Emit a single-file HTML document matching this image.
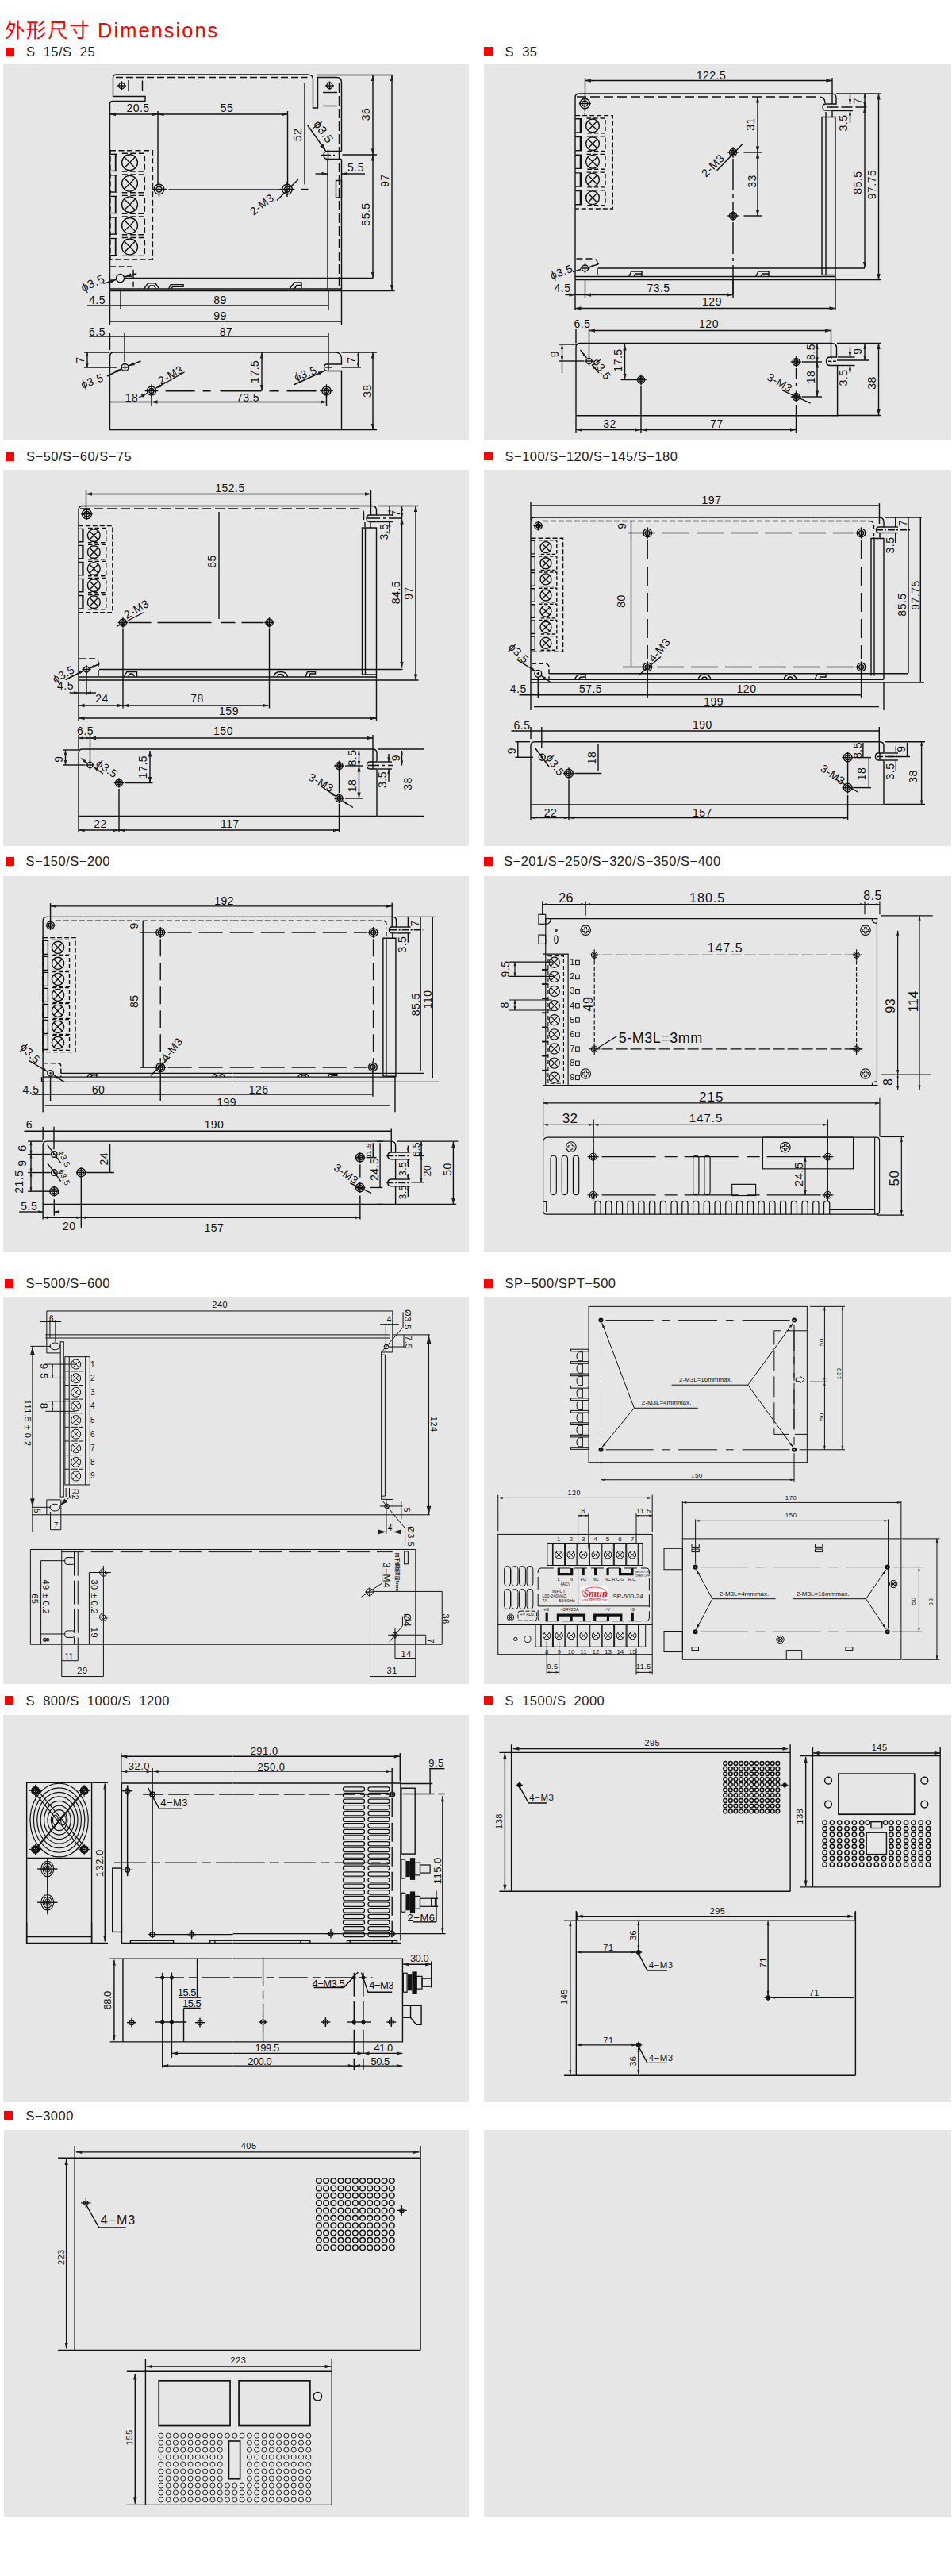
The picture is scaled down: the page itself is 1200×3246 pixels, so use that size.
<!DOCTYPE html>
<html lang="zh"><head><meta charset="utf-8"><title>外形尺寸 Dimensions</title>
<style>
html,body{margin:0;padding:0;background:#fff}
body{width:1200px;height:3246px;position:relative;overflow:hidden;font-family:"Liberation Sans","Noto Sans CJK SC",sans-serif}
.pn{position:absolute;background:#e6e6e6}
.sq{position:absolute;width:11px;height:11px;background:#fe0000}
.lb{position:absolute;font-size:16.5px;line-height:20px;color:#222;white-space:nowrap;letter-spacing:0.5px}
h1{position:absolute;left:6px;top:22px;margin:0;font-weight:normal;font-size:25.5px;line-height:32px;color:#fe0000;white-space:nowrap;letter-spacing:1.6px}
svg{position:absolute;left:0;top:0}
svg text{font-family:"Liberation Sans",sans-serif;font-size:14px;fill:#111;stroke:none;letter-spacing:0.5px}
</style></head><body>
<h1>外形尺寸 <span style="letter-spacing:2px">Dimensions</span></h1>
<div class="pn" style="left:4px;top:81px;width:587px;height:473.7px"></div>
<div class="sq" style="left:7px;top:60px"></div>
<div class="lb" style="left:33px;top:55.4px">S−15/S−25</div>
<div class="pn" style="left:609.5px;top:81px;width:589.3px;height:473.7px"></div>
<div class="sq" style="left:609.5px;top:59.4px"></div>
<div class="lb" style="left:636.5px;top:55.4px">S−35</div>
<div class="pn" style="left:4.4px;top:592px;width:586.6px;height:474.2px"></div>
<div class="sq" style="left:6.6px;top:569.5px"></div>
<div class="lb" style="left:33px;top:564.9px">S−50/S−60/S−75</div>
<div class="pn" style="left:609.5px;top:592px;width:589.3px;height:474.2px"></div>
<div class="sq" style="left:609.5px;top:569.3px"></div>
<div class="lb" style="left:636.5px;top:564.9px">S−100/S−120/S−145/S−180</div>
<div class="pn" style="left:4.4px;top:1103.7px;width:586.6px;height:474px"></div>
<div class="sq" style="left:6.6px;top:1080.1px"></div>
<div class="lb" style="left:32.5px;top:1075.1000000000001px">S−150/S−200</div>
<div class="pn" style="left:609.5px;top:1103.7px;width:589.3px;height:474px"></div>
<div class="sq" style="left:609.5px;top:1080.1px"></div>
<div class="lb" style="left:635px;top:1075.1000000000001px">S−201/S−250/S−320/S−350/S−400</div>
<div class="pn" style="left:4.4px;top:1634.1px;width:586.6px;height:488px"></div>
<div class="sq" style="left:5.8px;top:1612px"></div>
<div class="lb" style="left:32.5px;top:1607.4px">S−500/S−600</div>
<div class="pn" style="left:609.5px;top:1634.1px;width:589.3px;height:488px"></div>
<div class="sq" style="left:609.5px;top:1612px"></div>
<div class="lb" style="left:636.5px;top:1607.4px">SP−500/SPT−500</div>
<div class="pn" style="left:4.4px;top:2160.9px;width:586.6px;height:488px"></div>
<div class="sq" style="left:5.8px;top:2137px"></div>
<div class="lb" style="left:32.5px;top:2132.9px">S−800/S−1000/S−1200</div>
<div class="pn" style="left:609.5px;top:2160.9px;width:589.3px;height:488px"></div>
<div class="sq" style="left:609.5px;top:2137px"></div>
<div class="lb" style="left:636.5px;top:2132.9px">S−1500/S−2000</div>
<div class="pn" style="left:5.3px;top:2683.9px;width:585.7px;height:488.4px"></div>
<div class="sq" style="left:5.3px;top:2660.4px"></div>
<div class="lb" style="left:32.5px;top:2655.9px">S−3000</div>
<div class="pn" style="left:609.5px;top:2683.9px;width:589.3px;height:488.4px"></div>
<svg width="1200" height="3246" viewBox="0 0 1200 3246" fill="none" stroke="#111" stroke-width="1.4">
<g id="p1">
<path d="M 138.5 366.5 L 138.5 131.0 Q 138.5 128.0 141.5 127.5 L 183.0 127.5 L 183.0 121.5 L 142.5 121.5 L 142.5 98.0 Q 142.5 94.0 146.5 94.0 L 387.5 94.0 Q 394.5 94.0 394.5 100.0 L 394.5 136.0 L 400.5 136.0 L 400.5 97.5 L 424.0 97.5 Q 430.5 97.5 430.5 104.0 L 430.5 190.5"/>
<path d="M146.0 97.5L387.5 97.5" stroke-dasharray="9 4"/>
<circle cx="153.5" cy="108.0" r="3.7"/>
<path d="M147.95 108.0L159.05 108.0"/>
<path d="M153.5 102.45L153.5 113.55"/>
<path d="M162.0 101.0L162.0 115.0"/>
<path d="M179.5 101.5L179.5 115.0"/>
<circle cx="415.5" cy="108.0" r="3.7"/>
<path d="M409.95 108.0L421.05 108.0"/>
<path d="M415.5 102.45L415.5 113.55"/>
<path d="M407.0 116.5L425.0 116.5"/>
<path d="M407.0 133.5L425.0 133.5"/>
<path d="M427.5 105.0L427.5 190.5" stroke-dasharray="12 4"/>
<path d="M138.5 144.0L199.0 144.0"/>
<path d="M138.5 144.0L146.0 141.8L146.0 146.2Z" fill="#1f1f1f" stroke="none"/>
<path d="M199.0 144.0L191.5 146.2L191.5 141.8Z" fill="#1f1f1f" stroke="none"/>
<text x="174.0" y="141.0" text-anchor="middle">20.5</text>
<path d="M199.0 144.0L362.5 144.0"/>
<path d="M199.0 144.0L206.5 141.8L206.5 146.2Z" fill="#1f1f1f" stroke="none"/>
<path d="M362.5 144.0L355.0 146.2L355.0 141.8Z" fill="#1f1f1f" stroke="none"/>
<text x="286.0" y="141.0" text-anchor="middle">55</text>
<path d="M199.0 140.0L199.0 232.5"/>
<path d="M362.5 140.0L362.5 232.5"/>
<text x="380.0" y="170.0" text-anchor="middle" transform="rotate(-90 380.0 170.0)">52</text>
<path d="M384.0 105.0L384.0 232.5"/>
<path d="M380.0 238.5L388.5 238.5"/>
<circle cx="200.5" cy="238.5" r="6.25"/>
<circle cx="200.5" cy="238.5" r="3.44"/>
<path d="M191.12 238.5L209.88 238.5"/>
<path d="M200.5 229.12L200.5 247.88"/>
<circle cx="362.0" cy="238.5" r="6.25"/>
<circle cx="362.0" cy="238.5" r="3.44"/>
<path d="M352.62 238.5L371.38 238.5"/>
<path d="M362.0 229.12L362.0 247.88"/>
<path d="M212.5 239.0L354.0 239.0"/>
<text x="333.1" y="261.47" text-anchor="middle" transform="rotate(-38 333.1 261.47)">2-M3</text>
<path d="M349.0 252.5L376.0 226.0"/>
<text x="403.63" y="169.17" text-anchor="middle" style="font-size:15px;" transform="rotate(54 403.63 169.17)">ϕ3.5</text>
<path d="M387.5 157.5L410.5 190.0"/>
<path d="M410.5 190.0L403.18 184.16L407.42 181.15Z" fill="#1f1f1f" stroke="none"/>
<path d="M 430.5 190.5 L 413.0 190.5 Q 408.0 190.5 408.0 195.5 Q 408.0 200.5 413.0 200.5 L 430.5 200.5"/>
<path d="M405.0 195.5L422.0 195.5" stroke-dasharray="12 3"/>
<path d="M413.5 188.0L413.5 203.0"/>
<path d="M427.5 190.5L427.5 200.5"/>
<path d="M431.5 195.0L475.0 195.0"/>
<path d="M397.5 219.0L413.0 219.0"/>
<path d="M413.0 219.0L405.5 221.2L405.5 216.8Z" fill="#1f1f1f" stroke="none"/>
<path d="M460.0 219.0L430.5 219.0"/>
<path d="M430.5 219.0L438.0 216.8L438.0 221.2Z" fill="#1f1f1f" stroke="none"/>
<text x="448.5" y="216.0" text-anchor="middle">5.5</text>
<path d="M413.0 201.0L413.0 366.5"/>
<path d="M430.5 200.5L430.5 366.5"/>
<path d="M427.5 205.0L427.5 361.0" stroke-dasharray="12 4"/>
<rect x="423.5" y="227.5" width="7.0" height="21.5"/>
<path d="M399.0 94.5L496.0 94.5"/>
<path d="M470.0 94.5L470.0 195.0"/>
<path d="M470.0 94.5L472.2 102.0L467.8 102.0Z" fill="#1f1f1f" stroke="none"/>
<path d="M470.0 195.0L467.8 187.5L472.2 187.5Z" fill="#1f1f1f" stroke="none"/>
<text x="466.0" y="144.0" text-anchor="middle" transform="rotate(-90 466.0 144.0)">36</text>
<path d="M494.0 94.5L494.0 366.5"/>
<path d="M494.0 94.5L496.2 102.0L491.8 102.0Z" fill="#1f1f1f" stroke="none"/>
<path d="M494.0 366.5L491.8 359.0L496.2 359.0Z" fill="#1f1f1f" stroke="none"/>
<text x="490.0" y="227.5" text-anchor="middle" transform="rotate(-90 490.0 227.5)">97</text>
<path d="M470.0 195.0L470.0 350.5"/>
<path d="M470.0 195.0L472.2 202.5L467.8 202.5Z" fill="#1f1f1f" stroke="none"/>
<path d="M470.0 350.5L467.8 343.0L472.2 343.0Z" fill="#1f1f1f" stroke="none"/>
<text x="466.0" y="270.0" text-anchor="middle" transform="rotate(-90 466.0 270.0)">55.5</text>
<rect x="138.99" y="189.75" width="53.45" height="137.31" stroke-dasharray="7 3.5"/>
<circle cx="163.53" cy="204.71" r="9.92"/>
<path d="M156.52 197.7L170.54 211.72"/>
<path d="M156.52 211.72L170.54 197.7"/>
<path d="M138.99 194.29L147.06 194.29"/>
<path d="M138.99 215.46L147.06 215.46"/>
<path d="M145.71 194.29L145.71 215.46" stroke-width="1.8"/>
<path d="M153.78 193.28L182.35 193.28L182.35 216.13L153.78 216.13" stroke-dasharray="7 3.5"/>
<circle cx="163.53" cy="231.26" r="9.92"/>
<path d="M156.52 224.25L170.54 238.27"/>
<path d="M156.52 238.27L170.54 224.25"/>
<path d="M138.99 220.84L147.06 220.84"/>
<path d="M138.99 242.02L147.06 242.02"/>
<path d="M145.71 220.84L145.71 242.02" stroke-width="1.8"/>
<path d="M153.78 219.83L182.35 219.83L182.35 242.69L153.78 242.69" stroke-dasharray="7 3.5"/>
<circle cx="163.53" cy="257.82" r="9.92"/>
<path d="M156.52 250.8L170.54 264.83"/>
<path d="M156.52 264.83L170.54 250.8"/>
<path d="M138.99 247.39L147.06 247.39"/>
<path d="M138.99 268.57L147.06 268.57"/>
<path d="M145.71 247.39L145.71 268.57" stroke-width="1.8"/>
<path d="M153.78 246.39L182.35 246.39L182.35 269.24L153.78 269.24" stroke-dasharray="7 3.5"/>
<circle cx="163.53" cy="284.37" r="9.92"/>
<path d="M156.52 277.36L170.54 291.38"/>
<path d="M156.52 291.38L170.54 277.36"/>
<path d="M138.99 273.95L147.06 273.95"/>
<path d="M138.99 295.13L147.06 295.13"/>
<path d="M145.71 273.95L145.71 295.13" stroke-width="1.8"/>
<path d="M153.78 272.94L182.35 272.94L182.35 295.8L153.78 295.8" stroke-dasharray="7 3.5"/>
<circle cx="163.53" cy="310.92" r="9.92"/>
<path d="M156.52 303.91L170.54 317.93"/>
<path d="M156.52 317.93L170.54 303.91"/>
<path d="M138.99 300.5L147.06 300.5"/>
<path d="M138.99 321.68L147.06 321.68"/>
<path d="M145.71 300.5L145.71 321.68" stroke-width="1.8"/>
<path d="M153.78 299.5L182.35 299.5L182.35 322.35L153.78 322.35" stroke-dasharray="7 3.5"/>
<path d="M 138.99 335.97 L 164.71 335.97 Q 168.07 335.97 168.07 339.66" stroke-dasharray="7 3.5"/>
<path d="M168.07 339.66L168.07 350.08"/>
<path d="M168.07 354.79L168.07 364.03" stroke-dasharray="7 3.5"/>
<circle cx="151.6" cy="350.59" r="5.04"/>
<text x="119.09" y="361.36" text-anchor="middle" style="font-size:15px;" transform="rotate(-25 119.09 361.36)">ϕ3.5</text>
<path d="M130.25 357.31L146.72 352.27"/>
<path d="M146.72 352.27L139.77 356.91L138.37 352.32Z" fill="#1f1f1f" stroke="none"/>
<path d="M172.27 344.71L157.65 348.74"/>
<path d="M157.65 348.74L164.72 344.3L166.0 348.93Z" fill="#1f1f1f" stroke="none"/>
<path d="M 181.51 364.03 L 186.55 356.81 L 195.8 356.81 L 200.84 364.03 M 186.55 364.03 L 189.08 359.83 L 194.12 359.83 L 196.64 364.03"/>
<path d="M 212.61 364.03 L 215.13 358.66 L 231.09 358.66 L 231.09 361.18 L 217.65 361.18 L 215.97 364.03"/>
<path d="M156.0 350.5L470.0 350.5"/>
<path d="M138.5 364.0L430.5 364.0"/>
<path d="M138.5 366.5L497.5 366.5"/>
<path d="M 365.0 364.0 L 371.0 356.0 L 380.0 356.0 L 380.0 364.0 M 371.0 364.0 L 374.0 359.5 L 380.0 359.5"/>
<text x="122.5" y="383.0" text-anchor="middle">4.5</text>
<path d="M110.0 385.0L414.0 385.0"/>
<text x="277.5" y="383.0" text-anchor="middle">89</text>
<path d="M138.5 366.5L138.5 409.0"/>
<path d="M152.0 366.5L152.0 389.0"/>
<path d="M414.0 366.5L414.0 391.0"/>
<path d="M430.5 366.5L430.5 409.0"/>
<path d="M138.5 405.0L430.5 405.0"/>
<text x="277.5" y="403.0" text-anchor="middle">99</text>
<text x="122.5" y="423.0" text-anchor="middle">6.5</text>
<path d="M112.5 424.0L414.0 424.0"/>
<text x="285.0" y="423.0" text-anchor="middle">87</text>
<path d="M138.5 420.0L138.5 441.0"/>
<path d="M157.0 420.0L157.0 456.0"/>
<path d="M414.0 420.0L414.0 459.0"/>
<path d="M 138.5 449.0 Q 138.5 444.0 143.5 444.0 L 422.5 444.0 Q 430.5 444.0 430.5 452.0 L 430.5 459.0 L 412.0 459.0 Q 408.5 459.0 408.5 463.0 Q 408.5 467.5 412.0 467.5 L 430.5 467.5 L 430.5 541.5 L 138.5 541.5 L 138.5 449.0"/>
<path d="M410.0 463.0L418.0 463.0"/>
<path d="M414.0 460.0L414.0 466.5"/>
<circle cx="157.5" cy="463.0" r="4.5"/>
<path d="M153.0 463.0L162.0 463.0"/>
<path d="M157.5 458.5L157.5 467.5"/>
<path d="M106.0 444.0L138.5 444.0"/>
<path d="M106.0 463.0L148.0 463.0"/>
<path d="M110.0 444.0L110.0 463.0"/>
<path d="M110.0 444.0L111.6 449.0L108.4 449.0Z" fill="#1f1f1f" stroke="none"/>
<path d="M110.0 463.0L108.4 458.0L111.6 458.0Z" fill="#1f1f1f" stroke="none"/>
<text x="106.0" y="453.5" text-anchor="middle" transform="rotate(-90 106.0 453.5)">7</text>
<text x="117.72" y="484.74" text-anchor="middle" transform="rotate(-20 117.72 484.74)">ϕ3.5</text>
<path d="M135.0 474.0L153.0 465.0"/>
<path d="M153.0 465.0L147.28 470.32L145.31 466.39Z" fill="#1f1f1f" stroke="none"/>
<path d="M177.5 455.0L162.0 461.0"/>
<path d="M162.0 461.0L168.2 456.24L169.79 460.34Z" fill="#1f1f1f" stroke="none"/>
<circle cx="191.0" cy="492.5" r="5.5"/>
<circle cx="191.0" cy="492.5" r="3.03"/>
<path d="M182.75 492.5L199.25 492.5"/>
<path d="M191.0 484.25L191.0 500.75"/>
<text x="217.52" y="476.86" text-anchor="middle" transform="rotate(-30 217.52 476.86)">2-M3</text>
<path d="M232.5 469.0L196.0 489.5"/>
<path d="M196.0 489.5L201.12 484.33L203.08 487.82Z" fill="#1f1f1f" stroke="none"/>
<text x="166.0" y="506.0" text-anchor="middle">18</text>
<path d="M175.0 501.0L185.5 495.5"/>
<path d="M185.5 495.5L179.88 500.93L177.84 497.03Z" fill="#1f1f1f" stroke="none"/>
<path d="M208.6 492.7L398.5 492.7" stroke-dasharray="37 10 10 12 52 10 12 10 37"/>
<circle cx="411.5" cy="492.5" r="5.5"/>
<circle cx="411.5" cy="492.5" r="3.03"/>
<path d="M403.25 492.5L419.75 492.5"/>
<path d="M411.5 484.25L411.5 500.75"/>
<path d="M330.0 444.0L330.0 492.5"/>
<path d="M330.0 444.0L332.2 451.5L327.8 451.5Z" fill="#1f1f1f" stroke="none"/>
<path d="M330.0 492.5L327.8 485.0L332.2 485.0Z" fill="#1f1f1f" stroke="none"/>
<text x="326.0" y="468.25" text-anchor="middle" transform="rotate(-90 326.0 468.25)">17.5</text>
<path d="M191.0 506.5L411.5 506.5"/>
<path d="M191.0 506.5L198.5 504.3L198.5 508.7Z" fill="#1f1f1f" stroke="none"/>
<path d="M411.5 506.5L404.0 508.7L404.0 504.3Z" fill="#1f1f1f" stroke="none"/>
<text x="312.5" y="505.5" text-anchor="middle">73.5</text>
<path d="M138.5 506.5L191.0 506.5"/>
<path d="M191.0 499.0L191.0 511.0"/>
<path d="M411.5 499.0L411.5 511.0"/>
<text x="386.72" y="475.24" text-anchor="middle" transform="rotate(-20 386.72 475.24)">ϕ3.5</text>
<path d="M370.0 485.0L408.5 467.5"/>
<path d="M408.5 467.5L402.58 472.61L400.76 468.6Z" fill="#1f1f1f" stroke="none"/>
<path d="M430.5 444.0L475.0 444.0"/>
<path d="M430.5 463.0L455.0 463.0"/>
<path d="M451.5 444.0L451.5 463.0"/>
<path d="M451.5 444.0L453.1 449.0L449.9 449.0Z" fill="#1f1f1f" stroke="none"/>
<path d="M451.5 463.0L449.9 458.0L453.1 458.0Z" fill="#1f1f1f" stroke="none"/>
<text x="447.5" y="453.5" text-anchor="middle" transform="rotate(-90 447.5 453.5)">7</text>
<path d="M470.0 444.0L470.0 541.5"/>
<path d="M470.0 444.0L472.2 451.5L467.8 451.5Z" fill="#1f1f1f" stroke="none"/>
<path d="M470.0 541.5L467.8 534.0L472.2 534.0Z" fill="#1f1f1f" stroke="none"/>
<text x="468.0" y="492.75" text-anchor="middle" transform="rotate(-90 468.0 492.75)">38</text>
<path d="M430.5 541.5L475.0 541.5"/>
</g>
<g id="p2">
<path d="M 725.0 352.5 L 725.0 123.0 Q 725.0 118.0 730.0 118.0 L 1048.5 118.0 Q 1054.0 118.0 1054.0 124.0 L 1054.0 131.0 L 1041.0 131.0 Q 1037.0 131.0 1037.0 135.0 Q 1037.0 139.0 1041.0 139.0 L 1049.0 139.0 L 1049.0 147.5"/>
<path d="M 727.0 122.0 L 1032.5 122.0 Q 1040.0 122.0 1040.0 130.0" stroke-dasharray="12 5"/>
<path d="M1041.0 141.0L1041.0 147.5" stroke-dasharray="6 4"/>
<path d="M1042.5 135.0L1092.5 135.0" stroke-dasharray="14 4"/>
<circle cx="1048.5" cy="135.0" r="0.75" fill="#1f1f1f" stroke="none"/>
<path d="M1036.0 346.5L1036.0 147.5L1053.0 147.5L1053.0 352.5"/>
<path d="M1041.0 147.5L1041.0 346.5"/>
<path d="M1036.0 346.5L1053.0 346.5"/>
<path d="M737.5 101.5L1049.0 101.5"/>
<path d="M737.5 101.5L745.0 99.3L745.0 103.7Z" fill="#1f1f1f" stroke="none"/>
<path d="M1049.0 101.5L1041.5 103.7L1041.5 99.3Z" fill="#1f1f1f" stroke="none"/>
<text x="896.5" y="99.5" text-anchor="middle">122.5</text>
<path d="M737.5 98.0L737.5 126.0"/>
<path d="M1049.0 98.0L1049.0 131.0"/>
<path d="M1054.0 118.0L1111.0 118.0"/>
<path d="M1049.0 139.5L1075.0 139.5"/>
<path d="M1071.5 118.0L1071.5 131.0"/>
<path d="M1071.5 131.0L1069.8 125.0L1073.2 125.0Z" fill="#1f1f1f" stroke="none"/>
<path d="M1071.5 155.0L1071.5 139.5"/>
<path d="M1071.5 139.5L1073.2 145.5L1069.8 145.5Z" fill="#1f1f1f" stroke="none"/>
<text x="1067.5" y="155.0" text-anchor="middle" transform="rotate(-90 1067.5 155.0)">3.5</text>
<path d="M1090.0 118.0L1090.0 135.0"/>
<path d="M1090.0 118.0L1091.7 124.0L1088.3 124.0Z" fill="#1f1f1f" stroke="none"/>
<path d="M1090.0 135.0L1088.3 129.0L1091.7 129.0Z" fill="#1f1f1f" stroke="none"/>
<text x="1085.5" y="127.0" text-anchor="middle" transform="rotate(-90 1085.5 127.0)">7</text>
<path d="M1090.0 135.0L1090.0 337.5"/>
<path d="M1090.0 135.0L1092.2 142.5L1087.8 142.5Z" fill="#1f1f1f" stroke="none"/>
<path d="M1090.0 337.5L1087.8 330.0L1092.2 330.0Z" fill="#1f1f1f" stroke="none"/>
<text x="1086.0" y="230.0" text-anchor="middle" transform="rotate(-90 1086.0 230.0)">85.5</text>
<path d="M1107.5 118.0L1107.5 352.5"/>
<path d="M1107.5 118.0L1109.7 125.5L1105.3 125.5Z" fill="#1f1f1f" stroke="none"/>
<path d="M1107.5 352.5L1105.3 345.0L1109.7 345.0Z" fill="#1f1f1f" stroke="none"/>
<text x="1104.0" y="232.5" text-anchor="middle" transform="rotate(-90 1104.0 232.5)">97.75</text>
<circle cx="737.3" cy="130.5" r="6.25"/>
<circle cx="737.3" cy="130.5" r="3.44"/>
<path d="M729.8 130.5L744.8 130.5"/>
<path d="M737.3 123.0L737.3 138.0"/>
<path d="M725.2 145.6L772.3 145.6L772.3 263.0L725.2 263.0" stroke-dasharray="6 3"/>
<circle cx="747.0" cy="158.4" r="8.4"/>
<path d="M741.06 152.46L752.94 164.34"/>
<path d="M741.06 164.34L752.94 152.46"/>
<path d="M725.2 149.8L732.3 149.8L732.3 167.0L725.2 167.0"/>
<path d="M731.4 149.8L731.4 167.0"/>
<path d="M739.5 149.0L763.0 149.0L763.0 167.8L739.5 167.8" stroke-dasharray="5.5 3"/>
<circle cx="747.0" cy="181.1" r="8.4"/>
<path d="M741.06 175.16L752.94 187.04"/>
<path d="M741.06 187.04L752.94 175.16"/>
<path d="M725.2 172.5L732.3 172.5L732.3 189.7L725.2 189.7"/>
<path d="M731.4 172.5L731.4 189.7"/>
<path d="M739.5 171.7L763.0 171.7L763.0 190.5L739.5 190.5" stroke-dasharray="5.5 3"/>
<circle cx="747.0" cy="203.8" r="8.4"/>
<path d="M741.06 197.86L752.94 209.74"/>
<path d="M741.06 209.74L752.94 197.86"/>
<path d="M725.2 195.2L732.3 195.2L732.3 212.4L725.2 212.4"/>
<path d="M731.4 195.2L731.4 212.4"/>
<path d="M739.5 194.4L763.0 194.4L763.0 213.2L739.5 213.2" stroke-dasharray="5.5 3"/>
<circle cx="747.0" cy="226.5" r="8.4"/>
<path d="M741.06 220.56L752.94 232.44"/>
<path d="M741.06 232.44L752.94 220.56"/>
<path d="M725.2 217.9L732.3 217.9L732.3 235.1L725.2 235.1"/>
<path d="M731.4 217.9L731.4 235.1"/>
<path d="M739.5 217.1L763.0 217.1L763.0 235.9L739.5 235.9" stroke-dasharray="5.5 3"/>
<circle cx="747.0" cy="249.2" r="8.4"/>
<path d="M741.06 243.26L752.94 255.14"/>
<path d="M741.06 255.14L752.94 243.26"/>
<path d="M725.2 240.6L732.3 240.6L732.3 257.8L725.2 257.8"/>
<path d="M731.4 240.6L731.4 257.8"/>
<path d="M739.5 239.8L763.0 239.8L763.0 258.6L739.5 258.6" stroke-dasharray="5.5 3"/>
<path d="M737.3 137.5L737.3 145.0" stroke-dasharray="3 2"/>
<circle cx="924.0" cy="192.0" r="4.5"/>
<circle cx="924.0" cy="192.0" r="2.48"/>
<path d="M917.25 192.0L930.75 192.0"/>
<path d="M924.0 185.25L924.0 198.75"/>
<circle cx="924.0" cy="272.0" r="4.5"/>
<circle cx="924.0" cy="272.0" r="2.48"/>
<path d="M917.25 272.0L930.75 272.0"/>
<path d="M924.0 265.25L924.0 278.75"/>
<path d="M924.0 200.0L924.0 265.0" stroke-dasharray="40 5 4 5"/>
<path d="M924.0 280.0L924.0 370.0" stroke-dasharray="40 5 4 5"/>
<path d="M955.0 122.0L955.0 192.0"/>
<path d="M955.0 122.0L957.2 129.5L952.8 129.5Z" fill="#1f1f1f" stroke="none"/>
<path d="M955.0 192.0L952.8 184.5L957.2 184.5Z" fill="#1f1f1f" stroke="none"/>
<text x="951.0" y="156.5" text-anchor="middle" transform="rotate(-90 951.0 156.5)">31</text>
<path d="M955.0 192.0L955.0 272.0"/>
<path d="M955.0 192.0L957.2 199.5L952.8 199.5Z" fill="#1f1f1f" stroke="none"/>
<path d="M955.0 272.0L952.8 264.5L957.2 264.5Z" fill="#1f1f1f" stroke="none"/>
<text x="952.5" y="228.5" text-anchor="middle" transform="rotate(-90 952.5 228.5)">33</text>
<path d="M937.5 192.0L960.0 192.0"/>
<path d="M937.5 272.0L960.0 272.0"/>
<text x="902.06" y="212.06" text-anchor="middle" transform="rotate(-45 902.06 212.06)">2-M3</text>
<path d="M903.5 215.0L936.0 181.5"/>
<path d="M 726.5 326.0 L 747.5 326.0 Q 753.0 326.0 753.0 332.0 L 753.0 348.5" stroke-dasharray="8 4"/>
<circle cx="737.5" cy="338.0" r="4.0"/>
<path d="M731.5 338.0L743.5 338.0"/>
<path d="M737.5 332.0L737.5 344.0"/>
<text x="709.22" y="347.24" text-anchor="middle" transform="rotate(-20 709.22 347.24)">ϕ3.5</text>
<path d="M722.0 342.5L732.0 339.5"/>
<path d="M754.0 338.0L1090.0 338.0"/>
<path d="M725.0 348.5L1053.0 348.5"/>
<path d="M725.0 352.5L1111.0 352.5"/>
<path d="M 792.5 348.5 L 796.0 342.0 L 809.0 342.0 L 809.0 348.5 M 799.0 348.5 L 801.0 345.0 L 809.0 345.0"/>
<path d="M 952.5 348.5 L 956.0 342.0 L 969.0 342.0 L 969.0 348.5 M 959.0 348.5 L 961.0 345.0 L 969.0 345.0"/>
<text x="709.0" y="368.0" text-anchor="middle">4.5</text>
<path d="M712.5 371.5L725.0 371.5"/>
<path d="M725.0 371.5L717.5 373.7L717.5 369.3Z" fill="#1f1f1f" stroke="none"/>
<path d="M737.5 371.5L924.0 371.5"/>
<path d="M737.5 371.5L745.0 369.3L745.0 373.7Z" fill="#1f1f1f" stroke="none"/>
<path d="M924.0 371.5L916.5 373.7L916.5 369.3Z" fill="#1f1f1f" stroke="none"/>
<text x="830.0" y="367.5" text-anchor="middle">73.5</text>
<path d="M725.0 371.5L737.5 371.5"/>
<path d="M754.9 332.3L742.5 337.0"/>
<path d="M742.5 337.0L746.61 333.73L747.74 336.72Z" fill="#1f1f1f" stroke="none"/>
<path d="M725.0 352.5L725.0 391.0"/>
<path d="M737.5 351.0L737.5 375.0"/>
<path d="M924.0 352.5L924.0 375.0"/>
<path d="M1053.0 352.5L1053.0 391.0"/>
<path d="M725.0 388.5L1053.0 388.5"/>
<path d="M725.0 388.5L732.5 386.3L732.5 390.7Z" fill="#1f1f1f" stroke="none"/>
<path d="M1053.0 388.5L1045.5 390.7L1045.5 386.3Z" fill="#1f1f1f" stroke="none"/>
<text x="897.5" y="385.0" text-anchor="middle">129</text>
<text x="734.0" y="413.0" text-anchor="middle">6.5</text>
<path d="M742.5 416.5L1047.5 416.5"/>
<path d="M742.5 416.5L750.0 414.3L750.0 418.7Z" fill="#1f1f1f" stroke="none"/>
<path d="M1047.5 416.5L1040.0 418.7L1040.0 414.3Z" fill="#1f1f1f" stroke="none"/>
<text x="893.5" y="413.0" text-anchor="middle">120</text>
<path d="M726.0 414.0L726.0 432.5"/>
<path d="M742.5 414.0L742.5 450.0"/>
<path d="M1047.5 414.0L1047.5 450.0"/>
<path d="M 726.0 523.5 L 726.0 437.5 Q 726.0 432.5 731.0 432.5 L 1045.0 432.5"/>
<path d="M 1045.0 432.5 L 1048.0 432.5 Q 1054.5 432.5 1054.5 438.5 L 1054.5 450.0 L 1046.5 450.0 Q 1041.5 450.0 1041.5 455.2 Q 1041.5 460.5 1046.5 460.5 L 1055.6 460.5 L 1055.6 523.7 L 726.0 523.7"/>
<path d="M1047.6 450.0L1047.6 460.5" stroke-dasharray="3 2"/>
<path d="M1044.0 455.2L1055.0 455.2" stroke-dasharray="4 2"/>
<circle cx="742.5" cy="455.0" r="3.5"/>
<path d="M736.55 455.0L748.45 455.0"/>
<path d="M742.5 449.05L742.5 460.95"/>
<path d="M705.0 434.0L727.5 434.0"/>
<path d="M705.0 455.0L736.0 455.0"/>
<path d="M708.5 434.0L708.5 455.0"/>
<path d="M708.5 434.0L710.2 440.0L706.8 440.0Z" fill="#1f1f1f" stroke="none"/>
<path d="M708.5 455.0L706.8 449.0L710.2 449.0Z" fill="#1f1f1f" stroke="none"/>
<text x="704.0" y="446.0" text-anchor="middle" transform="rotate(-90 704.0 446.0)">9</text>
<path d="M708.5 455.0L708.5 470.0"/>
<text x="754.87" y="467.89" text-anchor="middle" transform="rotate(55 754.87 467.89)">ϕ3.5</text>
<path d="M731.5 441.0L739.5 451.0"/>
<path d="M739.5 451.0L734.35 447.44L737.16 445.19Z" fill="#1f1f1f" stroke="none"/>
<path d="M755.0 470.0L746.0 459.5"/>
<path d="M746.0 459.5L751.27 462.88L748.54 465.23Z" fill="#1f1f1f" stroke="none"/>
<path d="M787.5 434.0L787.5 478.5"/>
<path d="M787.5 434.0L789.7 441.5L785.3 441.5Z" fill="#1f1f1f" stroke="none"/>
<path d="M787.5 478.5L785.3 471.0L789.7 471.0Z" fill="#1f1f1f" stroke="none"/>
<text x="784.0" y="454.0" text-anchor="middle" transform="rotate(-90 784.0 454.0)">17.5</text>
<path d="M782.5 478.5L802.5 478.5"/>
<circle cx="808.0" cy="478.5" r="4.5"/>
<circle cx="808.0" cy="478.5" r="2.48"/>
<path d="M801.25 478.5L814.75 478.5"/>
<path d="M808.0 471.75L808.0 485.25"/>
<path d="M808.0 486.0L808.0 545.0"/>
<circle cx="1003.5" cy="456.0" r="4.5"/>
<circle cx="1003.5" cy="456.0" r="2.48"/>
<path d="M996.75 456.0L1010.25 456.0"/>
<path d="M1003.5 449.25L1003.5 462.75"/>
<circle cx="1003.5" cy="500.0" r="4.5"/>
<circle cx="1003.5" cy="500.0" r="2.48"/>
<path d="M996.75 500.0L1010.25 500.0"/>
<path d="M1003.5 493.25L1003.5 506.75"/>
<path d="M1003.5 464.0L1003.5 492.5" stroke-dasharray="14 5 3 5"/>
<path d="M1003.5 510.0L1003.5 545.0"/>
<path d="M1030.0 434.0L1030.0 456.0"/>
<path d="M1030.0 434.0L1031.7 440.0L1028.3 440.0Z" fill="#1f1f1f" stroke="none"/>
<path d="M1030.0 456.0L1028.3 450.0L1031.7 450.0Z" fill="#1f1f1f" stroke="none"/>
<text x="1026.5" y="443.5" text-anchor="middle" transform="rotate(-90 1026.5 443.5)">8.5</text>
<path d="M1030.0 456.0L1030.0 500.0"/>
<path d="M1030.0 456.0L1032.2 463.5L1027.8 463.5Z" fill="#1f1f1f" stroke="none"/>
<path d="M1030.0 500.0L1027.8 492.5L1032.2 492.5Z" fill="#1f1f1f" stroke="none"/>
<text x="1026.5" y="475.0" text-anchor="middle" transform="rotate(-90 1026.5 475.0)">18</text>
<path d="M1011.0 456.0L1036.0 456.0"/>
<path d="M1011.0 500.0L1036.0 500.0"/>
<text x="980.48" y="486.36" text-anchor="middle" transform="rotate(30 980.48 486.36)">3-M3</text>
<path d="M986.3 491.8L1021.6 508.2"/>
<path d="M1055.0 432.5L1111.0 432.5"/>
<path d="M1055.0 454.0L1095.0 454.0"/>
<path d="M1055.0 523.5L1111.0 523.5"/>
<path d="M1090.0 434.0L1090.0 454.0"/>
<path d="M1090.0 434.0L1091.7 440.0L1088.3 440.0Z" fill="#1f1f1f" stroke="none"/>
<path d="M1090.0 454.0L1088.3 448.0L1091.7 448.0Z" fill="#1f1f1f" stroke="none"/>
<text x="1086.0" y="442.5" text-anchor="middle" transform="rotate(-90 1086.0 442.5)">9</text>
<path d="M1071.5 437.5L1071.5 450.0"/>
<path d="M1071.5 450.0L1069.8 444.0L1073.2 444.0Z" fill="#1f1f1f" stroke="none"/>
<path d="M1071.5 470.0L1071.5 460.5"/>
<path d="M1071.5 460.5L1073.2 466.5L1069.8 466.5Z" fill="#1f1f1f" stroke="none"/>
<path d="M1056.0 450.0L1077.5 450.0"/>
<path d="M1056.0 460.5L1077.5 460.5"/>
<text x="1068.0" y="476.0" text-anchor="middle" transform="rotate(-90 1068.0 476.0)">3.5</text>
<path d="M1107.5 432.5L1107.5 523.5"/>
<path d="M1107.5 432.5L1109.7 440.0L1105.3 440.0Z" fill="#1f1f1f" stroke="none"/>
<path d="M1107.5 523.5L1105.3 516.0L1109.7 516.0Z" fill="#1f1f1f" stroke="none"/>
<text x="1104.0" y="482.5" text-anchor="middle" transform="rotate(-90 1104.0 482.5)">38</text>
<path d="M726.0 541.5L808.0 541.5"/>
<path d="M726.0 541.5L733.5 539.3L733.5 543.7Z" fill="#1f1f1f" stroke="none"/>
<path d="M808.0 541.5L800.5 543.7L800.5 539.3Z" fill="#1f1f1f" stroke="none"/>
<text x="768.5" y="538.5" text-anchor="middle">32</text>
<path d="M808.0 541.5L1003.5 541.5"/>
<path d="M808.0 541.5L815.5 539.3L815.5 543.7Z" fill="#1f1f1f" stroke="none"/>
<path d="M1003.5 541.5L996.0 543.7L996.0 539.3Z" fill="#1f1f1f" stroke="none"/>
<text x="903.5" y="538.5" text-anchor="middle">77</text>
<path d="M726.0 523.5L726.0 545.0"/>
</g>
<g id="p3">
<path d="M 99.0 857.0 L 99.0 642.5 Q 99.0 637.5 104.0 637.5 L 469.0 637.5 Q 474.5 637.5 474.5 643.0 L 474.5 649.0 L 466.0 649.0 Q 462.0 649.0 462.0 653.0 Q 462.0 657.5 466.0 657.5 L 474.5 657.5 M 467.0 657.5 L 467.0 665.0"/>
<path d="M 101.0 641.0 L 452.5 641.0 Q 458.5 641.0 458.5 647.0 L 458.5 656.0" stroke-dasharray="12 5"/>
<path d="M460.0 658.0L460.0 664.0" stroke-dasharray="6 4"/>
<path d="M463.0 653.0L510.0 653.0" stroke-dasharray="16 4 3 4"/>
<path d="M456.5 850.0L456.5 665.0L474.5 665.0L474.5 855.0"/>
<path d="M460.5 665.0L460.5 850.0"/>
<path d="M456.5 850.0L474.5 850.0"/>
<path d="M108.5 622.5L467.5 622.5"/>
<path d="M108.5 622.5L116.0 620.3L116.0 624.7Z" fill="#1f1f1f" stroke="none"/>
<path d="M467.5 622.5L460.0 624.7L460.0 620.3Z" fill="#1f1f1f" stroke="none"/>
<text x="290.0" y="619.5" text-anchor="middle">152.5</text>
<path d="M108.5 618.0L108.5 642.5"/>
<path d="M467.5 618.0L467.5 649.0"/>
<path d="M476.0 637.5L527.5 637.5"/>
<path d="M474.5 649.0L495.0 649.0"/>
<path d="M474.5 657.5L495.0 657.5"/>
<path d="M491.0 637.5L491.0 649.0"/>
<path d="M491.0 649.0L489.3 643.0L492.7 643.0Z" fill="#1f1f1f" stroke="none"/>
<path d="M491.0 672.5L491.0 657.5"/>
<path d="M491.0 657.5L492.7 663.5L489.3 663.5Z" fill="#1f1f1f" stroke="none"/>
<text x="488.5" y="670.0" text-anchor="middle" transform="rotate(-90 488.5 670.0)">3.5</text>
<path d="M506.5 637.5L506.5 653.0"/>
<path d="M506.5 637.5L508.2 643.5L504.8 643.5Z" fill="#1f1f1f" stroke="none"/>
<path d="M506.5 653.0L504.8 647.0L508.2 647.0Z" fill="#1f1f1f" stroke="none"/>
<text x="503.5" y="646.5" text-anchor="middle" transform="rotate(-90 503.5 646.5)">7</text>
<path d="M506.5 653.0L506.5 841.5"/>
<path d="M506.5 653.0L508.7 660.5L504.3 660.5Z" fill="#1f1f1f" stroke="none"/>
<path d="M506.5 841.5L504.3 834.0L508.7 834.0Z" fill="#1f1f1f" stroke="none"/>
<text x="503.5" y="746.5" text-anchor="middle" transform="rotate(-90 503.5 746.5)">84.5</text>
<path d="M524.0 637.5L524.0 857.0"/>
<path d="M524.0 637.5L526.2 645.0L521.8 645.0Z" fill="#1f1f1f" stroke="none"/>
<path d="M524.0 857.0L521.8 849.5L526.2 849.5Z" fill="#1f1f1f" stroke="none"/>
<text x="519.5" y="747.5" text-anchor="middle" transform="rotate(-90 519.5 747.5)">97</text>
<circle cx="109.4" cy="647.7" r="6.0"/>
<circle cx="109.4" cy="647.7" r="3.3"/>
<path d="M102.2 647.7L116.6 647.7"/>
<path d="M109.4 640.5L109.4 654.9"/>
<path d="M98.8 662.5L141.8 662.5L141.8 771.8L98.8 771.8" stroke-dasharray="6 3"/>
<circle cx="118.3" cy="674.6" r="7.9"/>
<path d="M112.71 669.01L123.89 680.19"/>
<path d="M112.71 680.19L123.89 669.01"/>
<path d="M98.8 666.4L104.9 666.4L104.9 682.8L98.8 682.8"/>
<path d="M104.0 666.4L104.0 682.8"/>
<path d="M111.0 665.4L133.8 665.4L133.8 683.8L111.0 683.8" stroke-dasharray="5.5 3"/>
<circle cx="118.3" cy="695.6" r="7.9"/>
<path d="M112.71 690.01L123.89 701.19"/>
<path d="M112.71 701.19L123.89 690.01"/>
<path d="M98.8 687.4L104.9 687.4L104.9 703.8L98.8 703.8"/>
<path d="M104.0 687.4L104.0 703.8"/>
<path d="M111.0 686.4L133.8 686.4L133.8 704.8L111.0 704.8" stroke-dasharray="5.5 3"/>
<circle cx="118.3" cy="716.6" r="7.9"/>
<path d="M112.71 711.01L123.89 722.19"/>
<path d="M112.71 722.19L123.89 711.01"/>
<path d="M98.8 708.4L104.9 708.4L104.9 724.8L98.8 724.8"/>
<path d="M104.0 708.4L104.0 724.8"/>
<path d="M111.0 707.4L133.8 707.4L133.8 725.8L111.0 725.8" stroke-dasharray="5.5 3"/>
<circle cx="118.3" cy="737.6" r="7.9"/>
<path d="M112.71 732.01L123.89 743.19"/>
<path d="M112.71 743.19L123.89 732.01"/>
<path d="M98.8 729.4L104.9 729.4L104.9 745.8L98.8 745.8"/>
<path d="M104.0 729.4L104.0 745.8"/>
<path d="M111.0 728.4L133.8 728.4L133.8 746.8L111.0 746.8" stroke-dasharray="5.5 3"/>
<circle cx="118.3" cy="758.7" r="7.9"/>
<path d="M112.71 753.11L123.89 764.29"/>
<path d="M112.71 764.29L123.89 753.11"/>
<path d="M98.8 750.5L104.9 750.5L104.9 766.9L98.8 766.9"/>
<path d="M104.0 750.5L104.0 766.9"/>
<path d="M111.0 749.5L133.8 749.5L133.8 767.9L111.0 767.9" stroke-dasharray="5.5 3"/>
<path d="M276.0 645.0L276.0 780.0"/>
<text x="272.0" y="707.5" text-anchor="middle" transform="rotate(-90 272.0 707.5)">65</text>
<circle cx="155.0" cy="784.5" r="4.5"/>
<circle cx="155.0" cy="784.5" r="2.48"/>
<path d="M148.7 784.5L161.3 784.5"/>
<path d="M155.0 778.2L155.0 790.8"/>
<circle cx="339.5" cy="784.5" r="4.5"/>
<circle cx="339.5" cy="784.5" r="2.48"/>
<path d="M333.2 784.5L345.8 784.5"/>
<path d="M339.5 778.2L339.5 790.8"/>
<path d="M162.5 784.5L332.5 784.5" stroke-dasharray="28 8 68 12 18 8 28 0"/>
<text x="174.52" y="771.86" text-anchor="middle" transform="rotate(-30 174.52 771.86)">2-M3</text>
<path d="M147.0 789.5L181.5 771.5"/>
<path d="M 100.0 830.0 L 119.0 830.0 Q 124.0 830.0 124.0 835.0 L 124.0 853.0" stroke-dasharray="8 4"/>
<circle cx="109.0" cy="843.5" r="3.5"/>
<path d="M103.4 843.5L114.6 843.5"/>
<path d="M109.0 837.9L109.0 849.1"/>
<path d="M125.0 843.5L507.5 843.5"/>
<path d="M99.0 853.0L474.5 853.0"/>
<path d="M99.0 857.0L527.5 857.0"/>
<text x="82.52" y="853.86" text-anchor="middle" transform="rotate(-30 82.52 853.86)">ϕ3.5</text>
<path d="M82.5 856.5L105.5 845.0"/>
<path d="M105.5 845.0L100.94 849.29L99.33 846.07Z" fill="#1f1f1f" stroke="none"/>
<path d="M125.5 836.5L113.0 842.0"/>
<path d="M113.0 842.0L117.77 837.94L119.22 841.23Z" fill="#1f1f1f" stroke="none"/>
<text x="82.5" y="869.0" text-anchor="middle">4.5</text>
<path d="M87.5 873.0L99.0 873.0"/>
<path d="M99.0 873.0L93.0 874.7L93.0 871.3Z" fill="#1f1f1f" stroke="none"/>
<path d="M121.0 873.0L109.0 873.0"/>
<path d="M109.0 873.0L115.0 871.3L115.0 874.7Z" fill="#1f1f1f" stroke="none"/>
<path d="M99.0 873.0L109.0 873.0"/>
<path d="M99.0 889.0L155.0 889.0"/>
<path d="M99.0 889.0L106.5 886.8L106.5 891.2Z" fill="#1f1f1f" stroke="none"/>
<path d="M155.0 889.0L147.5 891.2L147.5 886.8Z" fill="#1f1f1f" stroke="none"/>
<text x="128.5" y="884.5" text-anchor="middle">24</text>
<path d="M155.0 889.0L338.5 889.0"/>
<path d="M155.0 889.0L162.5 886.8L162.5 891.2Z" fill="#1f1f1f" stroke="none"/>
<path d="M338.5 889.0L331.0 891.2L331.0 886.8Z" fill="#1f1f1f" stroke="none"/>
<text x="248.5" y="884.5" text-anchor="middle">78</text>
<path d="M99.0 905.0L474.5 905.0"/>
<path d="M99.0 905.0L106.5 902.8L106.5 907.2Z" fill="#1f1f1f" stroke="none"/>
<path d="M474.5 905.0L467.0 907.2L467.0 902.8Z" fill="#1f1f1f" stroke="none"/>
<text x="288.5" y="900.5" text-anchor="middle">159</text>
<path d="M99.0 857.0L99.0 909.0"/>
<path d="M109.0 848.0L109.0 876.0"/>
<path d="M474.5 857.0L474.5 909.0"/>
<path d="M155.0 791.5L155.0 892.5"/>
<path d="M339.5 791.5L339.5 892.5"/>
<path d="M 156.0 853.0 L 160.0 846.5 L 172.5 846.5 L 172.5 853.0 M 162.0 853.0 Q 162.0 849.0 165.5 849.0 Q 169.0 849.0 169.0 853.0"/>
<path d="M 345.0 853.0 Q 346.0 846.5 353.5 846.5 Q 361.5 846.5 362.5 853.0 M 350.0 853.0 Q 350.0 849.5 353.5 849.5 Q 357.5 849.5 357.5 853.0"/>
<path d="M 385.0 853.0 L 387.5 846.5 L 397.5 846.5 L 397.5 849.0 L 391.0 849.0 L 390.0 853.0"/>
<text x="107.5" y="926.0" text-anchor="middle">6.5</text>
<path d="M99.0 930.0L113.5 930.0"/>
<path d="M99.0 930.0L104.0 928.4L104.0 931.6Z" fill="#1f1f1f" stroke="none"/>
<path d="M113.5 930.0L108.5 931.6L108.5 928.4Z" fill="#1f1f1f" stroke="none"/>
<path d="M113.5 930.0L470.0 930.0"/>
<path d="M113.5 930.0L121.0 927.8L121.0 932.2Z" fill="#1f1f1f" stroke="none"/>
<path d="M470.0 930.0L462.5 932.2L462.5 927.8Z" fill="#1f1f1f" stroke="none"/>
<text x="281.5" y="926.0" text-anchor="middle">150</text>
<path d="M99.0 926.0L99.0 944.0"/>
<path d="M113.5 926.0L113.5 960.0"/>
<path d="M470.0 926.0L470.0 960.0"/>
<path d="M 99.0 1028.5 L 99.0 949.0 Q 99.0 944.0 104.0 944.0 L 470.0 944.0 Q 475.0 944.0 475.0 949.0 L 475.0 960.0 L 466.5 960.0 Q 462.5 960.0 462.5 964.5 Q 462.5 969.0 466.5 969.0 L 475.0 969.0 L 475.0 1028.5 Z"/>
<path d="M464.0 964.5L495.0 964.5" stroke-dasharray="14 4 3 4"/>
<path d="M470.0 960.0L470.0 969.0"/>
<circle cx="113.5" cy="964.0" r="3.5"/>
<path d="M107.9 964.0L119.1 964.0"/>
<path d="M113.5 958.4L113.5 969.6"/>
<path d="M79.0 945.0L99.0 945.0"/>
<path d="M79.0 964.0L107.5 964.0"/>
<path d="M82.5 945.0L82.5 964.0"/>
<path d="M82.5 945.0L84.2 951.0L80.8 951.0Z" fill="#1f1f1f" stroke="none"/>
<path d="M82.5 964.0L80.8 958.0L84.2 958.0Z" fill="#1f1f1f" stroke="none"/>
<text x="78.5" y="956.5" text-anchor="middle" transform="rotate(-90 78.5 956.5)">9</text>
<text x="132.11" y="972.63" text-anchor="middle" transform="rotate(35 132.11 972.63)">ϕ3.5</text>
<path d="M102.0 955.5L110.5 962.0"/>
<path d="M110.5 962.0L104.64 959.79L106.83 956.93Z" fill="#1f1f1f" stroke="none"/>
<path d="M130.0 975.0L118.0 966.5"/>
<path d="M118.0 966.5L123.94 968.5L121.86 971.44Z" fill="#1f1f1f" stroke="none"/>
<circle cx="150.0" cy="986.5" r="4.5"/>
<circle cx="150.0" cy="986.5" r="2.48"/>
<path d="M143.7 986.5L156.3 986.5"/>
<path d="M150.0 980.2L150.0 992.8"/>
<path d="M158.0 986.5L192.5 986.5"/>
<path d="M150.0 994.0L150.0 1049.0"/>
<path d="M189.0 946.0L189.0 986.5"/>
<path d="M189.0 946.0L191.2 953.5L186.8 953.5Z" fill="#1f1f1f" stroke="none"/>
<path d="M189.0 986.5L186.8 979.0L191.2 979.0Z" fill="#1f1f1f" stroke="none"/>
<text x="185.0" y="966.5" text-anchor="middle" transform="rotate(-90 185.0 966.5)">17.5</text>
<circle cx="427.5" cy="965.0" r="4.5"/>
<circle cx="427.5" cy="965.0" r="2.48"/>
<path d="M421.2 965.0L433.8 965.0"/>
<path d="M427.5 958.7L427.5 971.3"/>
<circle cx="427.5" cy="1006.0" r="4.5"/>
<circle cx="427.5" cy="1006.0" r="2.48"/>
<path d="M421.2 1006.0L433.8 1006.0"/>
<path d="M427.5 999.7L427.5 1012.3"/>
<path d="M427.5 972.0L427.5 999.0"/>
<path d="M427.5 1013.0L427.5 1049.0"/>
<path d="M452.5 946.0L452.5 965.0"/>
<path d="M452.5 946.0L454.2 952.0L450.8 952.0Z" fill="#1f1f1f" stroke="none"/>
<path d="M452.5 965.0L450.8 959.0L454.2 959.0Z" fill="#1f1f1f" stroke="none"/>
<text x="449.0" y="955.0" text-anchor="middle" transform="rotate(-90 449.0 955.0)">8.5</text>
<path d="M452.5 965.0L452.5 1006.0"/>
<path d="M452.5 965.0L454.7 972.5L450.3 972.5Z" fill="#1f1f1f" stroke="none"/>
<path d="M452.5 1006.0L450.3 998.5L454.7 998.5Z" fill="#1f1f1f" stroke="none"/>
<text x="449.0" y="990.0" text-anchor="middle" transform="rotate(-90 449.0 990.0)">18</text>
<path d="M435.0 965.0L458.0 965.0"/>
<path d="M435.0 1006.0L458.0 1006.0"/>
<text x="402.48" y="990.36" text-anchor="middle" transform="rotate(30 402.48 990.36)">3-M3</text>
<path d="M405.0 991.0L423.5 1003.5"/>
<path d="M423.5 1003.5L417.52 1001.63L419.54 998.65Z" fill="#1f1f1f" stroke="none"/>
<path d="M445.0 1017.5L432.0 1009.0"/>
<path d="M432.0 1009.0L438.01 1010.78L436.04 1013.79Z" fill="#1f1f1f" stroke="none"/>
<path d="M476.0 944.0L535.0 944.0"/>
<path d="M476.0 1028.5L535.0 1028.5"/>
<path d="M506.5 946.0L506.5 964.5"/>
<path d="M506.5 946.0L508.2 952.0L504.8 952.0Z" fill="#1f1f1f" stroke="none"/>
<path d="M506.5 964.5L504.8 958.5L508.2 958.5Z" fill="#1f1f1f" stroke="none"/>
<text x="503.5" y="955.0" text-anchor="middle" transform="rotate(-90 503.5 955.0)">9</text>
<path d="M476.0 960.0L494.0 960.0"/>
<path d="M476.0 969.0L494.0 969.0"/>
<path d="M490.0 950.0L490.0 960.0"/>
<path d="M490.0 960.0L488.3 954.0L491.7 954.0Z" fill="#1f1f1f" stroke="none"/>
<path d="M490.0 985.0L490.0 969.0"/>
<path d="M490.0 969.0L491.7 975.0L488.3 975.0Z" fill="#1f1f1f" stroke="none"/>
<text x="486.5" y="982.5" text-anchor="middle" transform="rotate(-90 486.5 982.5)">3.5</text>
<text x="519.0" y="987.5" text-anchor="middle" transform="rotate(-90 519.0 987.5)">38</text>
<path d="M99.0 1046.0L150.0 1046.0"/>
<path d="M99.0 1046.0L106.5 1043.8L106.5 1048.2Z" fill="#1f1f1f" stroke="none"/>
<path d="M150.0 1046.0L142.5 1048.2L142.5 1043.8Z" fill="#1f1f1f" stroke="none"/>
<text x="126.5" y="1042.5" text-anchor="middle">22</text>
<path d="M150.0 1046.0L427.5 1046.0"/>
<path d="M150.0 1046.0L157.5 1043.8L157.5 1048.2Z" fill="#1f1f1f" stroke="none"/>
<path d="M427.5 1046.0L420.0 1048.2L420.0 1043.8Z" fill="#1f1f1f" stroke="none"/>
<text x="290.0" y="1042.5" text-anchor="middle">117</text>
<path d="M99.0 1028.5L99.0 1049.0"/>
</g>
<g id="p4">
<path d="M 669.0 860.0 L 669.0 657.0 Q 669.0 652.0 674.0 652.0 L 1108.0 652.0 Q 1114.0 652.0 1114.0 658.0 L 1114.0 664.0 L 1108.0 664.0 Q 1104.5 664.0 1104.5 667.8 Q 1104.5 671.5 1108.0 671.5 L 1114.0 671.5 M 1109.0 671.5 L 1109.0 678.5"/>
<path d="M 684.0 656.5 L 1096.0 656.5 Q 1101.5 656.5 1101.5 662.0 L 1101.5 666.0" stroke-dasharray="7 3"/>
<path d="M1101.5 671.0L1101.5 678.0" stroke-dasharray="4 2"/>
<path d="M1104.0 667.8L1148.0 667.8" stroke-dasharray="9 2 2 2"/>
<path d="M1098.0 851.5L1098.0 678.5L1114.0 678.5L1114.0 856.0"/>
<path d="M1102.0 678.5L1102.0 851.5"/>
<path d="M669.0 637.0L1108.5 637.0"/>
<path d="M669.0 637.0L669.1 636.9L669.1 637.1Z" fill="#1f1f1f" stroke="none"/>
<path d="M1108.5 637.0L1108.4 637.1L1108.4 636.9Z" fill="#1f1f1f" stroke="none"/>
<text x="897.0" y="634.5" text-anchor="middle">197</text>
<path d="M669.0 632.0L669.0 655.0"/>
<path d="M1108.5 634.0L1108.5 660.0"/>
<path d="M1115.0 652.0L1162.0 652.0"/>
<path d="M1114.0 664.0L1132.0 664.0"/>
<path d="M1114.0 671.5L1132.0 671.5"/>
<path d="M1128.7 652.0L1128.7 664.0"/>
<path d="M1128.7 671.5L1128.7 684.0"/>
<text x="1127.0" y="687.0" text-anchor="middle" transform="rotate(-90 1127.0 687.0)">3.5</text>
<path d="M1145.0 652.0L1145.0 667.8"/>
<text x="1143.0" y="659.0" text-anchor="middle" transform="rotate(-90 1143.0 659.0)">7</text>
<path d="M1145.0 667.8L1145.0 848.0"/>
<text x="1141.5" y="762.0" text-anchor="middle" transform="rotate(-90 1141.5 762.0)">85.5</text>
<path d="M1160.3 652.0L1160.3 860.0"/>
<text x="1158.5" y="750.0" text-anchor="middle" transform="rotate(-90 1158.5 750.0)">97.75</text>
<circle cx="678.5" cy="662.5" r="4.6"/>
<circle cx="678.5" cy="662.5" r="2.53"/>
<path d="M672.52 662.5L684.48 662.5"/>
<path d="M678.5 656.52L678.5 668.48"/>
<path d="M669.5 678.3L709.6 678.3L709.6 821.3L669.5 821.3" stroke-dasharray="6 3"/>
<circle cx="688.0" cy="689.6" r="7.0"/>
<path d="M683.05 684.65L692.95 694.55"/>
<path d="M683.05 694.55L692.95 684.65"/>
<path d="M669.0 681.3L674.3 681.3L674.3 697.9L669.0 697.9"/>
<path d="M679.0 680.8L701.8 680.8L701.8 698.4L679.0 698.4" stroke-dasharray="4.5 2.5"/>
<circle cx="688.0" cy="709.73" r="7.0"/>
<path d="M683.05 704.78L692.95 714.68"/>
<path d="M683.05 714.68L692.95 704.78"/>
<path d="M669.0 701.43L674.3 701.43L674.3 718.03L669.0 718.03"/>
<path d="M679.0 700.93L701.8 700.93L701.8 718.53L679.0 718.53" stroke-dasharray="4.5 2.5"/>
<circle cx="688.0" cy="729.86" r="7.0"/>
<path d="M683.05 724.91L692.95 734.81"/>
<path d="M683.05 734.81L692.95 724.91"/>
<path d="M669.0 721.56L674.3 721.56L674.3 738.16L669.0 738.16"/>
<path d="M679.0 721.06L701.8 721.06L701.8 738.66L679.0 738.66" stroke-dasharray="4.5 2.5"/>
<circle cx="688.0" cy="749.99" r="7.0"/>
<path d="M683.05 745.04L692.95 754.94"/>
<path d="M683.05 754.94L692.95 745.04"/>
<path d="M669.0 741.69L674.3 741.69L674.3 758.29L669.0 758.29"/>
<path d="M679.0 741.19L701.8 741.19L701.8 758.79L679.0 758.79" stroke-dasharray="4.5 2.5"/>
<circle cx="688.0" cy="770.12" r="7.0"/>
<path d="M683.05 765.17L692.95 775.07"/>
<path d="M683.05 775.07L692.95 765.17"/>
<path d="M669.0 761.82L674.3 761.82L674.3 778.42L669.0 778.42"/>
<path d="M679.0 761.32L701.8 761.32L701.8 778.92L679.0 778.92" stroke-dasharray="4.5 2.5"/>
<circle cx="688.0" cy="790.25" r="7.0"/>
<path d="M683.05 785.3L692.95 795.2"/>
<path d="M683.05 795.2L692.95 785.3"/>
<path d="M669.0 781.95L674.3 781.95L674.3 798.55L669.0 798.55"/>
<path d="M679.0 781.45L701.8 781.45L701.8 799.05L679.0 799.05" stroke-dasharray="4.5 2.5"/>
<circle cx="688.0" cy="810.38" r="7.0"/>
<path d="M683.05 805.43L692.95 815.33"/>
<path d="M683.05 815.33L692.95 805.43"/>
<path d="M669.0 802.08L674.3 802.08L674.3 818.68L669.0 818.68"/>
<path d="M679.0 801.58L701.8 801.58L701.8 819.18L679.0 819.18" stroke-dasharray="4.5 2.5"/>
<path d="M795.5 656.5L795.5 839.0"/>
<text x="789.0" y="662.5" text-anchor="middle" transform="rotate(-90 789.0 662.5)">9</text>
<text x="788.0" y="757.5" text-anchor="middle" transform="rotate(-90 788.0 757.5)">80</text>
<circle cx="816.2" cy="671.5" r="5.3"/>
<circle cx="816.2" cy="671.5" r="2.92"/>
<path d="M809.05 671.5L823.36 671.5"/>
<path d="M816.2 664.35L816.2 678.65"/>
<circle cx="1085.6" cy="671.5" r="5.3"/>
<circle cx="1085.6" cy="671.5" r="2.92"/>
<path d="M1078.44 671.5L1092.75 671.5"/>
<path d="M1085.6 664.35L1085.6 678.65"/>
<circle cx="816.2" cy="840.5" r="5.3"/>
<circle cx="816.2" cy="840.5" r="2.92"/>
<path d="M809.05 840.5L823.36 840.5"/>
<path d="M816.2 833.35L816.2 847.65"/>
<circle cx="1085.6" cy="840.5" r="5.3"/>
<circle cx="1085.6" cy="840.5" r="2.92"/>
<path d="M1078.44 840.5L1092.75 840.5"/>
<path d="M1085.6 833.35L1085.6 847.65"/>
<path d="M792.0 671.5L1076.0 671.5" stroke-dasharray="34 9"/>
<path d="M785.0 840.5L1076.0 840.5" stroke-dasharray="34 9"/>
<path d="M816.2 681.0L816.2 831.0" stroke-dasharray="24 9"/>
<path d="M1085.6 681.0L1085.6 831.0" stroke-dasharray="24 9"/>
<text x="834.86" y="822.24" text-anchor="middle" transform="rotate(-50 834.86 822.24)">4-M3</text>
<path d="M804.5 851.3L833.0 827.5"/>
<path d="M 670.0 836.3 L 687.0 836.3 Q 692.0 836.3 692.0 841.0 L 692.0 856.0" stroke-dasharray="6 3"/>
<circle cx="678.3" cy="848.8" r="4.4"/>
<path d="M676.54 848.8L680.06 848.8"/>
<path d="M678.3 847.04L678.3 850.56"/>
<path d="M692.0 848.8L1145.0 848.8"/>
<path d="M669.0 856.3L1114.0 856.3"/>
<path d="M669.0 860.0L1165.0 860.0"/>
<text x="650.44" y="826.56" text-anchor="middle" transform="rotate(45 650.44 826.56)">ϕ3.5</text>
<path d="M652.0 831.3L675.3 846.0"/>
<path d="M675.3 846.0L669.27 844.32L671.19 841.28Z" fill="#1f1f1f" stroke="none"/>
<path d="M694.5 860.0L682.0 851.3"/>
<path d="M682.0 851.3L687.95 853.25L685.9 856.2Z" fill="#1f1f1f" stroke="none"/>
<path d="M 724.5 856.3 Q 726.0 850.0 733.0 850.0 L 738.0 850.0 L 738.0 856.3 M 730.0 856.3 Q 730.0 853.0 734.0 853.0 L 738.0 853.0"/>
<path d="M 880.0 856.3 Q 881.0 850.0 888.0 850.0 Q 895.0 850.0 896.0 856.3 M 884.5 856.3 Q 885.0 853.0 888.0 853.0 Q 891.0 853.0 891.5 856.3"/>
<path d="M 988.0 856.3 Q 989.0 850.0 996.0 850.0 Q 1003.0 850.0 1004.0 856.3 M 992.5 856.3 Q 993.0 853.0 996.0 853.0 Q 999.0 853.0 999.5 856.3"/>
<path d="M 1027.0 856.3 L 1030.0 850.0 L 1041.0 850.0 L 1041.0 853.0 L 1034.0 853.0 L 1033.0 856.3"/>
<text x="653.3" y="873.3" text-anchor="middle">4.5</text>
<path d="M654.5 875.8L1085.6 875.8"/>
<text x="744.5" y="873.3" text-anchor="middle">57.5</text>
<text x="941.0" y="873.3" text-anchor="middle">120</text>
<path d="M669.0 860.0L669.0 895.0"/>
<path d="M678.3 853.0L678.3 879.0"/>
<path d="M816.2 847.0L816.2 879.0"/>
<path d="M1085.6 847.0L1085.6 879.0"/>
<path d="M1114.0 860.0L1114.0 895.0"/>
<path d="M673.0 890.5L1108.0 890.5"/>
<text x="899.6" y="888.5" text-anchor="middle">199</text>
<text x="658.0" y="918.5" text-anchor="middle">6.5</text>
<path d="M644.5 921.0L1108.3 921.0"/>
<text x="885.4" y="918.0" text-anchor="middle">190</text>
<path d="M669.0 916.0L669.0 931.0"/>
<path d="M682.8 916.0L682.8 942.5"/>
<path d="M1108.3 916.0L1108.3 949.0"/>
<path d="M 669.0 1014.0 L 669.0 940.0 Q 669.0 934.7 674.0 934.7 L 1109.0 934.7 Q 1114.0 934.7 1114.0 940.0 L 1114.0 949.0 L 1107.0 949.0 Q 1103.5 949.0 1103.5 953.5 Q 1103.5 958.0 1107.0 958.0 L 1114.0 958.0 L 1114.0 1014.0 Z"/>
<path d="M1105.0 953.5L1135.0 953.5" stroke-dasharray="8 2 2 2"/>
<path d="M1109.0 949.0L1109.0 958.0"/>
<circle cx="683.3" cy="954.3" r="4.0"/>
<path d="M681.7 954.3L684.9 954.3"/>
<path d="M683.3 952.7L683.3 955.9"/>
<path d="M649.5 934.7L668.0 934.7"/>
<path d="M649.5 954.3L672.0 954.3"/>
<path d="M652.8 934.7L652.8 954.3"/>
<text x="650.0" y="946.0" text-anchor="middle" transform="rotate(-90 650.0 946.0)">9</text>
<text x="695.87" y="966.89" text-anchor="middle" transform="rotate(55 695.87 966.89)">ϕ3.5</text>
<path d="M674.5 942.5L692.0 966.0"/>
<circle cx="717.0" cy="974.5" r="5.3"/>
<circle cx="717.0" cy="974.5" r="2.92"/>
<path d="M709.85 974.5L724.15 974.5"/>
<path d="M717.0 967.35L717.0 981.65"/>
<path d="M724.5 974.5L758.3 974.5"/>
<path d="M717.0 982.5L717.0 1033.0"/>
<path d="M754.0 937.5L754.0 972.0"/>
<text x="751.0" y="955.0" text-anchor="middle" transform="rotate(-90 751.0 955.0)">18</text>
<circle cx="1068.6" cy="954.6" r="5.3"/>
<circle cx="1068.6" cy="954.6" r="2.92"/>
<path d="M1061.44 954.6L1075.75 954.6"/>
<path d="M1068.6 947.45L1068.6 961.75"/>
<circle cx="1068.6" cy="992.6" r="5.3"/>
<circle cx="1068.6" cy="992.6" r="2.92"/>
<path d="M1061.44 992.6L1075.75 992.6"/>
<path d="M1068.6 985.45L1068.6 999.75"/>
<path d="M1068.6 962.0L1068.6 985.0"/>
<path d="M1068.6 1002.0L1068.6 1033.0"/>
<path d="M1087.9 936.0L1087.9 954.6"/>
<text x="1086.0" y="945.5" text-anchor="middle" transform="rotate(-90 1086.0 945.5)">8.5</text>
<path d="M1095.3 954.6L1095.3 992.6"/>
<text x="1091.0" y="975.0" text-anchor="middle" transform="rotate(-90 1091.0 975.0)">18</text>
<path d="M1076.0 954.6L1098.0 954.6"/>
<path d="M1076.0 992.6L1098.0 992.6"/>
<text x="1047.11" y="980.13" text-anchor="middle" transform="rotate(35 1047.11 980.13)">3-M3</text>
<path d="M1052.0 981.0L1082.0 998.5"/>
<path d="M1115.0 934.7L1166.0 934.7"/>
<path d="M1115.0 1013.5L1166.0 1013.5"/>
<path d="M1115.0 953.5L1147.0 953.5"/>
<path d="M1143.5 936.0L1143.5 953.5"/>
<text x="1141.0" y="943.5" text-anchor="middle" transform="rotate(-90 1141.0 943.5)">9</text>
<path d="M1115.0 949.0L1132.0 949.0"/>
<path d="M1115.0 958.0L1132.0 958.0"/>
<path d="M1129.3 940.0L1129.3 949.0"/>
<path d="M1129.3 958.0L1129.3 972.0"/>
<text x="1127.0" y="972.0" text-anchor="middle" transform="rotate(-90 1127.0 972.0)">3.5</text>
<path d="M1161.6 934.7L1161.6 1013.5"/>
<path d="M1161.6 934.7L1163.1 939.7L1160.1 939.7Z" fill="#1f1f1f" stroke="none"/>
<path d="M1161.6 1013.5L1160.1 1008.5L1163.1 1008.5Z" fill="#1f1f1f" stroke="none"/>
<text x="1156.0" y="978.5" text-anchor="middle" transform="rotate(-90 1156.0 978.5)">38</text>
<path d="M669.0 1030.5L717.0 1030.5"/>
<path d="M669.0 1030.5L675.0 1028.8L675.0 1032.2Z" fill="#1f1f1f" stroke="none"/>
<path d="M717.0 1030.5L711.0 1032.2L711.0 1028.8Z" fill="#1f1f1f" stroke="none"/>
<text x="694.0" y="1028.5" text-anchor="middle">22</text>
<path d="M717.0 1030.5L1068.6 1030.5"/>
<path d="M717.0 1030.5L723.0 1028.8L723.0 1032.2Z" fill="#1f1f1f" stroke="none"/>
<path d="M1068.6 1030.5L1062.6 1032.2L1062.6 1028.8Z" fill="#1f1f1f" stroke="none"/>
<text x="885.4" y="1028.5" text-anchor="middle">157</text>
<path d="M669.0 1014.0L669.0 1033.0"/>
</g>
<g id="p5">
<path d="M 54.12 1363.4 L 54.12 1160.46 Q 54.12 1155.42 59.16 1155.42 L 293.61 1155.42"/>
<path d="M69.87 1160.15L293.61 1160.15" stroke-dasharray="7 3"/>
<path d="M63.57 1141.87L293.61 1141.87"/>
<path d="M63.57 1141.87L71.07 1139.67L71.07 1144.07Z" fill="#1f1f1f" stroke="none"/>
<text x="282.58" y="1139.66" text-anchor="middle">192</text>
<path d="M63.57 1138.09L63.57 1163.3"/>
<circle cx="63.57" cy="1165.82" r="4.73"/>
<circle cx="63.57" cy="1165.82" r="2.6"/>
<path d="M57.43 1165.82L69.72 1165.82"/>
<path d="M63.57 1159.67L63.57 1171.96"/>
<rect x="54.12" y="1181.58" width="40.96" height="144.01" stroke-dasharray="6 3"/>
<circle cx="73.03" cy="1193.87" r="7.56"/>
<path d="M67.68 1188.52L78.37 1199.21"/>
<path d="M67.68 1199.21L78.37 1188.52"/>
<path d="M61.05 1185.36L54.12 1185.36L54.12 1202.37L61.05 1202.37"/>
<path d="M60.42 1185.36L60.42 1202.37"/>
<path d="M66.09 1184.41L87.52 1184.41L87.52 1203.32L66.09 1203.32" stroke-dasharray="5 3"/>
<circle cx="73.03" cy="1213.88" r="7.56"/>
<path d="M67.68 1208.53L78.37 1219.22"/>
<path d="M67.68 1219.22L78.37 1208.53"/>
<path d="M61.05 1205.37L54.12 1205.37L54.12 1222.38L61.05 1222.38"/>
<path d="M60.42 1205.37L60.42 1222.38"/>
<path d="M66.09 1204.42L87.52 1204.42L87.52 1223.33L66.09 1223.33" stroke-dasharray="5 3"/>
<circle cx="73.03" cy="1233.89" r="7.56"/>
<path d="M67.68 1228.54L78.37 1239.23"/>
<path d="M67.68 1239.23L78.37 1228.54"/>
<path d="M61.05 1225.38L54.12 1225.38L54.12 1242.39L61.05 1242.39"/>
<path d="M60.42 1225.38L60.42 1242.39"/>
<path d="M66.09 1224.43L87.52 1224.43L87.52 1243.34L66.09 1243.34" stroke-dasharray="5 3"/>
<circle cx="73.03" cy="1253.9" r="7.56"/>
<path d="M67.68 1248.55L78.37 1259.24"/>
<path d="M67.68 1259.24L78.37 1248.55"/>
<path d="M61.05 1245.39L54.12 1245.39L54.12 1262.41L61.05 1262.41"/>
<path d="M60.42 1245.39L60.42 1262.41"/>
<path d="M66.09 1244.44L87.52 1244.44L87.52 1263.35L66.09 1263.35" stroke-dasharray="5 3"/>
<circle cx="73.03" cy="1273.91" r="7.56"/>
<path d="M67.68 1268.56L78.37 1279.25"/>
<path d="M67.68 1279.25L78.37 1268.56"/>
<path d="M61.05 1265.4L54.12 1265.4L54.12 1282.42L61.05 1282.42"/>
<path d="M60.42 1265.4L60.42 1282.42"/>
<path d="M66.09 1264.45L87.52 1264.45L87.52 1283.36L66.09 1283.36" stroke-dasharray="5 3"/>
<circle cx="73.03" cy="1293.92" r="7.56"/>
<path d="M67.68 1288.57L78.37 1299.27"/>
<path d="M67.68 1299.27L78.37 1288.57"/>
<path d="M61.05 1285.41L54.12 1285.41L54.12 1302.43L61.05 1302.43"/>
<path d="M60.42 1285.41L60.42 1302.43"/>
<path d="M66.09 1284.46L87.52 1284.46L87.52 1303.37L66.09 1303.37" stroke-dasharray="5 3"/>
<circle cx="73.03" cy="1313.93" r="7.56"/>
<path d="M67.68 1308.58L78.37 1319.28"/>
<path d="M67.68 1319.28L78.37 1308.58"/>
<path d="M61.05 1305.42L54.12 1305.42L54.12 1322.44L61.05 1322.44"/>
<path d="M60.42 1305.42L60.42 1322.44"/>
<path d="M66.09 1304.47L87.52 1304.47L87.52 1323.38L66.09 1323.38" stroke-dasharray="5 3"/>
<path d="M180.17 1160.15L180.17 1344.5"/>
<text x="173.87" y="1166.45" text-anchor="middle" transform="rotate(-90 173.87 1166.45)">9</text>
<text x="173.87" y="1261.62" text-anchor="middle" transform="rotate(-90 173.87 1261.62)">85</text>
<path d="M176.07 1174.96L195.92 1174.96"/>
<path d="M176.07 1345.13L195.92 1345.13"/>
<circle cx="202.23" cy="1174.96" r="5.36"/>
<circle cx="202.23" cy="1174.96" r="2.95"/>
<path d="M195.26 1174.96L209.19 1174.96"/>
<path d="M202.23 1167.99L202.23 1181.92"/>
<circle cx="202.23" cy="1345.13" r="5.36"/>
<circle cx="202.23" cy="1345.13" r="2.95"/>
<path d="M195.26 1345.13L209.19 1345.13"/>
<path d="M202.23 1338.16L202.23 1352.09"/>
<path d="M202.23 1183.15L202.23 1337.56" stroke-dasharray="22 8"/>
<path d="M211.68 1174.96L462.21 1174.96" stroke-dasharray="30 9"/>
<path d="M211.68 1345.13L462.21 1345.13" stroke-dasharray="30 9"/>
<text x="220.27" y="1325.68" text-anchor="middle" transform="rotate(-50 220.27 1325.68)">4-M3</text>
<path d="M189.62 1355.53L214.2 1331.89"/>
<path d="M 55.06 1339.77 L 73.03 1339.77 Q 76.81 1339.77 76.81 1343.55 L 76.81 1357.1" stroke-dasharray="6 3"/>
<circle cx="63.57" cy="1352.37" r="3.78"/>
<path d="M62.44 1352.37L64.71 1352.37"/>
<path d="M63.57 1351.24L63.57 1353.51"/>
<text x="34.8" y="1330.72" text-anchor="middle" transform="rotate(45 34.8 1330.72)">ϕ3.5</text>
<path d="M36.79 1336.62L60.11 1350.48"/>
<path d="M60.11 1350.48L54.03 1348.96L55.87 1345.87Z" fill="#1f1f1f" stroke="none"/>
<path d="M80.9 1363.4L67.98 1355.21"/>
<path d="M67.98 1355.21L74.01 1356.9L72.08 1359.94Z" fill="#1f1f1f" stroke="none"/>
<path d="M76.81 1352.37L293.61 1352.37"/>
<path d="M54.12 1357.1L293.61 1357.1"/>
<path d="M 52.54 1357.1 L 52.54 1363.4 L 293.61 1363.4"/>
<path d="M 110.21 1357.1 Q 111.47 1352.69 116.51 1352.69 L 121.87 1352.69 L 121.87 1357.1 M 114.62 1357.1 Q 115.25 1354.89 117.77 1354.89 L 121.87 1354.89"/>
<path d="M 267.77 1357.1 Q 269.03 1352.37 275.34 1352.37 Q 281.64 1352.37 282.9 1357.1 M 271.55 1357.1 Q 272.18 1354.58 275.34 1354.58 Q 278.49 1354.58 279.12 1357.1"/>
<text x="38.99" y="1377.58" text-anchor="middle">4.5</text>
<text x="124.08" y="1377.58" text-anchor="middle">60</text>
<path d="M39.94 1379.16L293.61 1379.16"/>
<path d="M54.12 1363.4L54.12 1401.22"/>
<path d="M63.57 1356.16L63.57 1387.04"/>
<path d="M202.23 1351.43L202.23 1387.04"/>
<path d="M 293.78 1155.42 L 494.83 1155.42 Q 499.56 1155.42 499.56 1160.15 L 499.56 1168.03 L 494.2 1168.03 Q 490.42 1168.03 490.42 1171.81 Q 490.42 1175.9 494.2 1175.9 L 499.56 1175.9 M 494.83 1175.9 L 494.83 1182.21"/>
<path d="M494.2 1141.87L486.7 1144.07L486.7 1139.67Z" fill="#1f1f1f" stroke="none"/>
<path d="M293.78 1141.87L494.2 1141.87"/>
<path d="M494.2 1137.46L494.2 1168.03"/>
<path d="M 293.78 1160.15 L 483.17 1160.15 Q 486.95 1160.15 486.95 1163.93 L 486.95 1169.6" stroke-dasharray="7 3"/>
<path d="M486.95 1174.96L486.95 1181.58" stroke-dasharray="4 2"/>
<path d="M491.68 1171.81L533.28 1171.81" stroke-dasharray="9 2 2 2"/>
<circle cx="470.57" cy="1174.96" r="5.36"/>
<circle cx="470.57" cy="1174.96" r="2.95"/>
<path d="M463.6 1174.96L477.53 1174.96"/>
<path d="M470.57 1167.99L470.57 1181.92"/>
<circle cx="469.94" cy="1344.5" r="5.36"/>
<circle cx="469.94" cy="1344.5" r="2.95"/>
<path d="M462.97 1344.5L476.9 1344.5"/>
<path d="M469.94 1337.53L469.94 1351.46"/>
<path d="M470.57 1183.15L470.57 1337.56" stroke-dasharray="22 8"/>
<path d="M482.86 1356.16L482.86 1182.21L498.93 1182.21L498.93 1357.1"/>
<path d="M486.95 1182.21L486.95 1356.16"/>
<path d="M482.86 1356.16L498.93 1356.16"/>
<path d="M500.5 1155.42L548.4 1155.42"/>
<path d="M499.56 1168.03L517.52 1168.03"/>
<path d="M499.56 1175.9L517.52 1175.9"/>
<path d="M514.37 1155.42L514.37 1168.03"/>
<path d="M514.37 1175.9L514.37 1187.56"/>
<text x="512.16" y="1190.08" text-anchor="middle" transform="rotate(-90 512.16 1190.08)">3.5</text>
<path d="M530.13 1155.42L530.13 1171.81"/>
<text x="528.24" y="1163.3" text-anchor="middle" transform="rotate(-90 528.24 1163.3)">7</text>
<path d="M530.13 1171.81L530.13 1349.22"/>
<text x="528.87" y="1265.71" text-anchor="middle" transform="rotate(-90 528.87 1265.71)">85.5</text>
<path d="M545.25 1155.42L545.25 1358.68"/>
<text x="543.99" y="1259.41" text-anchor="middle" transform="rotate(-90 543.99 1259.41)">110</text>
<path d="M293.78 1352.37L534.22 1352.37"/>
<path d="M293.78 1357.1L498.93 1357.1"/>
<path d="M 293.78 1363.4 L 553.13 1363.4 M 497.98 1357.1 L 497.98 1363.4"/>
<path d="M 375.71 1357.1 Q 376.97 1352.69 382.65 1352.69 Q 388.0 1352.69 389.26 1357.1 M 379.5 1357.1 Q 380.13 1354.89 382.65 1354.89 Q 385.17 1354.89 385.8 1357.1"/>
<path d="M 413.53 1357.1 L 415.42 1353.32 L 424.87 1353.32 L 424.87 1355.21 L 418.57 1355.21 L 417.31 1357.1"/>
<text x="326.24" y="1377.58" text-anchor="middle">126</text>
<path d="M293.78 1379.16L469.62 1379.16"/>
<path d="M469.94 1350.17L469.94 1381.68"/>
<path d="M497.98 1364.03L497.98 1401.22"/>
<text x="285.74" y="1394.03" text-anchor="middle">199</text>
<path d="M56.64 1393.09L491.51 1393.09"/>
<text x="36.79" y="1422.08" text-anchor="middle">6</text>
<text x="269.98" y="1422.08" text-anchor="middle">190</text>
<path d="M30.48 1425.23L493.09 1425.23"/>
<path d="M54.12 1419.87L54.12 1435.63"/>
<path d="M67.98 1419.87L67.98 1448.24"/>
<path d="M 54.12 1517.56 L 54.12 1443.19 Q 54.12 1438.15 59.16 1438.15 L 482.69 1438.15 M 54.12 1517.56 L 482.69 1517.56"/>
<path d="M38.99 1438.15L38.99 1501.18"/>
<path d="M38.99 1438.15L40.49 1443.15L37.49 1443.15Z" fill="#1f1f1f" stroke="none"/>
<path d="M38.99 1454.54L37.49 1449.54L40.49 1449.54Z" fill="#1f1f1f" stroke="none"/>
<path d="M38.99 1454.54L40.49 1459.54L37.49 1459.54Z" fill="#1f1f1f" stroke="none"/>
<path d="M38.99 1477.54L37.49 1472.54L40.49 1472.54Z" fill="#1f1f1f" stroke="none"/>
<path d="M38.99 1477.54L40.49 1482.54L37.49 1482.54Z" fill="#1f1f1f" stroke="none"/>
<path d="M38.99 1501.18L37.49 1496.18L40.49 1496.18Z" fill="#1f1f1f" stroke="none"/>
<path d="M35.21 1438.15L54.12 1438.15"/>
<path d="M35.21 1454.54L63.57 1454.54"/>
<path d="M35.21 1477.54L63.57 1477.54"/>
<path d="M35.21 1501.18L62.0 1501.18"/>
<text x="32.69" y="1446.66" text-anchor="middle" transform="rotate(-90 32.69 1446.66)">6</text>
<text x="32.69" y="1465.57" text-anchor="middle" transform="rotate(-90 32.69 1465.57)">9</text>
<text x="28.91" y="1489.2" text-anchor="middle" transform="rotate(-90 28.91 1489.2)">21.5</text>
<circle cx="68.3" cy="1454.54" r="3.78"/>
<path d="M67.16 1454.54L69.43 1454.54"/>
<path d="M68.3 1453.4L68.3 1455.67"/>
<circle cx="68.3" cy="1477.54" r="3.78"/>
<path d="M67.16 1477.54L69.43 1477.54"/>
<path d="M68.3 1476.41L68.3 1478.68"/>
<circle cx="68.3" cy="1501.18" r="5.36"/>
<circle cx="68.3" cy="1501.18" r="2.95"/>
<path d="M61.87 1501.18L74.73 1501.18"/>
<path d="M68.3 1494.75L68.3 1507.61"/>
<text x="77.96" y="1461.73" text-anchor="middle" style="font-size:10px;" transform="rotate(65 77.96 1461.73)">ϕ3.5</text>
<text x="77.96" y="1485.05" text-anchor="middle" style="font-size:10px;" transform="rotate(65 77.96 1485.05)">ϕ3.5</text>
<path d="M59.79 1442.56L76.81 1465.57"/>
<path d="M59.79 1465.57L76.81 1488.57"/>
<circle cx="102.33" cy="1477.54" r="5.36"/>
<circle cx="102.33" cy="1477.54" r="2.95"/>
<path d="M95.9 1477.54L108.76 1477.54"/>
<path d="M102.33 1471.11L102.33 1483.97"/>
<path d="M109.26 1477.54L143.93 1477.54"/>
<path d="M138.57 1441.3L138.57 1477.54"/>
<text x="136.05" y="1460.21" text-anchor="middle" transform="rotate(-90 136.05 1460.21)">24</text>
<path d="M102.33 1483.53L102.33 1548.13"/>
<text x="36.79" y="1525.44" text-anchor="middle">5.5</text>
<path d="M24.18 1527.02L54.12 1527.02"/>
<path d="M54.12 1527.02L48.12 1528.72L48.12 1525.32Z" fill="#1f1f1f" stroke="none"/>
<path d="M75.23 1527.02L68.3 1527.02"/>
<path d="M68.3 1527.02L74.3 1525.32L74.3 1528.72Z" fill="#1f1f1f" stroke="none"/>
<path d="M68.3 1511.26L68.3 1531.74"/>
<path d="M54.12 1534.26L102.33 1534.26"/>
<path d="M54.12 1534.26L60.12 1532.56L60.12 1535.96Z" fill="#1f1f1f" stroke="none"/>
<path d="M102.33 1534.26L96.33 1535.96L96.33 1532.56Z" fill="#1f1f1f" stroke="none"/>
<text x="87.21" y="1549.71" text-anchor="middle">20</text>
<path d="M102.33 1534.26L453.7 1534.26"/>
<path d="M102.33 1534.26L108.33 1532.56L108.33 1535.96Z" fill="#1f1f1f" stroke="none"/>
<text x="269.98" y="1552.23" text-anchor="middle">157</text>
<path d="M54.12 1517.56L54.12 1536.47"/>
<path d="M493.26 1422.39L493.26 1451.39"/>
<path d="M 475.29 1438.15 L 492.94 1438.15 Q 498.61 1438.15 498.61 1443.82 L 498.61 1452.02 L 493.26 1452.02 Q 488.84 1452.02 488.84 1456.43 Q 488.84 1460.84 493.26 1460.84 L 498.61 1460.84 L 498.61 1486.05 L 493.26 1486.05 Q 488.84 1486.05 488.84 1490.46 Q 488.84 1494.87 493.26 1494.87 L 498.61 1494.87 L 498.61 1517.56 L 475.29 1517.56"/>
<path d="M487.27 1456.43L516.89 1456.43" stroke-dasharray="9 2 2 2"/>
<path d="M487.27 1490.46L516.89 1490.46" stroke-dasharray="9 2 2 2"/>
<circle cx="453.87" cy="1458.63" r="5.36"/>
<circle cx="453.87" cy="1458.63" r="2.95"/>
<path d="M447.44 1458.63L460.29 1458.63"/>
<path d="M453.87 1452.21L453.87 1465.06"/>
<circle cx="453.87" cy="1496.45" r="5.36"/>
<circle cx="453.87" cy="1496.45" r="2.95"/>
<path d="M447.44 1496.45L460.29 1496.45"/>
<path d="M453.87 1490.02L453.87 1502.88"/>
<path d="M453.87 1467.14L453.87 1483.53"/>
<path d="M453.87 1506.53L453.87 1536.47"/>
<text x="468.05" y="1449.81" text-anchor="middle" style="font-size:9px;" transform="rotate(-90 468.05 1449.81)">11.5</text>
<path d="M470.25 1440.36L470.25 1458.63"/>
<path d="M461.74 1458.63L474.35 1458.63"/>
<path d="M479.08 1440.36L479.08 1496.45"/>
<text x="477.18" y="1473.45" text-anchor="middle" transform="rotate(-90 477.18 1473.45)">24.5</text>
<path d="M466.47 1496.45L482.23 1496.45"/>
<text x="433.64" y="1483.25" text-anchor="middle" transform="rotate(35 433.64 1483.25)">3-M3</text>
<path d="M441.26 1490.78L468.05 1503.38"/>
<path d="M500.5 1438.15L577.39 1438.15"/>
<path d="M498.61 1517.56L575.19 1517.56"/>
<path d="M521.62 1456.43L534.22 1456.43"/>
<path d="M518.47 1489.83L534.22 1489.83"/>
<path d="M498.61 1452.02L516.89 1452.02"/>
<path d="M498.61 1460.84L516.89 1460.84"/>
<path d="M498.61 1486.05L516.89 1486.05"/>
<path d="M498.61 1494.87L516.89 1494.87"/>
<path d="M531.07 1438.78L531.07 1456.43"/>
<path d="M531.07 1438.78L532.57 1443.78L529.57 1443.78Z" fill="#1f1f1f" stroke="none"/>
<path d="M531.07 1456.43L529.57 1451.43L532.57 1451.43Z" fill="#1f1f1f" stroke="none"/>
<text x="529.5" y="1448.24" text-anchor="middle" style="font-size:12px;" transform="rotate(-90 529.5 1448.24)">6.5</text>
<path d="M531.07 1456.43L531.07 1489.83"/>
<path d="M531.07 1456.43L532.57 1461.43L529.57 1461.43Z" fill="#1f1f1f" stroke="none"/>
<path d="M531.07 1489.83L529.57 1484.83L532.57 1484.83Z" fill="#1f1f1f" stroke="none"/>
<text x="543.05" y="1475.02" text-anchor="middle" style="font-size:12px;" transform="rotate(-90 543.05 1475.02)">20</text>
<path d="M571.41 1438.78L571.41 1517.56"/>
<path d="M571.41 1438.78L573.61 1446.28L569.21 1446.28Z" fill="#1f1f1f" stroke="none"/>
<path d="M571.41 1517.56L569.21 1510.06L573.61 1510.06Z" fill="#1f1f1f" stroke="none"/>
<text x="568.89" y="1473.45" text-anchor="middle" transform="rotate(-90 568.89 1473.45)">50</text>
<path d="M514.37 1443.51L514.37 1452.02"/>
<path d="M514.37 1452.02L512.87 1447.02L515.87 1447.02Z" fill="#1f1f1f" stroke="none"/>
<path d="M514.37 1470.29L514.37 1460.84"/>
<path d="M514.37 1460.84L515.87 1465.84L512.87 1465.84Z" fill="#1f1f1f" stroke="none"/>
<path d="M514.37 1479.12L514.37 1486.05"/>
<path d="M514.37 1486.05L512.87 1481.05L515.87 1481.05Z" fill="#1f1f1f" stroke="none"/>
<path d="M514.37 1508.11L514.37 1494.87"/>
<path d="M514.37 1494.87L515.87 1499.87L512.87 1499.87Z" fill="#1f1f1f" stroke="none"/>
<text x="511.53" y="1472.82" text-anchor="middle" style="font-size:12px;" transform="rotate(-90 511.53 1472.82)">3.5</text>
<text x="511.53" y="1502.44" text-anchor="middle" style="font-size:12px;" transform="rotate(-90 511.53 1502.44)">3.5</text>
<path d="M453.87 1534.26L447.87 1535.96L447.87 1532.56Z" fill="#1f1f1f" stroke="none"/>
</g>
<g id="p6" stroke-width="1.15">
<path d="M683.66 1139.66L738.17 1139.66"/>
<path d="M683.66 1139.66L689.66 1137.96L689.66 1141.36Z" fill="#1f1f1f" stroke="none"/>
<path d="M738.17 1139.66L732.17 1141.36L732.17 1137.96Z" fill="#1f1f1f" stroke="none"/>
<text x="713.59" y="1137.46" text-anchor="middle" style="font-size:16px;">26</text>
<path d="M738.17 1139.66L1105.29 1139.66"/>
<path d="M738.17 1139.66L744.17 1137.96L744.17 1141.36Z" fill="#1f1f1f" stroke="none"/>
<text x="891.64" y="1137.46" text-anchor="middle" style="font-size:16px;letter-spacing:1px;">180.5</text>
<path d="M683.66 1135.57L683.66 1152.27"/>
<path d="M738.17 1135.57L738.17 1153.84"/>
<path d="M687.75 1157.63L1106.55 1157.63"/>
<path d="M687.75 1157.63L687.75 1202.06"/>
<rect x="678.93" y="1152.27" width="8.82" height="11.97"/>
<path d="M 687.75 1164.24 Q 694.05 1164.24 694.05 1157.63"/>
<rect x="678.93" y="1178.11" width="8.82" height="11.34"/>
<circle cx="700.99" cy="1172.12" r="1.26"/>
<ellipse cx="700.99" cy="1183.78" rx="2.2" ry="4.7"/>
<circle cx="738.17" cy="1172.12" r="6.3"/>
<path d="M736.91 1168.21L739.43 1168.21L739.43 1170.86L742.08 1170.86L742.08 1173.38L739.43 1173.38L739.43 1176.03L736.91 1176.03L736.91 1173.38L734.26 1173.38L734.26 1170.86L736.91 1170.86Z" stroke-width="1"/>
<circle cx="738.17" cy="1353.0" r="6.3"/>
<path d="M736.91 1349.1L739.43 1349.1L739.43 1351.74L742.08 1351.74L742.08 1354.26L739.43 1354.26L739.43 1356.91L736.91 1356.91L736.91 1354.26L734.26 1354.26L734.26 1351.74L736.91 1351.74Z" stroke-width="1"/>
<path d="M684.6 1202.06L716.11 1202.06L716.11 1367.18"/>
<path d="M687.75 1202.06L687.75 1367.18"/>
<rect x="690.9" y="1204.58" width="19.54" height="160.71" stroke-dasharray="5 3"/>
<circle cx="698.78" cy="1212.77" r="6.62"/>
<path d="M694.1 1208.09L703.46 1217.45"/>
<path d="M694.1 1217.45L703.46 1208.09"/>
<text x="721.47" y="1216.24" text-anchor="middle" style="font-size:11px;">1</text>
<rect x="725.57" y="1210.25" width="4.72" height="5.36" stroke-width="1"/>
<path d="M683.03 1221.91L691.22 1221.91" stroke-width="1.8"/>
<circle cx="698.78" cy="1230.89" r="6.62"/>
<path d="M694.1 1226.21L703.46 1235.57"/>
<path d="M694.1 1235.57L703.46 1226.21"/>
<text x="721.47" y="1234.36" text-anchor="middle" style="font-size:11px;">2</text>
<rect x="725.57" y="1228.37" width="4.72" height="5.36" stroke-width="1"/>
<path d="M683.03 1240.03L691.22 1240.03" stroke-width="1.8"/>
<circle cx="698.78" cy="1249.01" r="6.62"/>
<path d="M694.1 1244.33L703.46 1253.69"/>
<path d="M694.1 1253.69L703.46 1244.33"/>
<text x="721.47" y="1252.48" text-anchor="middle" style="font-size:11px;">3</text>
<rect x="725.57" y="1246.49" width="4.72" height="5.36" stroke-width="1"/>
<path d="M683.03 1258.15L691.22 1258.15" stroke-width="1.8"/>
<circle cx="698.78" cy="1267.13" r="6.62"/>
<path d="M694.1 1262.45L703.46 1271.81"/>
<path d="M694.1 1271.81L703.46 1262.45"/>
<text x="721.47" y="1270.6" text-anchor="middle" style="font-size:11px;">4</text>
<rect x="725.57" y="1264.61" width="4.72" height="5.36" stroke-width="1"/>
<path d="M683.03 1276.27L691.22 1276.27" stroke-width="1.8"/>
<circle cx="698.78" cy="1285.25" r="6.62"/>
<path d="M694.1 1280.57L703.46 1289.93"/>
<path d="M694.1 1289.93L703.46 1280.57"/>
<text x="721.47" y="1288.72" text-anchor="middle" style="font-size:11px;">5</text>
<rect x="725.57" y="1282.73" width="4.72" height="5.36" stroke-width="1"/>
<path d="M683.03 1294.39L691.22 1294.39" stroke-width="1.8"/>
<circle cx="698.78" cy="1303.37" r="6.62"/>
<path d="M694.1 1298.69L703.46 1308.05"/>
<path d="M694.1 1308.05L703.46 1298.69"/>
<text x="721.47" y="1306.84" text-anchor="middle" style="font-size:11px;">6</text>
<rect x="725.57" y="1300.85" width="4.72" height="5.36" stroke-width="1"/>
<path d="M683.03 1312.51L691.22 1312.51" stroke-width="1.8"/>
<circle cx="698.78" cy="1321.49" r="6.62"/>
<path d="M694.1 1316.81L703.46 1326.17"/>
<path d="M694.1 1326.17L703.46 1316.81"/>
<text x="721.47" y="1324.96" text-anchor="middle" style="font-size:11px;">7</text>
<rect x="725.57" y="1318.97" width="4.72" height="5.36" stroke-width="1"/>
<path d="M683.03 1330.63L691.22 1330.63" stroke-width="1.8"/>
<circle cx="698.78" cy="1339.61" r="6.62"/>
<path d="M694.1 1334.93L703.46 1344.29"/>
<path d="M694.1 1344.29L703.46 1334.93"/>
<text x="721.47" y="1343.08" text-anchor="middle" style="font-size:11px;">8</text>
<rect x="725.57" y="1337.09" width="4.72" height="5.36" stroke-width="1"/>
<path d="M683.03 1348.75L691.22 1348.75" stroke-width="1.8"/>
<circle cx="698.78" cy="1357.73" r="6.62"/>
<path d="M694.1 1353.05L703.46 1362.41"/>
<path d="M694.1 1362.41L703.46 1353.05"/>
<text x="721.47" y="1361.2" text-anchor="middle" style="font-size:11px;">9</text>
<rect x="725.57" y="1355.21" width="4.72" height="5.36" stroke-width="1"/>
<path d="M642.06 1212.14L698.78 1212.14"/>
<path d="M642.06 1230.42L698.78 1230.42"/>
<path d="M648.99 1212.14L648.99 1230.42"/>
<path d="M648.99 1212.14L650.49 1217.14L647.49 1217.14Z" fill="#1f1f1f" stroke="none"/>
<path d="M648.99 1230.42L647.49 1225.42L650.49 1225.42Z" fill="#1f1f1f" stroke="none"/>
<text x="642.06" y="1220.97" text-anchor="middle" transform="rotate(-90 642.06 1220.97)">9.5</text>
<path d="M642.06 1260.04L695.63 1260.04"/>
<path d="M642.06 1272.96L695.63 1272.96"/>
<path d="M648.99 1260.04L648.99 1272.96"/>
<path d="M648.99 1260.04L650.49 1265.04L647.49 1265.04Z" fill="#1f1f1f" stroke="none"/>
<path d="M648.99 1272.96L647.49 1267.96L650.49 1267.96Z" fill="#1f1f1f" stroke="none"/>
<text x="640.8" y="1266.34" text-anchor="middle" transform="rotate(-90 640.8 1266.34)">8</text>
<text x="746.68" y="1265.08" text-anchor="middle" style="font-size:16px;" transform="rotate(-90 746.68 1265.08)">49</text>
<circle cx="749.2" cy="1203.32" r="3.78"/>
<circle cx="749.2" cy="1203.32" r="2.08"/>
<path d="M742.02 1203.32L756.39 1203.32"/>
<path d="M749.2 1196.13L749.2 1210.5"/>
<circle cx="749.2" cy="1321.81" r="3.78"/>
<circle cx="749.2" cy="1321.81" r="2.08"/>
<path d="M742.02 1321.81L756.39 1321.81"/>
<path d="M749.2 1314.62L749.2 1328.99"/>
<path d="M758.66 1203.32L1087.33 1203.32" stroke-dasharray="14 4"/>
<path d="M758.66 1321.81L1087.33 1321.81" stroke-dasharray="14 4"/>
<path d="M749.2 1210.57L749.2 1315.5" stroke-dasharray="5 2.5"/>
<text x="779.77" y="1313.61" style="font-size:18px;">5-M3L=3mm</text>
<path d="M753.93 1320.23L777.56 1305.74"/>
<text x="891.64" y="1200.48" style="font-size:16px;letter-spacing:1px;">147.5</text>
<path d="M684.6 1367.5L1106.55 1367.5"/>
<path d="M1090.02 1139.66L1084.02 1141.36L1084.02 1137.96Z" fill="#1f1f1f" stroke="none"/>
<path d="M1090.02 1139.66L1108.93 1139.66"/>
<path d="M1090.02 1139.66L1095.02 1138.16L1095.02 1141.16Z" fill="#1f1f1f" stroke="none"/>
<path d="M1108.93 1139.66L1103.93 1141.16L1103.93 1138.16Z" fill="#1f1f1f" stroke="none"/>
<text x="1100.11" y="1133.99" text-anchor="middle" style="font-size:16px;">8.5</text>
<path d="M1090.02 1135.57L1090.02 1152.27"/>
<path d="M1108.93 1135.57L1108.93 1152.27"/>
<path d="M1105.46 1157.63L1105.46 1368.13"/>
<path d="M 1099.16 1157.63 Q 1099.16 1163.3 1105.46 1163.3"/>
<path d="M 1099.16 1368.13 Q 1099.16 1362.46 1105.46 1362.46"/>
<circle cx="1090.97" cy="1172.12" r="6.3"/>
<path d="M1089.71 1168.21L1092.23 1168.21L1092.23 1170.86L1094.87 1170.86L1094.87 1173.38L1092.23 1173.38L1092.23 1176.03L1089.71 1176.03L1089.71 1173.38L1087.06 1173.38L1087.06 1170.86L1089.71 1170.86Z" stroke-width="1"/>
<circle cx="1090.97" cy="1353.0" r="6.3"/>
<path d="M1089.71 1349.1L1092.23 1349.1L1092.23 1351.74L1094.87 1351.74L1094.87 1354.26L1092.23 1354.26L1092.23 1356.91L1089.71 1356.91L1089.71 1354.26L1087.06 1354.26L1087.06 1351.74L1089.71 1351.74Z" stroke-width="1"/>
<circle cx="1079.62" cy="1203.32" r="3.78"/>
<circle cx="1079.62" cy="1203.32" r="2.08"/>
<path d="M1072.44 1203.32L1086.81 1203.32"/>
<path d="M1079.62 1196.13L1079.62 1210.5"/>
<circle cx="1079.62" cy="1321.81" r="3.78"/>
<circle cx="1079.62" cy="1321.81" r="2.08"/>
<path d="M1072.44 1321.81L1086.81 1321.81"/>
<path d="M1079.62 1314.62L1079.62 1328.99"/>
<path d="M1079.62 1210.57L1079.62 1315.5" stroke-dasharray="5 2.5"/>
<path d="M1110.5 1153.84L1175.74 1153.84"/>
<path d="M1110.5 1353.95L1174.16 1353.95"/>
<path d="M1110.5 1373.49L1175.74 1373.49"/>
<path d="M1131.62 1172.75L1131.62 1353.95"/>
<path d="M1131.62 1172.75L1133.22 1178.75L1130.02 1178.75Z" fill="#1f1f1f" stroke="none"/>
<path d="M1131.62 1353.95L1130.02 1347.95L1133.22 1347.95Z" fill="#1f1f1f" stroke="none"/>
<text x="1127.52" y="1267.29" text-anchor="middle" style="font-size:16px;" transform="rotate(-90 1127.52 1267.29)">93</text>
<path d="M1159.03 1153.84L1159.03 1373.49"/>
<path d="M1159.03 1153.84L1160.63 1159.84L1157.43 1159.84Z" fill="#1f1f1f" stroke="none"/>
<path d="M1159.03 1373.49L1157.43 1367.49L1160.63 1367.49Z" fill="#1f1f1f" stroke="none"/>
<text x="1157.46" y="1261.62" text-anchor="middle" style="font-size:16px;" transform="rotate(-90 1157.46 1261.62)">114</text>
<path d="M1131.62 1353.95L1131.62 1373.49"/>
<path d="M1131.62 1353.95L1133.12 1358.95L1130.12 1358.95Z" fill="#1f1f1f" stroke="none"/>
<path d="M1131.62 1373.49L1130.12 1368.49L1133.12 1368.49Z" fill="#1f1f1f" stroke="none"/>
<text x="1124.68" y="1363.4" text-anchor="middle" style="font-size:16px;" transform="rotate(-90 1124.68 1363.4)">8</text>
<path d="M684.6 1389.94L1108.45 1389.94"/>
<path d="M684.6 1389.94L690.6 1388.24L690.6 1391.64Z" fill="#1f1f1f" stroke="none"/>
<text x="896.68" y="1388.36" text-anchor="middle" style="font-size:17px;letter-spacing:1px;">215</text>
<path d="M684.6 1417.35L748.26 1417.35"/>
<path d="M684.6 1417.35L690.6 1415.65L690.6 1419.05Z" fill="#1f1f1f" stroke="none"/>
<path d="M748.26 1417.35L742.26 1419.05L742.26 1415.65Z" fill="#1f1f1f" stroke="none"/>
<text x="718.63" y="1415.15" text-anchor="middle" style="font-size:17px;">32</text>
<path d="M748.26 1417.35L1042.27 1417.35"/>
<path d="M748.26 1417.35L754.26 1415.65L754.26 1419.05Z" fill="#1f1f1f" stroke="none"/>
<text x="890.06" y="1413.57" text-anchor="middle" style="font-size:15px;letter-spacing:1px;">147.5</text>
<path d="M684.6 1382.69L684.6 1433.11"/>
<path d="M748.26 1410.42L748.26 1511.26"/>
<path d="M 1102.14 1433.11 L 690.9 1433.11 Q 684.6 1433.11 684.6 1439.41 L 684.6 1525.44 Q 684.6 1530.17 689.33 1530.17 L 1102.14 1530.17"/>
<path d="M 684.6 1514.41 L 688.7 1514.41 L 688.7 1527.02"/>
<circle cx="719.89" cy="1445.08" r="6.3"/>
<path d="M718.63 1441.18L721.16 1441.18L721.16 1443.82L723.8 1443.82L723.8 1446.34L721.16 1446.34L721.16 1448.99L718.63 1448.99L718.63 1446.34L715.99 1446.34L715.99 1443.82L718.63 1443.82Z" stroke-width="1"/>
<rect x="694.05" y="1456.11" width="7.25" height="49.48" rx="3.62"/>
<rect x="708.24" y="1456.11" width="7.24" height="49.48" rx="3.62"/>
<rect x="722.42" y="1456.11" width="7.24" height="49.48" rx="3.62"/>
<rect x="873.68" y="1456.11" width="7.24" height="49.48" rx="3.62"/>
<rect x="887.86" y="1456.11" width="7.25" height="49.48" rx="3.62"/>
<circle cx="747.63" cy="1457.69" r="4.41"/>
<circle cx="747.63" cy="1457.69" r="2.43"/>
<path d="M740.57 1457.69L754.68 1457.69"/>
<path d="M747.63 1450.63L747.63 1464.75"/>
<circle cx="747.63" cy="1505.9" r="4.41"/>
<circle cx="747.63" cy="1505.9" r="2.43"/>
<path d="M740.57 1505.9L754.68 1505.9"/>
<path d="M747.63 1498.84L747.63 1512.96"/>
<path d="M758.66 1457.69L1039.12 1457.69" stroke-dasharray="68 11 16 9"/>
<path d="M758.66 1505.9L1039.12 1505.9" stroke-dasharray="68 11 16 9"/>
<path d="M 749.83 1530.17 L 749.83 1516.93 Q 749.83 1513.47 753.46 1513.47 Q 757.08 1513.47 757.08 1516.93 L 757.08 1530.17" stroke-width="1.2"/>
<path d="M 763.58 1530.17 L 763.58 1516.93 Q 763.58 1513.47 767.2 1513.47 Q 770.83 1513.47 770.83 1516.93 L 770.83 1530.17" stroke-width="1.2"/>
<path d="M 777.32 1530.17 L 777.32 1516.93 Q 777.32 1513.47 780.95 1513.47 Q 784.57 1513.47 784.57 1516.93 L 784.57 1530.17" stroke-width="1.2"/>
<path d="M 791.07 1530.17 L 791.07 1516.93 Q 791.07 1513.47 794.69 1513.47 Q 798.32 1513.47 798.32 1516.93 L 798.32 1530.17" stroke-width="1.2"/>
<path d="M 804.82 1530.17 L 804.82 1516.93 Q 804.82 1513.47 808.44 1513.47 Q 812.06 1513.47 812.06 1516.93 L 812.06 1530.17" stroke-width="1.2"/>
<path d="M 818.56 1530.17 L 818.56 1516.93 Q 818.56 1513.47 822.18 1513.47 Q 825.81 1513.47 825.81 1516.93 L 825.81 1530.17" stroke-width="1.2"/>
<path d="M 832.31 1530.17 L 832.31 1516.93 Q 832.31 1513.47 835.93 1513.47 Q 839.55 1513.47 839.55 1516.93 L 839.55 1530.17" stroke-width="1.2"/>
<path d="M 846.05 1530.17 L 846.05 1516.93 Q 846.05 1513.47 849.68 1513.47 Q 853.3 1513.47 853.3 1516.93 L 853.3 1530.17" stroke-width="1.2"/>
<path d="M 859.8 1530.17 L 859.8 1516.93 Q 859.8 1513.47 863.42 1513.47 Q 867.05 1513.47 867.05 1516.93 L 867.05 1530.17" stroke-width="1.2"/>
<path d="M 873.54 1530.17 L 873.54 1516.93 Q 873.54 1513.47 877.17 1513.47 Q 880.79 1513.47 880.79 1516.93 L 880.79 1530.17" stroke-width="1.2"/>
<path d="M 887.29 1530.17 L 887.29 1516.93 Q 887.29 1513.47 890.91 1513.47 Q 894.54 1513.47 894.54 1516.93 L 894.54 1530.17" stroke-width="1.2"/>
<path d="M 901.04 1530.17 L 901.04 1516.93 Q 901.04 1513.47 904.66 1513.47 Q 908.28 1513.47 908.28 1516.93 L 908.28 1530.17" stroke-width="1.2"/>
<path d="M 914.78 1530.17 L 914.78 1516.93 Q 914.78 1513.47 918.41 1513.47 Q 922.03 1513.47 922.03 1516.93 L 922.03 1530.17" stroke-width="1.2"/>
<path d="M 928.53 1530.17 L 928.53 1516.93 Q 928.53 1513.47 932.15 1513.47 Q 935.78 1513.47 935.78 1516.93 L 935.78 1530.17" stroke-width="1.2"/>
<path d="M 942.27 1530.17 L 942.27 1516.93 Q 942.27 1513.47 945.9 1513.47 Q 949.52 1513.47 949.52 1516.93 L 949.52 1530.17" stroke-width="1.2"/>
<path d="M 956.02 1530.17 L 956.02 1516.93 Q 956.02 1513.47 959.64 1513.47 Q 963.27 1513.47 963.27 1516.93 L 963.27 1530.17" stroke-width="1.2"/>
<path d="M 969.76 1530.17 L 969.76 1516.93 Q 969.76 1513.47 973.39 1513.47 Q 977.01 1513.47 977.01 1516.93 L 977.01 1530.17" stroke-width="1.2"/>
<path d="M 983.51 1530.17 L 983.51 1516.93 Q 983.51 1513.47 987.13 1513.47 Q 990.76 1513.47 990.76 1516.93 L 990.76 1530.17" stroke-width="1.2"/>
<path d="M 997.26 1530.17 L 997.26 1516.93 Q 997.26 1513.47 1000.88 1513.47 Q 1004.5 1513.47 1004.5 1516.93 L 1004.5 1530.17" stroke-width="1.2"/>
<path d="M 1011.0 1530.17 L 1011.0 1516.93 Q 1011.0 1513.47 1014.63 1513.47 Q 1018.25 1513.47 1018.25 1516.93 L 1018.25 1530.17" stroke-width="1.2"/>
<path d="M 1024.75 1530.17 L 1024.75 1516.93 Q 1024.75 1513.47 1028.37 1513.47 Q 1032.0 1513.47 1032.0 1516.93 L 1032.0 1530.17" stroke-width="1.2"/>
<path d="M 1038.49 1530.17 L 1038.49 1516.93 Q 1038.49 1513.47 1042.12 1513.47 Q 1045.74 1513.47 1045.74 1516.93 L 1045.74 1530.17" stroke-width="1.2"/>
<path d="M1108.93 1389.94L1102.93 1391.64L1102.93 1388.24Z" fill="#1f1f1f" stroke="none"/>
<path d="M1108.93 1382.69L1108.93 1432.48"/>
<path d="M1043.38 1417.35L1037.38 1419.05L1037.38 1415.65Z" fill="#1f1f1f" stroke="none"/>
<path d="M1043.38 1410.42L1043.38 1511.26"/>
<path d="M 1101.68 1433.11 L 1104.83 1433.11 Q 1108.61 1433.11 1108.61 1437.52 L 1108.61 1525.76 Q 1108.61 1530.17 1104.83 1530.17 L 1101.68 1530.17"/>
<path d="M1102.63 1433.11L1102.63 1530.17"/>
<path d="M1044.96 1524.5L1102.63 1524.5"/>
<rect x="961.45" y="1433.11" width="114.08" height="39.71"/>
<circle cx="989.81" cy="1445.71" r="6.3"/>
<path d="M988.55 1441.81L991.07 1441.81L991.07 1444.45L993.72 1444.45L993.72 1446.97L991.07 1446.97L991.07 1449.62L988.55 1449.62L988.55 1446.97L985.9 1446.97L985.9 1444.45L988.55 1444.45Z" stroke-width="1"/>
<circle cx="1043.38" cy="1457.69" r="4.41"/>
<circle cx="1043.38" cy="1457.69" r="2.43"/>
<path d="M1036.32 1457.69L1050.44 1457.69"/>
<path d="M1043.38 1450.63L1043.38 1464.75"/>
<circle cx="1043.38" cy="1505.9" r="4.41"/>
<circle cx="1043.38" cy="1505.9" r="2.43"/>
<path d="M1036.32 1505.9L1050.44 1505.9"/>
<path d="M1043.38 1498.84L1043.38 1512.96"/>
<path d="M1015.02 1457.69L1015.02 1505.9"/>
<path d="M1015.02 1457.69L1016.62 1463.69L1013.42 1463.69Z" fill="#1f1f1f" stroke="none"/>
<path d="M1015.02 1505.9L1013.42 1499.9L1016.62 1499.9Z" fill="#1f1f1f" stroke="none"/>
<text x="1011.87" y="1479.75" text-anchor="middle" style="font-size:15px;" transform="rotate(-90 1011.87 1479.75)">24.5</text>
<rect x="922.69" y="1492.35" width="29.94" height="14.18"/>
<path d="M1109.56 1432.48L1139.5 1432.48"/>
<path d="M1104.83 1531.11L1139.5 1531.11"/>
<path d="M1136.34 1433.11L1136.34 1531.11"/>
<path d="M1136.34 1433.11L1137.94 1439.11L1134.74 1439.11Z" fill="#1f1f1f" stroke="none"/>
<path d="M1136.34 1531.11L1134.74 1525.11L1137.94 1525.11Z" fill="#1f1f1f" stroke="none"/>
<text x="1132.56" y="1484.47" text-anchor="middle" style="font-size:17px;" transform="rotate(-90 1132.56 1484.47)">50</text>
</g>
<g id="p7">
<text x="277.23" y="1647.55" text-anchor="middle" style="font-size:11px;">240</text>
<path d="M491.51 1651.96L58.84 1651.96L58.84 1704.9L76.18 1704.9" stroke-width="1"/>
<text x="65.15" y="1664.57" text-anchor="middle" style="font-size:10px;">6</text>
<path d="M50.97 1665.51L77.12 1665.51" stroke-width="1"/>
<path d="M62.94 1662.99L62.94 1686.0" stroke-width="1"/>
<path d="M69.87 1662.99L69.87 1690.72" stroke-width="1"/>
<path d="M57.27 1681.9L491.51 1681.9" stroke-width="1"/>
<path d="M57.27 1686.0L491.51 1686.0" stroke-width="1"/>
<ellipse cx="69.24" cy="1696.39" rx="6.3" ry="4.4" stroke-width="1"/>
<rect x="76.18" y="1690.72" width="4.09" height="195.38" stroke-width="1"/>
<text x="31.43" y="1793.14" text-anchor="middle" style="font-size:11px;" transform="rotate(90 31.43 1793.14)">111.5 ± 0.2</text>
<path d="M40.88 1696.39L40.88 1899.34" stroke-width="1"/>
<path d="M40.88 1696.39L43.68 1707.39L38.08 1707.39Z" fill="#1f1f1f" stroke="none" stroke-width="1"/>
<path d="M40.88 1899.34L38.08 1888.34L43.68 1888.34Z" fill="#1f1f1f" stroke="none" stroke-width="1"/>
<path d="M38.36 1696.39L64.2 1696.39" stroke-width="1"/>
<path d="M39.94 1899.34L64.2 1899.34" stroke-width="1"/>
<rect x="81.85" y="1709.63" width="31.51" height="161.34" stroke-width="1"/>
<path d="M87.21 1709.63L87.21 1870.97" stroke-width="1"/>
<path d="M107.69 1709.63L107.69 1870.97" stroke-width="1"/>
<circle cx="95.71" cy="1719.08" r="5.99" stroke-width="1"/>
<path d="M91.48 1714.85L99.95 1723.32" stroke-width="1"/>
<path d="M91.48 1723.32L99.95 1714.85" stroke-width="1"/>
<text x="117.14" y="1722.55" text-anchor="middle" style="font-size:10px;">1</text>
<path d="M81.85 1727.91L113.36 1727.91" stroke-dasharray="5 2 9 2 5 40" stroke-width="1"/>
<circle cx="95.71" cy="1736.7" r="5.99" stroke-width="1"/>
<path d="M91.48 1732.47L99.95 1740.93" stroke-width="1"/>
<path d="M91.48 1740.93L99.95 1732.47" stroke-width="1"/>
<text x="117.14" y="1740.17" text-anchor="middle" style="font-size:10px;">2</text>
<path d="M81.85 1745.52L113.36 1745.52" stroke-dasharray="5 2 9 2 5 40" stroke-width="1"/>
<circle cx="95.71" cy="1754.32" r="5.99" stroke-width="1"/>
<path d="M91.48 1750.08L99.95 1758.55" stroke-width="1"/>
<path d="M91.48 1758.55L99.95 1750.08" stroke-width="1"/>
<text x="117.14" y="1757.78" text-anchor="middle" style="font-size:10px;">3</text>
<path d="M81.85 1763.14L113.36 1763.14" stroke-dasharray="5 2 9 2 5 40" stroke-width="1"/>
<circle cx="95.71" cy="1771.93" r="5.99" stroke-width="1"/>
<path d="M91.48 1767.7L99.95 1776.16" stroke-width="1"/>
<path d="M91.48 1776.16L99.95 1767.7" stroke-width="1"/>
<text x="117.14" y="1775.4" text-anchor="middle" style="font-size:10px;">4</text>
<path d="M81.85 1780.75L113.36 1780.75" stroke-dasharray="5 2 9 2 5 40" stroke-width="1"/>
<circle cx="95.71" cy="1789.55" r="5.99" stroke-width="1"/>
<path d="M91.48 1785.31L99.95 1793.78" stroke-width="1"/>
<path d="M91.48 1793.78L99.95 1785.31" stroke-width="1"/>
<text x="117.14" y="1793.01" text-anchor="middle" style="font-size:10px;">5</text>
<path d="M81.85 1798.37L113.36 1798.37" stroke-dasharray="5 2 9 2 5 40" stroke-width="1"/>
<circle cx="95.71" cy="1807.16" r="5.99" stroke-width="1"/>
<path d="M91.48 1802.93L99.95 1811.39" stroke-width="1"/>
<path d="M91.48 1811.39L99.95 1802.93" stroke-width="1"/>
<text x="117.14" y="1810.63" text-anchor="middle" style="font-size:10px;">6</text>
<path d="M81.85 1815.99L113.36 1815.99" stroke-dasharray="5 2 9 2 5 40" stroke-width="1"/>
<circle cx="95.71" cy="1824.78" r="5.99" stroke-width="1"/>
<path d="M91.48 1820.54L99.95 1829.01" stroke-width="1"/>
<path d="M91.48 1829.01L99.95 1820.54" stroke-width="1"/>
<text x="117.14" y="1828.24" text-anchor="middle" style="font-size:10px;">7</text>
<path d="M81.85 1833.6L113.36 1833.6" stroke-dasharray="5 2 9 2 5 40" stroke-width="1"/>
<circle cx="95.71" cy="1842.39" r="5.99" stroke-width="1"/>
<path d="M91.48 1838.16L99.95 1846.63" stroke-width="1"/>
<path d="M91.48 1846.63L99.95 1838.16" stroke-width="1"/>
<text x="117.14" y="1845.86" text-anchor="middle" style="font-size:10px;">8</text>
<path d="M81.85 1851.22L113.36 1851.22" stroke-dasharray="5 2 9 2 5 40" stroke-width="1"/>
<circle cx="95.71" cy="1860.01" r="5.99" stroke-width="1"/>
<path d="M91.48 1855.78L99.95 1864.24" stroke-width="1"/>
<path d="M91.48 1864.24L99.95 1855.78" stroke-width="1"/>
<text x="117.14" y="1863.47" text-anchor="middle" style="font-size:10px;">9</text>
<text x="50.97" y="1727.91" text-anchor="middle" style="font-size:13px;" transform="rotate(90 50.97 1727.91)">9.5</text>
<path d="M66.09 1719.08L66.09 1736.42" stroke-width="1"/>
<path d="M57.27 1719.08L95.08 1719.08" stroke-width="1"/>
<path d="M57.27 1736.42L95.08 1736.42" stroke-width="1"/>
<path d="M66.09 1719.08L67.39 1723.08L64.79 1723.08Z" fill="#1f1f1f" stroke="none" stroke-width="1"/>
<path d="M66.09 1736.42L64.79 1732.42L67.39 1732.42Z" fill="#1f1f1f" stroke="none" stroke-width="1"/>
<text x="50.97" y="1771.71" text-anchor="middle" style="font-size:13px;" transform="rotate(90 50.97 1771.71)">8</text>
<path d="M66.09 1765.72L66.09 1778.33" stroke-width="1"/>
<path d="M57.27 1765.72L95.08 1765.72" stroke-width="1"/>
<path d="M57.27 1778.33L95.08 1778.33" stroke-width="1"/>
<path d="M66.09 1765.72L67.39 1769.72L64.79 1769.72Z" fill="#1f1f1f" stroke="none" stroke-width="1"/>
<path d="M66.09 1778.33L64.79 1774.33L67.39 1774.33Z" fill="#1f1f1f" stroke="none" stroke-width="1"/>
<text x="91.3" y="1882.95" text-anchor="middle" style="font-size:10px;" transform="rotate(90 91.3 1882.95)">R2</text>
<path d="M87.52 1875.07L87.52 1886.1" stroke-width="1"/>
<path d="M83.11 1875.07L83.11 1886.1" stroke-width="1"/>
<path d="M90.36 1884.53L75.55 1897.13" stroke-width="1"/>
<path d="M75.55 1897.13L81.35 1888.52L84.98 1892.78Z" fill="#1f1f1f" stroke="none" stroke-width="1"/>
<path d="M76.18 1889.88L58.84 1889.88L58.84 1908.79" stroke-width="1"/>
<ellipse cx="69.24" cy="1899.65" rx="6.3" ry="4.4" stroke-width="1"/>
<text x="43.09" y="1904.06" text-anchor="middle" style="font-size:10px;" transform="rotate(90 43.09 1904.06)">5</text>
<path d="M39.94 1908.79L541.93 1908.79" stroke-width="1"/>
<path d="M40.88 1899.34L40.88 1930.22" stroke-width="1"/>
<path d="M63.57 1905.01L63.57 1927.7" stroke-width="1"/>
<path d="M76.81 1889.88L76.81 1927.7" stroke-width="1"/>
<path d="M63.57 1927.7L76.81 1927.7" stroke-width="1"/>
<text x="70.82" y="1926.12" text-anchor="middle" style="font-size:10px;">7</text>
<path d="M491.68 1651.96L494.83 1651.96L494.83 1703.96L480.65 1703.96" stroke-width="1"/>
<path d="M494.83 1681.9L542.1 1681.9" stroke-width="1"/>
<text x="490.74" y="1665.51" text-anchor="middle" style="font-size:10px;">4</text>
<path d="M479.08 1668.66L502.71 1668.66" stroke-width="1"/>
<path d="M486.32 1668.66L486.32 1703.96" stroke-width="1"/>
<text x="509.64" y="1662.99" text-anchor="middle" style="font-size:11px;" transform="rotate(90 509.64 1662.99)">Ø3.5</text>
<path d="M508.07 1653.54L508.07 1672.45" stroke-width="1"/>
<path d="M508.07 1672.45L480.65 1703.96" stroke-width="1"/>
<circle cx="486.95" cy="1697.03" r="2.84" stroke-width="1"/>
<text x="511.22" y="1691.67" text-anchor="middle" style="font-size:11px;" transform="rotate(90 511.22 1691.67)">7.5</text>
<path d="M509.01 1681.9L509.01 1697.03" stroke-width="1"/>
<path d="M490.11 1697.03L510.59 1697.03" stroke-width="1"/>
<path d="M480.65 1703.96L480.65 1889.25L486.32 1889.25" stroke-width="1"/>
<path d="M480.65 1707.11L485.38 1707.11L485.38 1885.16L480.65 1885.16" stroke-width="1"/>
<text x="543.05" y="1794.71" text-anchor="middle" style="font-size:11px;" transform="rotate(90 543.05 1794.71)">124</text>
<path d="M540.53 1681.9L540.53 1908.79" stroke-width="1"/>
<path d="M540.53 1681.9L543.33 1692.9L537.73 1692.9Z" fill="#1f1f1f" stroke="none" stroke-width="1"/>
<path d="M540.53 1908.79L537.73 1897.79L543.33 1897.79Z" fill="#1f1f1f" stroke="none" stroke-width="1"/>
<path d="M486.95 1908.36L486.95 1889.45L495.46 1889.45L495.46 1908.36" stroke-width="1"/>
<circle cx="487.58" cy="1897.96" r="2.84" stroke-width="1"/>
<text x="509.01" y="1902.69" text-anchor="middle" style="font-size:10px;" transform="rotate(90 509.01 1902.69)">5</text>
<path d="M505.86 1891.03L505.86 1914.03" stroke-width="1"/>
<path d="M479.08 1897.96L507.44 1897.96" stroke-width="1"/>
<text x="491.68" y="1929.16" text-anchor="middle" style="font-size:10px;">4</text>
<path d="M474.35 1930.42L486.95 1930.42" stroke-width="1"/>
<path d="M486.95 1930.42L476.95 1933.22L476.95 1927.62Z" fill="#1f1f1f" stroke="none" stroke-width="1"/>
<path d="M508.07 1930.42L495.46 1930.42" stroke-width="1"/>
<path d="M495.46 1930.42L505.46 1927.62L505.46 1933.22Z" fill="#1f1f1f" stroke="none" stroke-width="1"/>
<path d="M486.95 1908.36L486.95 1932.94" stroke-width="1"/>
<path d="M495.46 1908.36L495.46 1932.94" stroke-width="1"/>
<path d="M480.65 1889.45L510.59 1925.69" stroke-width="1"/>
<path d="M510.59 1925.69L510.59 1944.6" stroke-width="1"/>
<text x="514.37" y="1936.09" text-anchor="middle" style="font-size:11px;" transform="rotate(90 514.37 1936.09)">Ø3.5</text>
<path d="M290.0 1952.48L523.82 1952.48L523.82 2112.56" stroke-width="1"/>
<path d="M290.0 2072.23L523.82 2072.23" stroke-width="1"/>
<path d="M290.0 1955.63L494.83 1955.63" stroke-dasharray="28 9" stroke-width="1"/>
<rect x="509.64" y="1955.0" width="4.73" height="15.76" stroke-width="1"/>
<text x="498.61" y="1980.84" transform="rotate(90 498.61 1980.84)" text-anchor="middle" style="font-size:5.8px;font-weight:bold;letter-spacing:0;font-family:'Liberation Sans','Noto Sans CJK SC',sans-serif">向下螺丝深度5mm</text>
<text x="482.86" y="1984.94" text-anchor="middle" style="font-size:12px;" transform="rotate(90 482.86 1984.94)">3−M4</text>
<path d="M481.6 1971.39L481.6 1995.02" stroke-width="1"/>
<path d="M481.6 1995.02L455.44 2012.35" stroke-width="1"/>
<circle cx="465.84" cy="2006.05" r="4.41" stroke-width="1"/>
<path d="M460.11 2006.05L471.58 2006.05" stroke-width="1"/>
<path d="M465.84 2000.32L465.84 2011.79" stroke-width="1"/>
<path d="M471.2 2005.42L557.23 2005.42L557.23 2072.23L523.82 2072.23" stroke-width="1"/>
<text x="558.49" y="2040.08" text-anchor="middle" style="font-size:11px;" transform="rotate(90 558.49 2040.08)">36</text>
<path d="M466.47 2010.78L466.47 2112.56" stroke-width="1"/>
<text x="509.01" y="2041.66" text-anchor="middle" style="font-size:12px;" transform="rotate(90 509.01 2041.66)">Ø4</text>
<path d="M507.44 2036.62L507.44 2048.59" stroke-width="1"/>
<path d="M507.44 2048.59L490.74 2069.08" stroke-width="1"/>
<circle cx="497.98" cy="2060.25" r="3.15" stroke-width="1"/>
<path d="M493.26 2060.25L502.71 2060.25" stroke-width="1"/>
<path d="M497.98 2055.53L497.98 2064.98" stroke-width="1"/>
<path d="M489.16 2060.25L536.74 2060.25L536.74 2072.23" stroke-width="1"/>
<text x="538.95" y="2068.13" text-anchor="middle" style="font-size:10px;" transform="rotate(90 538.95 2068.13)">7</text>
<path d="M497.98 2051.74L497.98 2089.56L523.82 2089.56" stroke-width="1"/>
<text x="512.16" y="2088.3" text-anchor="middle" style="font-size:11px;">14</text>
<path d="M466.47 2112.56L523.82 2112.56" stroke-width="1"/>
<text x="494.2" y="2109.1" text-anchor="middle" style="font-size:11px;">31</text>
<path d="M290.15 1952.48L38.36 1952.48L38.36 2072.23L290.15 2072.23" stroke-width="1"/>
<path d="M77.75 1952.48L77.75 2112.56" stroke-width="1"/>
<path d="M77.75 1955.63L290.15 1955.63" stroke-dasharray="28 9" stroke-width="1"/>
<rect x="81.85" y="1962.56" width="12.6" height="8.83" rx="2.84" stroke-width="1"/>
<rect x="81.85" y="2054.89" width="12.6" height="8.51" rx="2.84" stroke-width="1"/>
<path d="M93.51 1955.63L93.51 2072.23" stroke-dasharray="30 6" stroke-width="1"/>
<path d="M98.24 1955.63L98.24 2072.23" stroke-dasharray="30 6" stroke-width="1"/>
<text x="54.12" y="2012.35" text-anchor="middle" style="font-size:11px;" transform="rotate(90 54.12 2012.35)">49 ± 0.2</text>
<path d="M51.6 1966.66L51.6 2072.23" stroke-width="1"/>
<path d="M51.6 1966.66L81.85 1966.66" stroke-width="1"/>
<path d="M51.6 2058.99L81.85 2058.99" stroke-width="1"/>
<text x="39.94" y="2014.87" text-anchor="middle" style="font-size:11px;" transform="rotate(90 39.94 2014.87)">65</text>
<text x="54.12" y="2066.55" text-anchor="middle" style="font-size:10px;" transform="rotate(90 54.12 2066.55)" font-weight="bold">8</text>
<circle cx="130.38" cy="1981.47" r="2.52" stroke-width="1"/>
<path d="M135.11 1981.47A4.73 4.73 0 1 1 130.38 1976.74" stroke-width="1"/>
<path d="M124.08 1981.47L139.83 1981.47" stroke-width="1"/>
<circle cx="130.38" cy="2037.56" r="2.52" stroke-width="1"/>
<path d="M135.11 2037.56A4.73 4.73 0 1 1 130.38 2032.83" stroke-width="1"/>
<path d="M124.08 2037.56L139.83 2037.56" stroke-width="1"/>
<text x="114.62" y="2012.35" text-anchor="middle" style="font-size:11px;" transform="rotate(90 114.62 2012.35)">30 ± 0.2</text>
<path d="M112.42 1981.47L112.42 2072.23" stroke-width="1"/>
<path d="M112.42 1981.47L125.02 1981.47" stroke-width="1"/>
<path d="M112.42 2037.56L125.02 2037.56" stroke-width="1"/>
<text x="114.62" y="2057.42" text-anchor="middle" style="font-size:11px;" transform="rotate(90 114.62 2057.42)">19</text>
<path d="M130.38 1972.96L130.38 2112.56" stroke-width="1"/>
<path d="M98.24 2072.23L98.24 2092.71L77.75 2092.71" stroke-width="1"/>
<text x="87.21" y="2090.82" text-anchor="middle" style="font-size:10px;">11</text>
<path d="M77.75 2112.56L130.38 2112.56" stroke-width="1"/>
<text x="103.91" y="2109.1" text-anchor="middle" style="font-size:11px;">29</text>
</g>
<g id="p8">
<rect x="742.06" y="1646.35" width="275.29" height="196.33" stroke-width="1"/>
<circle cx="757.5" cy="1663.56" r="1.91" stroke-width="2.2"/>
<circle cx="1001.03" cy="1663.56" r="1.91" stroke-width="2.2"/>
<circle cx="757.5" cy="1826.79" r="1.91" stroke-width="2.2"/>
<circle cx="1001.03" cy="1826.79" r="1.91" stroke-width="2.2"/>
<path d="M763.6 1663.6L995.5 1663.6" stroke-dasharray="60 11 9.5 11 49 11 9.5 11 60" stroke-width="1"/>
<path d="M763.6 1826.8L995.5 1826.8" stroke-dasharray="60 11 9.5 11 49 11 9.5 11 60" stroke-width="1"/>
<path d="M757.5 1669.4L757.5 1821.0" stroke-dasharray="50 10.5 10 10.5" stroke-width="1"/>
<path d="M1001.0 1669.4L1001.0 1821.0" stroke-dasharray="50 10.5 10 10.5" stroke-width="1"/>
<path d="M799.41 1774.29L758.82 1667.09" stroke-width="1"/>
<path d="M758.82 1667.09L762.35 1672.17L759.54 1673.23Z" fill="#1f1f1f" stroke="none" stroke-width="1"/>
<path d="M799.41 1774.29L758.82 1823.71" stroke-width="1"/>
<path d="M758.82 1823.71L761.47 1818.12L763.79 1820.03Z" fill="#1f1f1f" stroke="none" stroke-width="1"/>
<path d="M799.41 1774.29L879.71 1774.29" stroke-width="1"/>
<text x="840.0" y="1769.88" text-anchor="middle" style="font-size:8px;letter-spacing:0px;">2-M3L=4mmmax.</text>
<path d="M942.79 1745.18L999.71 1667.09" stroke-width="1"/>
<path d="M999.71 1667.09L997.39 1672.82L994.96 1671.06Z" fill="#1f1f1f" stroke="none" stroke-width="1"/>
<path d="M942.79 1745.18L999.71 1823.71" stroke-width="1"/>
<path d="M999.71 1823.71L994.97 1819.73L997.4 1817.97Z" fill="#1f1f1f" stroke="none" stroke-width="1"/>
<path d="M846.62 1745.18L942.79 1745.18" stroke-width="1"/>
<text x="889.41" y="1741.21" text-anchor="middle" style="font-size:8px;letter-spacing:0px;">2-M3L=16mmmax.</text>
<path d="M1017.35 1676.79L975.88 1676.79L975.88 1807.38L1017.35 1807.38" stroke-dasharray="26 7" stroke-width="1"/>
<path d="M1001.03 1676.79L1001.03 1807.38" stroke-dasharray="26 7" stroke-width="1"/>
<path d="M1003.24 1736.35L1008.53 1736.35L1008.53 1734.15L1014.26 1738.56L1008.53 1742.97L1008.53 1740.76L1003.24 1740.76Z" stroke-width="1"/>
<rect x="719.56" y="1700.18" width="22.5" height="2.64" stroke-width="1"/>
<path d="M 734.12 1703.71 L 730.59 1703.71 Q 727.06 1703.71 727.06 1709.0 Q 727.06 1714.74 730.59 1714.74 L 734.12 1714.74 Z" stroke-width="1"/>
<path d="M734.12 1702.82L734.12 1715.62" stroke-width="1"/>
<rect x="719.56" y="1715.62" width="22.5" height="2.64" stroke-width="1"/>
<path d="M 734.12 1719.15 L 730.59 1719.15 Q 727.06 1719.15 727.06 1724.44 Q 727.06 1730.18 730.59 1730.18 L 734.12 1730.18 Z" stroke-width="1"/>
<path d="M734.12 1718.26L734.12 1731.06" stroke-width="1"/>
<rect x="719.56" y="1731.06" width="22.5" height="2.65" stroke-width="1"/>
<path d="M 734.12 1734.59 L 730.59 1734.59 Q 727.06 1734.59 727.06 1739.88 Q 727.06 1745.62 730.59 1745.62 L 734.12 1745.62 Z" stroke-width="1"/>
<path d="M734.12 1733.71L734.12 1746.5" stroke-width="1"/>
<rect x="719.56" y="1746.5" width="22.5" height="2.65" stroke-width="1"/>
<path d="M 734.12 1750.03 L 730.59 1750.03 Q 727.06 1750.03 727.06 1755.32 Q 727.06 1761.06 730.59 1761.06 L 734.12 1761.06 Z" stroke-width="1"/>
<path d="M734.12 1749.15L734.12 1761.94" stroke-width="1"/>
<rect x="719.56" y="1761.94" width="22.5" height="2.65" stroke-width="1"/>
<path d="M 734.12 1765.47 L 730.59 1765.47 Q 727.06 1765.47 727.06 1770.76 Q 727.06 1776.5 730.59 1776.5 L 734.12 1776.5 Z" stroke-width="1"/>
<path d="M734.12 1764.59L734.12 1777.38" stroke-width="1"/>
<rect x="719.56" y="1777.38" width="22.5" height="2.65" stroke-width="1"/>
<path d="M 734.12 1780.91 L 730.59 1780.91 Q 727.06 1780.91 727.06 1786.21 Q 727.06 1791.94 730.59 1791.94 L 734.12 1791.94 Z" stroke-width="1"/>
<path d="M734.12 1780.03L734.12 1792.82" stroke-width="1"/>
<rect x="719.56" y="1792.82" width="22.5" height="2.65" stroke-width="1"/>
<path d="M 734.12 1796.35 L 730.59 1796.35 Q 727.06 1796.35 727.06 1801.65 Q 727.06 1807.38 730.59 1807.38 L 734.12 1807.38 Z" stroke-width="1"/>
<path d="M734.12 1795.47L734.12 1808.26" stroke-width="1"/>
<rect x="719.56" y="1808.26" width="22.5" height="2.65" stroke-width="1"/>
<path d="M 734.12 1811.79 L 730.59 1811.79 Q 727.06 1811.79 727.06 1817.09 Q 727.06 1822.82 730.59 1822.82 L 734.12 1822.82 Z" stroke-width="1"/>
<path d="M734.12 1810.91L734.12 1823.71" stroke-width="1"/>
<rect x="719.56" y="1823.71" width="22.5" height="2.64" stroke-width="1"/>
<path d="M1020.88 1646.35L1065.0 1646.35" stroke-width="1"/>
<path d="M1007.65 1826.79L1065.0 1826.79" stroke-width="1"/>
<path d="M1020.88 1741.21L1042.94 1741.21" stroke-width="1"/>
<path d="M1039.41 1646.35L1039.41 1741.21" stroke-width="1"/>
<path d="M1039.41 1646.35L1040.71 1651.35L1038.11 1651.35Z" fill="#1f1f1f" stroke="none" stroke-width="1"/>
<path d="M1039.41 1741.21L1038.11 1736.21L1040.71 1736.21Z" fill="#1f1f1f" stroke="none" stroke-width="1"/>
<path d="M1039.41 1741.21L1039.41 1826.79" stroke-width="1"/>
<path d="M1039.41 1741.21L1040.71 1746.21L1038.11 1746.21Z" fill="#1f1f1f" stroke="none" stroke-width="1"/>
<path d="M1039.41 1826.79L1038.11 1821.79L1040.71 1821.79Z" fill="#1f1f1f" stroke="none" stroke-width="1"/>
<path d="M1061.91 1646.35L1061.91 1826.79" stroke-width="1"/>
<path d="M1061.91 1646.35L1063.21 1651.35L1060.61 1651.35Z" fill="#1f1f1f" stroke="none" stroke-width="1"/>
<path d="M1061.91 1826.79L1060.61 1821.79L1063.21 1821.79Z" fill="#1f1f1f" stroke="none" stroke-width="1"/>
<text x="1038.09" y="1691.35" text-anchor="middle" style="font-size:8px;" transform="rotate(-90 1038.09 1691.35)">50</text>
<text x="1038.09" y="1785.32" text-anchor="middle" style="font-size:8px;" transform="rotate(-90 1038.09 1785.32)">50</text>
<text x="1059.71" y="1731.06" text-anchor="middle" style="font-size:8px;" transform="rotate(-90 1059.71 1731.06)">120</text>
<path d="M757.5 1864.74L1001.03 1864.74" stroke-width="1"/>
<path d="M757.5 1864.74L762.5 1863.44L762.5 1866.04Z" fill="#1f1f1f" stroke="none" stroke-width="1"/>
<path d="M1001.03 1864.74L996.03 1866.04L996.03 1863.44Z" fill="#1f1f1f" stroke="none" stroke-width="1"/>
<text x="878.38" y="1861.65" text-anchor="middle" style="font-size:8px;">150</text>
<path d="M757.5 1831.21L757.5 1866.94" stroke-width="1"/>
<path d="M1001.03 1831.21L1001.03 1866.94" stroke-width="1"/>
<path d="M627.76 1887.42L822.19 1887.42" stroke-width="1"/>
<path d="M627.76 1887.42L633.76 1885.92L633.76 1888.92Z" fill="#1f1f1f" stroke="none" stroke-width="1"/>
<path d="M822.19 1887.42L816.19 1888.92L816.19 1885.92Z" fill="#1f1f1f" stroke="none" stroke-width="1"/>
<text x="723.87" y="1883.95" text-anchor="middle" style="font-size:9px;">120</text>
<path d="M627.76 1883.63L627.76 1929.33" stroke-width="1"/>
<path d="M822.19 1883.63L822.19 1930.9" stroke-width="1"/>
<text x="734.9" y="1906.64" text-anchor="middle" style="font-size:9px;">8</text>
<path d="M728.6 1909.79L741.83 1909.79" stroke-width="1"/>
<path d="M728.6 1909.79L732.6 1908.59L732.6 1910.99Z" fill="#1f1f1f" stroke="none" stroke-width="1"/>
<path d="M741.83 1909.79L737.83 1910.99L737.83 1908.59Z" fill="#1f1f1f" stroke="none" stroke-width="1"/>
<path d="M728.6 1907.27L728.6 1951.39" stroke-width="1"/>
<path d="M741.83 1907.27L741.83 1951.39" stroke-width="1"/>
<text x="811.47" y="1907.27" text-anchor="middle" style="font-size:9px;">11.5</text>
<path d="M802.02 1909.79L822.19 1909.79" stroke-width="1"/>
<path d="M802.02 1909.79L806.02 1908.59L806.02 1910.99Z" fill="#1f1f1f" stroke="none" stroke-width="1"/>
<path d="M822.19 1909.79L818.19 1910.99L818.19 1908.59Z" fill="#1f1f1f" stroke="none" stroke-width="1"/>
<path d="M802.02 1907.27L802.02 1944.45" stroke-width="1"/>
<rect x="627.76" y="1933.42" width="194.43" height="151.26" stroke-width="1"/>
<path d="M627.76 2047.5L822.19 2047.5" stroke-width="1"/>
<rect x="689.84" y="1944.45" width="120.06" height="28.05" stroke-width="1"/>
<path d="M696.45 1944.45L696.45 1972.5" stroke-width="1"/>
<path d="M804.86 1944.45L804.86 1972.5" stroke-width="1"/>
<circle cx="704.33" cy="1959.26" r="4.73" stroke-width="1"/>
<path d="M700.99 1955.92L707.67 1962.61" stroke-width="1"/>
<path d="M700.99 1962.61L707.67 1955.92" stroke-width="1"/>
<text x="704.33" y="1941.93" text-anchor="middle" style="font-size:8px;letter-spacing:0px;">1</text>
<path d="M697.08 1944.45L697.08 1972.5" stroke-width="1"/>
<path d="M711.58 1944.45L711.58 1972.5" stroke-width="1"/>
<circle cx="719.77" cy="1959.26" r="4.73" stroke-width="1"/>
<path d="M716.43 1955.92L723.12 1962.61" stroke-width="1"/>
<path d="M716.43 1962.61L723.12 1955.92" stroke-width="1"/>
<text x="719.77" y="1941.93" text-anchor="middle" style="font-size:8px;letter-spacing:0px;">2</text>
<path d="M712.53 1944.45L712.53 1972.5" stroke-width="1"/>
<path d="M727.02 1944.45L727.02 1972.5" stroke-width="1"/>
<circle cx="735.21" cy="1959.26" r="4.73" stroke-width="1"/>
<path d="M731.87 1955.92L738.56 1962.61" stroke-width="1"/>
<path d="M731.87 1962.61L738.56 1955.92" stroke-width="1"/>
<text x="735.21" y="1941.93" text-anchor="middle" style="font-size:8px;letter-spacing:0px;">3</text>
<path d="M727.97 1944.45L727.97 1972.5" stroke-width="1"/>
<path d="M742.46 1944.45L742.46 1972.5" stroke-width="1"/>
<circle cx="750.66" cy="1959.26" r="4.73" stroke-width="1"/>
<path d="M747.31 1955.92L754.0 1962.61" stroke-width="1"/>
<path d="M747.31 1962.61L754.0 1955.92" stroke-width="1"/>
<text x="750.66" y="1941.93" text-anchor="middle" style="font-size:8px;letter-spacing:0px;">4</text>
<path d="M743.41 1944.45L743.41 1972.5" stroke-width="1"/>
<path d="M757.9 1944.45L757.9 1972.5" stroke-width="1"/>
<circle cx="766.1" cy="1959.26" r="4.73" stroke-width="1"/>
<path d="M762.75 1955.92L769.44 1962.61" stroke-width="1"/>
<path d="M762.75 1962.61L769.44 1955.92" stroke-width="1"/>
<text x="766.1" y="1941.93" text-anchor="middle" style="font-size:8px;letter-spacing:0px;">5</text>
<path d="M758.85 1944.45L758.85 1972.5" stroke-width="1"/>
<path d="M773.34 1944.45L773.34 1972.5" stroke-width="1"/>
<circle cx="781.54" cy="1959.26" r="4.73" stroke-width="1"/>
<path d="M778.2 1955.92L784.88 1962.61" stroke-width="1"/>
<path d="M778.2 1962.61L784.88 1955.92" stroke-width="1"/>
<text x="781.54" y="1941.93" text-anchor="middle" style="font-size:8px;letter-spacing:0px;">6</text>
<path d="M774.29 1944.45L774.29 1972.5" stroke-width="1"/>
<path d="M788.79 1944.45L788.79 1972.5" stroke-width="1"/>
<circle cx="796.98" cy="1959.26" r="4.73" stroke-width="1"/>
<path d="M793.64 1955.92L800.32 1962.61" stroke-width="1"/>
<path d="M793.64 1962.61L800.32 1955.92" stroke-width="1"/>
<text x="796.98" y="1941.93" text-anchor="middle" style="font-size:8px;letter-spacing:0px;">7</text>
<path d="M789.73 1944.45L789.73 1972.5" stroke-width="1"/>
<path d="M804.23 1944.45L804.23 1972.5" stroke-width="1"/>
<rect x="675.03" y="2047.5" width="138.65" height="27.73" stroke-width="1"/>
<path d="M681.96 2047.5L681.96 2075.23" stroke-width="1"/>
<path d="M804.86 2047.5L804.86 2075.23" stroke-width="1"/>
<circle cx="689.21" cy="2061.05" r="4.73" stroke-width="1"/>
<path d="M685.86 2057.71L692.55 2064.39" stroke-width="1"/>
<path d="M685.86 2064.39L692.55 2057.71" stroke-width="1"/>
<text x="689.21" y="2083.74" text-anchor="middle" style="font-size:8px;letter-spacing:0px;">8</text>
<path d="M681.96 2047.5L681.96 2075.23" stroke-width="1"/>
<path d="M696.45 2047.5L696.45 2075.23" stroke-width="1"/>
<circle cx="704.65" cy="2061.05" r="4.73" stroke-width="1"/>
<path d="M701.31 2057.71L707.99 2064.39" stroke-width="1"/>
<path d="M701.31 2064.39L707.99 2057.71" stroke-width="1"/>
<text x="704.65" y="2083.74" text-anchor="middle" style="font-size:8px;letter-spacing:0px;">9</text>
<path d="M697.4 2047.5L697.4 2075.23" stroke-width="1"/>
<path d="M711.89 2047.5L711.89 2075.23" stroke-width="1"/>
<circle cx="720.09" cy="2061.05" r="4.73" stroke-width="1"/>
<path d="M716.75 2057.71L723.43 2064.39" stroke-width="1"/>
<path d="M716.75 2064.39L723.43 2057.71" stroke-width="1"/>
<text x="720.09" y="2083.74" text-anchor="middle" style="font-size:8px;letter-spacing:0px;">10</text>
<path d="M712.84 2047.5L712.84 2075.23" stroke-width="1"/>
<path d="M727.34 2047.5L727.34 2075.23" stroke-width="1"/>
<circle cx="735.53" cy="2061.05" r="4.73" stroke-width="1"/>
<path d="M732.19 2057.71L738.87 2064.39" stroke-width="1"/>
<path d="M732.19 2064.39L738.87 2057.71" stroke-width="1"/>
<text x="735.53" y="2083.74" text-anchor="middle" style="font-size:8px;letter-spacing:0px;">11</text>
<path d="M728.28 2047.5L728.28 2075.23" stroke-width="1"/>
<path d="M742.78 2047.5L742.78 2075.23" stroke-width="1"/>
<circle cx="750.97" cy="2061.05" r="4.73" stroke-width="1"/>
<path d="M747.63 2057.71L754.31 2064.39" stroke-width="1"/>
<path d="M747.63 2064.39L754.31 2057.71" stroke-width="1"/>
<text x="750.97" y="2083.74" text-anchor="middle" style="font-size:8px;letter-spacing:0px;">12</text>
<path d="M743.72 2047.5L743.72 2075.23" stroke-width="1"/>
<path d="M758.22 2047.5L758.22 2075.23" stroke-width="1"/>
<circle cx="766.41" cy="2061.05" r="4.73" stroke-width="1"/>
<path d="M763.07 2057.71L769.75 2064.39" stroke-width="1"/>
<path d="M763.07 2064.39L769.75 2057.71" stroke-width="1"/>
<text x="766.41" y="2083.74" text-anchor="middle" style="font-size:8px;letter-spacing:0px;">13</text>
<path d="M759.16 2047.5L759.16 2075.23" stroke-width="1"/>
<path d="M773.66 2047.5L773.66 2075.23" stroke-width="1"/>
<circle cx="781.85" cy="2061.05" r="4.73" stroke-width="1"/>
<path d="M778.51 2057.71L785.19 2064.39" stroke-width="1"/>
<path d="M778.51 2064.39L785.19 2057.71" stroke-width="1"/>
<text x="781.85" y="2083.74" text-anchor="middle" style="font-size:8px;letter-spacing:0px;">14</text>
<path d="M774.61 2047.5L774.61 2075.23" stroke-width="1"/>
<path d="M789.1 2047.5L789.1 2075.23" stroke-width="1"/>
<circle cx="797.29" cy="2061.05" r="4.73" stroke-width="1"/>
<path d="M793.95 2057.71L800.64 2064.39" stroke-width="1"/>
<path d="M793.95 2064.39L800.64 2057.71" stroke-width="1"/>
<text x="797.29" y="2083.74" text-anchor="middle" style="font-size:8px;letter-spacing:0px;">15</text>
<path d="M790.05 2047.5L790.05 2075.23" stroke-width="1"/>
<path d="M804.54 2047.5L804.54 2075.23" stroke-width="1"/>
<rect x="635.63" y="1973.45" width="7.88" height="25.21" rx="3.78" stroke-width="1"/>
<rect x="645.09" y="1973.45" width="7.88" height="25.21" rx="3.78" stroke-width="1"/>
<rect x="654.54" y="1973.45" width="7.88" height="25.21" rx="3.78" stroke-width="1"/>
<rect x="664.0" y="1973.45" width="7.87" height="25.21" rx="3.78" stroke-width="1"/>
<rect x="635.63" y="2002.44" width="7.88" height="25.21" rx="3.78" stroke-width="1"/>
<rect x="645.09" y="2002.44" width="7.88" height="25.21" rx="3.78" stroke-width="1"/>
<rect x="654.54" y="2002.44" width="7.88" height="25.21" rx="3.78" stroke-width="1"/>
<rect x="664.0" y="2002.44" width="7.87" height="25.21" rx="3.78" stroke-width="1"/>
<rect x="678.18" y="1975.97" width="140.23" height="66.8" rx="3.78" stroke-width="1" stroke-dasharray="16 5"/>
<path d="M728.6 1975.97L728.6 2023.87" stroke-width="1"/>
<path d="M678.18 2023.87L818.41 2023.87" stroke-width="1"/>
<path d="M 704.33 1975.97 L 704.33 1983.53 L 720.72 1983.53 L 720.72 1975.97" stroke-width="3.2"/>
<path d="M735.21 1975.97L735.21 1985.11" stroke-width="3.2"/>
<path d="M750.66 1975.97L750.66 1985.11" stroke-width="3.2"/>
<path d="M766.1 1975.97L766.1 1985.11" stroke-width="3.2"/>
<path d="M 781.54 1975.97 L 781.54 1983.53 L 796.98 1983.53 L 796.98 1975.97" stroke-width="3.2"/>
<text x="704.33" y="1992.35" text-anchor="middle" style="font-size:5.5px;letter-spacing:0px;">L</text>
<text x="720.09" y="1992.35" text-anchor="middle" style="font-size:5.5px;letter-spacing:0px;">N</text>
<text x="712.21" y="1998.03" text-anchor="middle" style="font-size:5.5px;letter-spacing:0px;">(AC)</text>
<text x="735.21" y="1992.35" text-anchor="middle" style="font-size:5.5px;letter-spacing:0px;">FG</text>
<text x="750.66" y="1992.35" text-anchor="middle" style="font-size:5.5px;letter-spacing:0px;">NC</text>
<text x="766.1" y="1992.35" text-anchor="middle" style="font-size:5.5px;letter-spacing:0px;">NC</text>
<text x="779.02" y="1992.35" text-anchor="middle" style="font-size:5.5px;letter-spacing:0px;">R.C.G</text>
<text x="797.29" y="1992.35" text-anchor="middle" style="font-size:5.5px;letter-spacing:0px;">R.C.</text>
<text x="809.9" y="1982.27" text-anchor="middle" style="font-size:3.6px;letter-spacing:0px;">SHORT ON</text>
<text x="809.9" y="1986.68" text-anchor="middle" style="font-size:3.6px;letter-spacing:0px;">OPEN OFF</text>
<text x="704.33" y="2006.85" text-anchor="middle" style="font-size:5.5px;letter-spacing:0px;">INPUT</text>
<text x="698.66" y="2013.15" text-anchor="middle" style="font-size:5.5px;letter-spacing:0px;">100-240VAC</text>
<text x="686.68" y="2019.45" text-anchor="middle" style="font-size:5.5px;letter-spacing:0px;">7A</text>
<text x="714.42" y="2019.45" text-anchor="middle" style="font-size:5.5px;letter-spacing:0px;">50/60Hz</text>
<rect x="732.69" y="1998.66" width="34.4" height="21.4" fill="#fff" stroke="none" style="fill:#fff;stroke:none" stroke-width="1"/>
<ellipse cx="749.39" cy="2007.48" rx="15.5" ry="7.5" style="stroke:#e8222a;stroke-width:0.8;fill:none"/>
<text x="750.66" y="2011.89" text-anchor="middle" style="font-family:'Liberation Serif',serif;font-style:italic;font-weight:bold;font-size:12.5px;fill:#e8222a;letter-spacing:0">Smun</text>
<text x="749.71" y="2017.88" text-anchor="middle" style="font-size:2.6px;font-weight:bold;fill:#e8222a;letter-spacing:0.2px">SOMETHING ELECTRIC</text>
<text x="791.62" y="2013.78" text-anchor="middle" style="font-size:8px;letter-spacing:0px;">SP-600-24</text>
<text x="688.58" y="2030.48" text-anchor="middle" style="font-size:5.5px;letter-spacing:0px;">+S</text>
<text x="718.2" y="2030.48" text-anchor="middle" style="font-size:5.5px;letter-spacing:0px;">+24V25A</text>
<text x="766.1" y="2030.48" text-anchor="middle" style="font-size:5.5px;letter-spacing:0px;">-V</text>
<text x="797.29" y="2030.48" text-anchor="middle" style="font-size:5.5px;letter-spacing:0px;">-S</text>
<path d="M689.21 2031.74L689.21 2042.77" stroke-width="3.2"/>
<path d="M797.29 2031.74L797.29 2042.77" stroke-width="3.2"/>
<path d="M 703.39 2042.77 L 703.39 2035.21 L 736.47 2035.21 L 736.47 2042.77 M 720.09 2035.21 L 720.09 2042.77" stroke-width="3.2"/>
<path d="M 749.71 2042.77 L 749.71 2035.21 L 782.8 2035.21 L 782.8 2042.77 M 766.41 2035.21 L 766.41 2042.77" stroke-width="3.2"/>
<rect x="652.97" y="2030.17" width="23.63" height="11.97" rx="2.52" stroke-width="1" stroke-dasharray="5 2"/>
<text x="664.94" y="2035.84" text-anchor="middle" style="font-size:5px;letter-spacing:0px;">+V ADJ.</text>
<circle cx="643.51" cy="2038.05" r="4.1" stroke-width="1"/>
<circle cx="643.51" cy="2038.05" r="2.54" stroke-width="0.9"/>
<path d="M641.46 2036.0L645.56 2040.09" stroke-width="1.1"/>
<path d="M641.46 2040.09L645.56 2036.0" stroke-width="1.1"/>
<circle cx="649.82" cy="2065.46" r="2.21" stroke-width="1"/>
<circle cx="664.94" cy="2065.46" r="4.1" stroke-width="1"/>
<text x="696.45" y="2103.28" text-anchor="middle" style="font-size:9px;">9.5</text>
<path d="M689.21 2107.37L704.65 2107.37" stroke-width="1"/>
<path d="M689.21 2107.37L693.21 2106.17L693.21 2108.57Z" fill="#1f1f1f" stroke="none" stroke-width="1"/>
<path d="M704.65 2107.37L700.65 2108.57L700.65 2106.17Z" fill="#1f1f1f" stroke="none" stroke-width="1"/>
<path d="M689.21 2067.98L689.21 2110.53" stroke-width="1"/>
<path d="M704.65 2067.98L704.65 2110.53" stroke-width="1"/>
<text x="811.47" y="2103.28" text-anchor="middle" style="font-size:9px;">11.5</text>
<path d="M802.02 2107.37L822.19 2107.37" stroke-width="1"/>
<path d="M802.02 2107.37L806.02 2106.17L806.02 2108.57Z" fill="#1f1f1f" stroke="none" stroke-width="1"/>
<path d="M822.19 2107.37L818.19 2108.57L818.19 2106.17Z" fill="#1f1f1f" stroke="none" stroke-width="1"/>
<path d="M802.02 2077.44L802.02 2110.53" stroke-width="1"/>
<path d="M822.19 2084.68L822.19 2110.53" stroke-width="1"/>
<path d="M860.32 1893.42L1135.87 1893.42" stroke-width="1"/>
<path d="M860.32 1893.42L865.32 1892.12L865.32 1894.72Z" fill="#1f1f1f" stroke="none" stroke-width="1"/>
<path d="M1135.87 1893.42L1130.87 1894.72L1130.87 1892.12Z" fill="#1f1f1f" stroke="none" stroke-width="1"/>
<text x="997.12" y="1889.54" text-anchor="middle" style="font-size:8px;">170</text>
<path d="M876.64 1916.36L1119.55 1916.36" stroke-width="1"/>
<path d="M876.64 1916.36L881.64 1915.06L881.64 1917.66Z" fill="#1f1f1f" stroke="none" stroke-width="1"/>
<path d="M1119.55 1916.36L1114.55 1917.66L1114.55 1915.06Z" fill="#1f1f1f" stroke="none" stroke-width="1"/>
<text x="997.12" y="1912.08" text-anchor="middle" style="font-size:8px;">150</text>
<path d="M860.32 1891.09L860.32 1938.9" stroke-width="1"/>
<path d="M1135.87 1891.09L1135.87 1938.9" stroke-width="1"/>
<path d="M876.64 1914.41L876.64 1970.77" stroke-width="1"/>
<path d="M1119.55 1914.41L1119.55 2052.38" stroke-width="1"/>
<rect x="860.32" y="1938.9" width="275.55" height="152.35" stroke-width="1"/>
<rect x="837.0" y="1951.33" width="23.32" height="26.43" stroke-width="1"/>
<rect x="837.0" y="2055.49" width="23.32" height="26.04" stroke-width="1"/>
<circle cx="876.64" cy="1974.65" r="1.93" stroke-width="2.2"/>
<circle cx="1118.77" cy="1974.65" r="1.93" stroke-width="2.2"/>
<circle cx="876.64" cy="2056.27" r="1.93" stroke-width="2.2"/>
<circle cx="1118.77" cy="2056.27" r="1.93" stroke-width="2.2"/>
<path d="M882.47 1974.65L1113.72 1974.65" stroke-dasharray="60 10 12 10" stroke-width="1"/>
<path d="M882.47 2056.27L1113.72 2056.27" stroke-dasharray="60 10 12 10" stroke-width="1"/>
<path d="M898.01 2014.68L877.8 1978.15" stroke-width="1"/>
<path d="M877.8 1978.15L882.02 1982.67L879.39 1984.13Z" fill="#1f1f1f" stroke="none" stroke-width="1"/>
<path d="M898.01 2014.68L877.8 2052.77" stroke-width="1"/>
<path d="M877.8 2052.77L879.29 2046.77L881.94 2048.17Z" fill="#1f1f1f" stroke="none" stroke-width="1"/>
<path d="M898.01 2014.68L977.69 2014.68" stroke-width="1"/>
<text x="938.05" y="2010.8" text-anchor="middle" style="font-size:8px;letter-spacing:0px;">2-M3L=4mmmax.</text>
<path d="M1091.57 2014.68L1116.83 1978.15" stroke-width="1"/>
<path d="M1116.83 1978.15L1114.65 1983.94L1112.18 1982.23Z" fill="#1f1f1f" stroke="none" stroke-width="1"/>
<path d="M1091.57 2014.68L1116.83 2052.77" stroke-width="1"/>
<path d="M1116.83 2052.77L1112.26 2048.6L1114.76 2046.94Z" fill="#1f1f1f" stroke="none" stroke-width="1"/>
<path d="M999.07 2014.68L1091.57 2014.68" stroke-width="1"/>
<text x="1037.15" y="2010.8" text-anchor="middle" style="font-size:8px;letter-spacing:0px;">2-M3L=16mmmax.</text>
<circle cx="1126.16" cy="1996.03" r="4.66" stroke-width="1"/>
<circle cx="1126.16" cy="1996.03" r="2.89" stroke-width="0.9"/>
<path d="M1123.82 1993.7L1128.49 1998.36" stroke-width="1.1"/>
<path d="M1123.82 1998.36L1128.49 1993.7" stroke-width="1.1"/>
<circle cx="983.52" cy="2065.99" r="4.66" stroke-width="1"/>
<circle cx="983.52" cy="2065.99" r="2.89" stroke-width="0.9"/>
<path d="M981.19 2063.66L985.85 2068.32" stroke-width="1.1"/>
<path d="M981.19 2068.32L985.85 2063.66" stroke-width="1.1"/>
<rect x="871.97" y="1945.5" width="9.33" height="3.89" stroke-width="1"/>
<rect x="871.97" y="1952.11" width="9.33" height="3.5" stroke-width="1"/>
<rect x="1027.44" y="1945.5" width="9.32" height="3.89" stroke-width="1"/>
<rect x="1027.44" y="1952.11" width="9.32" height="3.5" stroke-width="1"/>
<rect x="871.97" y="2075.7" width="8.56" height="3.89" stroke-width="1"/>
<rect x="1065.91" y="2075.7" width="8.94" height="3.89" stroke-width="1"/>
<path d="M991.29 2091.25L991.29 2079.59L1010.72 2079.59L1010.72 2091.25" stroke-width="1"/>
<path d="M1124.21 1974.65L1162.3 1974.65" stroke-width="1"/>
<path d="M1124.21 2056.27L1162.3 2056.27" stroke-width="1"/>
<path d="M1158.41 1974.65L1158.41 2056.27" stroke-width="1"/>
<path d="M1158.41 1974.65L1159.71 1979.65L1157.11 1979.65Z" fill="#1f1f1f" stroke="none" stroke-width="1"/>
<path d="M1158.41 2056.27L1157.11 2051.27L1159.71 2051.27Z" fill="#1f1f1f" stroke="none" stroke-width="1"/>
<text x="1153.75" y="2017.41" text-anchor="middle" style="font-size:8px;" transform="rotate(-90 1153.75 2017.41)">50</text>
<path d="M1137.04 1938.9L1184.45 1938.9" stroke-width="1"/>
<path d="M1137.04 2091.25L1184.45 2091.25" stroke-width="1"/>
<path d="M1180.96 1938.9L1180.96 2091.25" stroke-width="1"/>
<path d="M1180.96 1938.9L1182.26 1943.9L1179.66 1943.9Z" fill="#1f1f1f" stroke="none" stroke-width="1"/>
<path d="M1180.96 2091.25L1179.66 2086.25L1182.26 2086.25Z" fill="#1f1f1f" stroke="none" stroke-width="1"/>
<text x="1176.29" y="2018.57" text-anchor="middle" style="font-size:8px;" transform="rotate(-90 1176.29 2018.57)">93</text>
</g>
<g id="p9">
<path d="M33.63 2448.61L33.63 2246.3L115.57 2246.3L115.57 2448.61"/>
<path d="M33.63 2341.47L115.57 2341.47"/>
<ellipse cx="74.6" cy="2293.57" rx="36.6" ry="46.3" stroke-width="1.2"/>
<ellipse cx="74.6" cy="2293.57" rx="32.2" ry="40.7" stroke-width="1.2"/>
<ellipse cx="74.6" cy="2293.57" rx="27.8" ry="35.2" stroke-width="1.2"/>
<ellipse cx="74.6" cy="2293.57" rx="23.4" ry="29.6" stroke-width="1.2"/>
<ellipse cx="74.6" cy="2293.57" rx="19.0" ry="24.1" stroke-width="1.2"/>
<ellipse cx="74.6" cy="2293.57" rx="14.6" ry="18.5" stroke-width="1.2"/>
<ellipse cx="74.6" cy="2293.57" rx="10.2" ry="13.0" stroke-width="1.2"/>
<ellipse cx="69.87" cy="2293.57" rx="3.4" ry="6.3" stroke-width="1.2"/>
<ellipse cx="79.96" cy="2293.57" rx="3.4" ry="6.3" stroke-width="1.2"/>
<path d="M42.77 2257.96L104.22 2332.02" stroke-width="1.2"/>
<path d="M46.55 2254.81L108.0 2328.87" stroke-width="1.2"/>
<path d="M104.22 2257.96L42.77 2332.02" stroke-width="1.2"/>
<path d="M108.0 2254.81L46.55 2328.87" stroke-width="1.2"/>
<circle cx="44.66" cy="2256.39" r="3.78" stroke-width="3.5"/>
<path d="M37.1 2256.39L52.23 2256.39" stroke-width="1"/>
<path d="M44.66 2248.82L44.66 2263.95" stroke-width="1"/>
<circle cx="106.11" cy="2256.39" r="3.78" stroke-width="3.5"/>
<path d="M98.55 2256.39L113.68 2256.39" stroke-width="1"/>
<path d="M106.11 2248.82L106.11 2263.95" stroke-width="1"/>
<circle cx="44.66" cy="2330.44" r="3.78" stroke-width="3.5"/>
<path d="M37.1 2330.44L52.23 2330.44" stroke-width="1"/>
<path d="M44.66 2322.88L44.66 2338.0" stroke-width="1"/>
<circle cx="106.11" cy="2330.44" r="3.78" stroke-width="3.5"/>
<path d="M98.55 2330.44L113.68 2330.44" stroke-width="1"/>
<path d="M106.11 2322.88L106.11 2338.0" stroke-width="1"/>
<ellipse cx="59.79" cy="2355.02" rx="7.9" ry="9.7" stroke-width="1.1"/>
<ellipse cx="59.79" cy="2355.02" rx="5.7" ry="6.9" stroke-width="1.1"/>
<ellipse cx="59.79" cy="2355.02" rx="3.4" ry="4.2" stroke-width="1.1"/>
<ellipse cx="59.79" cy="2355.02" rx="1.7" ry="2.1" stroke-width="1.1"/>
<path d="M47.18 2355.02L72.39 2355.02"/>
<ellipse cx="59.79" cy="2397.25" rx="7.9" ry="9.7" stroke-width="1.1"/>
<ellipse cx="59.79" cy="2397.25" rx="5.7" ry="6.9" stroke-width="1.1"/>
<ellipse cx="59.79" cy="2397.25" rx="3.4" ry="4.2" stroke-width="1.1"/>
<ellipse cx="59.79" cy="2397.25" rx="1.7" ry="2.1" stroke-width="1.1"/>
<path d="M47.18 2397.25L72.39 2397.25"/>
<path d="M59.79 2343.05L59.79 2412.37"/>
<path d="M115.57 2246.3L136.05 2246.3"/>
<text x="129.75" y="2347.77" text-anchor="middle" style="font-size:13px;" transform="rotate(-90 129.75 2347.77)">132.0</text>
<path d="M132.27 2247.56L132.27 2446.41"/>
<path d="M132.27 2247.56L134.17 2254.56L130.37 2254.56Z" fill="#1f1f1f" stroke="none"/>
<path d="M132.27 2446.41L130.37 2439.41L134.17 2439.41Z" fill="#1f1f1f" stroke="none"/>
<path d="M152.75 2213.21L293.61 2213.21"/>
<path d="M152.75 2213.21L160.25 2211.01L160.25 2215.41Z" fill="#1f1f1f" stroke="none"/>
<path d="M152.75 2232.12L192.14 2232.12"/>
<path d="M152.75 2232.12L160.25 2229.92L160.25 2234.32Z" fill="#1f1f1f" stroke="none"/>
<path d="M192.14 2232.12L184.64 2234.32L184.64 2229.92Z" fill="#1f1f1f" stroke="none"/>
<text x="175.44" y="2230.23" text-anchor="middle" style="font-size:13px;">32.0</text>
<path d="M192.14 2232.12L293.61 2232.12"/>
<path d="M192.14 2232.12L199.64 2229.92L199.64 2234.32Z" fill="#1f1f1f" stroke="none"/>
<path d="M152.75 2209.12L152.75 2245.36"/>
<path d="M192.14 2228.03L192.14 2439.16"/>
<path d="M293.61 2246.93L153.38 2246.93L153.38 2448.61"/>
<circle cx="160.63" cy="2256.7" r="2.84"/>
<path d="M154.11 2256.7L167.15 2256.7"/>
<path d="M160.63 2250.18L160.63 2263.22"/>
<circle cx="160.63" cy="2356.28" r="2.84"/>
<path d="M154.11 2356.28L167.15 2356.28"/>
<path d="M160.63 2349.76L160.63 2362.8"/>
<path d="M160.63 2249.45L160.63 2364.16"/>
<circle cx="192.14" cy="2261.11" r="3.15"/>
<path d="M188.99 2261.11L195.29 2261.11"/>
<path d="M192.14 2257.96L192.14 2264.26"/>
<path d="M180.17 2261.11L293.61 2261.11" stroke-dasharray="26 6"/>
<text x="202.23" y="2275.92" style="font-size:13px;">4−M3</text>
<path d="M186.47 2252.61L200.65 2279.08L229.64 2279.08"/>
<path d="M143.93 2347.14L293.61 2347.14" stroke-dasharray="40 6 12 6"/>
<rect x="141.72" y="2354.08" width="11.66" height="80.35"/>
<circle cx="192.14" cy="2437.58" r="3.15"/>
<path d="M187.42 2437.58L196.87 2437.58"/>
<path d="M192.14 2432.86L192.14 2442.31"/>
<circle cx="241.62" cy="2437.58" r="2.52"/>
<path d="M236.07 2437.58L247.16 2437.58"/>
<path d="M241.62 2432.04L241.62 2443.13"/>
<path d="M195.92 2437.58L293.61 2437.58"/>
<text x="333.17" y="2210.69" text-anchor="middle" style="font-size:13px;">291.0</text>
<path d="M293.78 2213.21L504.29 2213.21"/>
<path d="M504.29 2213.21L496.79 2215.41L496.79 2211.01Z" fill="#1f1f1f" stroke="none"/>
<path d="M504.29 2209.12L504.29 2243.78"/>
<text x="342.0" y="2230.55" text-anchor="middle" style="font-size:13px;">250.0</text>
<path d="M293.78 2232.12L494.2 2232.12"/>
<path d="M494.2 2232.12L486.7 2234.32L486.7 2229.92Z" fill="#1f1f1f" stroke="none"/>
<path d="M494.2 2228.03L494.2 2258.28"/>
<path d="M293.78 2246.93L504.92 2246.93"/>
<path d="M504.92 2240.63L504.92 2445.15"/>
<path d="M293.78 2261.11L491.68 2261.11" stroke-dasharray="26 6"/>
<circle cx="494.83" cy="2261.11" r="2.84"/>
<path d="M492.0 2261.11L497.67 2261.11"/>
<path d="M494.83 2258.28L494.83 2263.95"/>
<path d="M507.44 2260.48L561.01 2260.48" stroke-dasharray="40 5"/>
<text x="549.98" y="2225.5" text-anchor="middle" style="font-size:13px;">9.5</text>
<path d="M541.16 2228.66L560.38 2228.66"/>
<path d="M542.1 2228.66L542.1 2260.48"/>
<path d="M504.92 2247.56L545.25 2247.56"/>
<rect x="505.86" y="2253.24" width="17.33" height="82.87"/>
<rect x="432.44" y="2251.82" width="27.1" height="5.35" rx="2.68" stroke-width="1.2"/>
<rect x="463.95" y="2251.82" width="27.1" height="5.35" rx="2.68" stroke-width="1.2"/>
<rect x="432.44" y="2259.46" width="27.1" height="5.36" rx="2.68" stroke-width="1.2"/>
<rect x="463.95" y="2259.46" width="27.1" height="5.36" rx="2.68" stroke-width="1.2"/>
<rect x="432.44" y="2267.1" width="27.1" height="5.36" rx="2.68" stroke-width="1.2"/>
<rect x="463.95" y="2267.1" width="27.1" height="5.36" rx="2.68" stroke-width="1.2"/>
<rect x="432.44" y="2274.74" width="27.1" height="5.36" rx="2.68" stroke-width="1.2"/>
<rect x="463.95" y="2274.74" width="27.1" height="5.36" rx="2.68" stroke-width="1.2"/>
<rect x="432.44" y="2282.38" width="27.1" height="5.36" rx="2.68" stroke-width="1.2"/>
<rect x="463.95" y="2282.38" width="27.1" height="5.36" rx="2.68" stroke-width="1.2"/>
<rect x="432.44" y="2290.03" width="27.1" height="5.35" rx="2.68" stroke-width="1.2"/>
<rect x="463.95" y="2290.03" width="27.1" height="5.35" rx="2.68" stroke-width="1.2"/>
<rect x="432.44" y="2297.67" width="27.1" height="5.36" rx="2.68" stroke-width="1.2"/>
<rect x="463.95" y="2297.67" width="27.1" height="5.36" rx="2.68" stroke-width="1.2"/>
<rect x="432.44" y="2305.31" width="27.1" height="5.36" rx="2.68" stroke-width="1.2"/>
<rect x="463.95" y="2305.31" width="27.1" height="5.36" rx="2.68" stroke-width="1.2"/>
<rect x="432.44" y="2312.95" width="27.1" height="5.36" rx="2.68" stroke-width="1.2"/>
<rect x="463.95" y="2312.95" width="27.1" height="5.36" rx="2.68" stroke-width="1.2"/>
<rect x="432.44" y="2320.59" width="27.1" height="5.36" rx="2.68" stroke-width="1.2"/>
<rect x="463.95" y="2320.59" width="27.1" height="5.36" rx="2.68" stroke-width="1.2"/>
<rect x="432.44" y="2328.24" width="27.1" height="5.35" rx="2.68" stroke-width="1.2"/>
<rect x="463.95" y="2328.24" width="27.1" height="5.35" rx="2.68" stroke-width="1.2"/>
<rect x="432.44" y="2335.88" width="27.1" height="5.35" rx="2.68" stroke-width="1.2"/>
<rect x="463.95" y="2335.88" width="27.1" height="5.35" rx="2.68" stroke-width="1.2"/>
<rect x="432.44" y="2343.52" width="27.1" height="5.36" rx="2.68" stroke-width="1.2"/>
<rect x="463.95" y="2343.52" width="27.1" height="5.36" rx="2.68" stroke-width="1.2"/>
<rect x="432.44" y="2351.16" width="27.1" height="5.36" rx="2.68" stroke-width="1.2"/>
<rect x="463.95" y="2351.16" width="27.1" height="5.36" rx="2.68" stroke-width="1.2"/>
<rect x="432.44" y="2358.8" width="27.1" height="5.36" rx="2.68" stroke-width="1.2"/>
<rect x="463.95" y="2358.8" width="27.1" height="5.36" rx="2.68" stroke-width="1.2"/>
<rect x="432.44" y="2366.44" width="27.1" height="5.36" rx="2.68" stroke-width="1.2"/>
<rect x="463.95" y="2366.44" width="27.1" height="5.36" rx="2.68" stroke-width="1.2"/>
<rect x="432.44" y="2374.09" width="27.1" height="5.35" rx="2.68" stroke-width="1.2"/>
<rect x="463.95" y="2374.09" width="27.1" height="5.35" rx="2.68" stroke-width="1.2"/>
<rect x="432.44" y="2381.73" width="27.1" height="5.36" rx="2.68" stroke-width="1.2"/>
<rect x="463.95" y="2381.73" width="27.1" height="5.36" rx="2.68" stroke-width="1.2"/>
<rect x="432.44" y="2389.37" width="27.1" height="5.36" rx="2.68" stroke-width="1.2"/>
<rect x="463.95" y="2389.37" width="27.1" height="5.36" rx="2.68" stroke-width="1.2"/>
<rect x="432.44" y="2397.01" width="27.1" height="5.36" rx="2.68" stroke-width="1.2"/>
<rect x="463.95" y="2397.01" width="27.1" height="5.36" rx="2.68" stroke-width="1.2"/>
<rect x="432.44" y="2404.65" width="27.1" height="5.36" rx="2.68" stroke-width="1.2"/>
<rect x="463.95" y="2404.65" width="27.1" height="5.36" rx="2.68" stroke-width="1.2"/>
<rect x="432.44" y="2412.3" width="27.1" height="5.35" rx="2.68" stroke-width="1.2"/>
<rect x="463.95" y="2412.3" width="27.1" height="5.35" rx="2.68" stroke-width="1.2"/>
<rect x="432.44" y="2419.94" width="27.1" height="5.35" rx="2.68" stroke-width="1.2"/>
<rect x="463.95" y="2419.94" width="27.1" height="5.35" rx="2.68" stroke-width="1.2"/>
<rect x="432.44" y="2427.58" width="27.1" height="5.36" rx="2.68" stroke-width="1.2"/>
<rect x="463.95" y="2427.58" width="27.1" height="5.36" rx="2.68" stroke-width="1.2"/>
<rect x="432.44" y="2435.22" width="27.1" height="5.36" rx="2.68" stroke-width="1.2"/>
<rect x="463.95" y="2435.22" width="27.1" height="5.36" rx="2.68" stroke-width="1.2"/>
<path d="M494.2 2265.84L494.2 2432.86" stroke-dasharray="24 7"/>
<path d="M293.78 2347.14L491.68 2347.14" stroke-dasharray="40 6 12 6"/>
<rect x="505.86" y="2343.05" width="4.73" height="23.95" stroke-width="1.2"/>
<rect x="512.16" y="2345.57" width="4.1" height="18.9" stroke-width="1.2" fill="#111"/>
<rect x="517.52" y="2341.79" width="5.04" height="26.47" stroke-width="1.2" fill="#111"/>
<rect x="522.56" y="2347.14" width="6.94" height="15.76" stroke-width="1.2"/>
<rect x="529.5" y="2349.98" width="12.6" height="10.08" stroke-width="1.2"/>
<rect x="505.86" y="2385.27" width="4.73" height="23.95" stroke-width="1.2"/>
<rect x="512.16" y="2387.79" width="4.1" height="18.91" stroke-width="1.2" fill="#111"/>
<rect x="517.52" y="2384.01" width="5.04" height="26.47" stroke-width="1.2" fill="#111"/>
<rect x="522.56" y="2389.37" width="6.94" height="15.76" stroke-width="1.2"/>
<rect x="529.5" y="2392.21" width="14.18" height="10.08" stroke-width="1.2"/>
<path d="M543.68 2392.21L552.18 2392.21"/>
<path d="M543.68 2402.29L552.18 2402.29"/>
<path d="M548.4 2392.21L548.4 2402.29" stroke-width="1"/>
<text x="556.28" y="2357.23" text-anchor="middle" style="font-size:13px;" transform="rotate(-90 556.28 2357.23)">115.0</text>
<path d="M557.86 2263.32L557.86 2436.01"/>
<path d="M557.86 2263.32L559.76 2270.32L555.96 2270.32Z" fill="#1f1f1f" stroke="none"/>
<path d="M557.86 2436.01L555.96 2429.01L559.76 2429.01Z" fill="#1f1f1f" stroke="none"/>
<text x="531.07" y="2420.88" text-anchor="middle" style="font-size:13px;">2−M6</text>
<path d="M520.04 2421.83L549.98 2421.83"/>
<path d="M549.98 2382.44L549.98 2421.83"/>
<circle cx="417.0" cy="2436.64" r="2.52"/>
<path d="M411.45 2436.64L422.54 2436.64"/>
<path d="M417.0 2431.09L417.0 2442.18"/>
<circle cx="493.89" cy="2436.64" r="3.15"/>
<path d="M489.16 2436.64L498.61 2436.64"/>
<path d="M493.89 2431.91L493.89 2441.37"/>
<path d="M293.78 2436.64L561.64 2436.64"/>
<path d="M33.63 2440.57L115.57 2440.57"/>
<path d="M33.63 2422.61L33.63 2448.45L115.57 2448.45L115.57 2422.61"/>
<path d="M115.57 2448.45L136.05 2448.45"/>
<path d="M153.38 2422.61L153.38 2448.45L293.61 2448.45"/>
<rect x="164.41" y="2445.29" width="54.2" height="3.16"/>
<path d="M293.61 2445.29L264.62 2445.29L264.62 2448.45"/>
<path d="M270.92 2445.29L270.92 2448.45"/>
<path d="M293.61 2468.3L138.57 2468.3"/>
<path d="M154.96 2468.3L154.96 2572.92"/>
<path d="M138.57 2572.92L293.61 2572.92"/>
<text x="139.83" y="2520.92" text-anchor="middle" style="font-size:13px;letter-spacing:-0.5px;" transform="rotate(-90 139.83 2520.92)">68.0</text>
<path d="M143.93 2469.87L143.93 2571.34"/>
<path d="M143.93 2469.87L145.83 2476.87L142.03 2476.87Z" fill="#1f1f1f" stroke="none"/>
<path d="M143.93 2571.34L142.03 2564.34L145.83 2564.34Z" fill="#1f1f1f" stroke="none"/>
<circle cx="204.75" cy="2491.93" r="2.52" fill="#1f1f1f" stroke="none"/>
<circle cx="216.41" cy="2491.93" r="2.52" fill="#1f1f1f" stroke="none"/>
<circle cx="204.75" cy="2548.03" r="2.52" fill="#1f1f1f" stroke="none"/>
<circle cx="216.41" cy="2548.03" r="2.52" fill="#1f1f1f" stroke="none"/>
<path d="M195.92 2491.93L293.61 2491.93" stroke-dasharray="36 6 10 6"/>
<path d="M204.75 2485.63L204.75 2605.38"/>
<path d="M216.41 2485.63L216.41 2592.77"/>
<circle cx="165.99" cy="2548.66" r="2.84"/>
<path d="M160.03 2548.66L171.94 2548.66"/>
<path d="M165.99 2542.7L165.99 2554.61"/>
<circle cx="252.02" cy="2548.66" r="2.84"/>
<path d="M246.06 2548.66L257.97 2548.66"/>
<path d="M252.02 2542.7L252.02 2554.61"/>
<path d="M195.92 2548.03L235.32 2548.03"/>
<text x="235.32" y="2514.94" text-anchor="middle" style="font-size:13px;letter-spacing:-0.5px;">15.5</text>
<path d="M225.86 2517.14L253.28 2517.14"/>
<path d="M248.55 2468.3L248.55 2517.14"/>
<text x="241.62" y="2529.12" text-anchor="middle" style="font-size:13px;letter-spacing:-0.5px;">15.5</text>
<path d="M231.53 2530.38L252.65 2530.38"/>
<path d="M231.53 2530.38L231.53 2572.92"/>
<path d="M216.41 2587.42L293.61 2587.42"/>
<path d="M216.41 2587.42L223.91 2585.22L223.91 2589.62Z" fill="#1f1f1f" stroke="none"/>
<path d="M204.75 2603.17L293.61 2603.17"/>
<path d="M204.75 2603.17L212.25 2600.97L212.25 2605.37Z" fill="#1f1f1f" stroke="none"/>
<path d="M293.78 2448.45L505.86 2448.45"/>
<path d="M293.78 2445.29L390.84 2445.29L390.84 2448.45"/>
<path d="M378.87 2445.29L378.87 2448.45"/>
<rect x="437.48" y="2445.29" width="63.02" height="3.16"/>
<path d="M441.26 2445.29L441.26 2448.45"/>
<path d="M494.2 2445.29L494.2 2448.45"/>
<path d="M293.78 2468.3L507.44 2468.3L507.44 2572.92L293.78 2572.92"/>
<path d="M331.6 2466.72L331.6 2542.35" stroke-dasharray="36 6 10 6"/>
<circle cx="331.6" cy="2548.03" r="2.84"/>
<path d="M325.92 2548.03L337.27 2548.03"/>
<path d="M331.6 2542.35L331.6 2553.7"/>
<path d="M331.6 2553.38L331.6 2572.92"/>
<path d="M293.78 2491.93L469.62 2491.93" stroke-dasharray="36 6 10 6"/>
<circle cx="410.38" cy="2548.03" r="2.84"/>
<path d="M404.42 2548.03L416.33 2548.03"/>
<path d="M410.38 2542.07L410.38 2553.98"/>
<circle cx="493.26" cy="2548.03" r="2.84"/>
<path d="M487.3 2548.03L499.21 2548.03"/>
<path d="M493.26 2542.07L493.26 2553.98"/>
<circle cx="446.3" cy="2491.93" r="2.52" fill="#1f1f1f" stroke="none"/>
<circle cx="457.96" cy="2491.93" r="2.52" fill="#1f1f1f" stroke="none"/>
<circle cx="446.3" cy="2548.03" r="2.52" fill="#1f1f1f" stroke="none"/>
<circle cx="457.96" cy="2548.03" r="2.52" fill="#1f1f1f" stroke="none"/>
<path d="M446.3 2485.63L446.3 2608.53" stroke-dasharray="30 6"/>
<path d="M457.96 2485.63L457.96 2608.53" stroke-dasharray="30 6"/>
<path d="M438.11 2548.03L468.05 2548.03"/>
<text x="413.84" y="2503.59" text-anchor="middle" style="font-size:13px;letter-spacing:-0.5px;">4−M3.5</text>
<path d="M395.57 2504.54L433.38 2504.54L451.34 2485.0"/>
<text x="480.65" y="2506.11" text-anchor="middle" style="font-size:13px;letter-spacing:-0.5px;">4−M3</text>
<path d="M494.2 2510.21L463.95 2510.21L455.44 2485.63"/>
<text x="528.55" y="2472.08" text-anchor="middle" style="font-size:13px;letter-spacing:-0.5px;">30.0</text>
<path d="M508.07 2475.23L543.68 2475.23"/>
<path d="M508.07 2475.23L515.57 2473.03L515.57 2477.43Z" fill="#1f1f1f" stroke="none"/>
<path d="M543.68 2475.23L536.18 2477.43L536.18 2473.03Z" fill="#1f1f1f" stroke="none"/>
<path d="M543.68 2471.45L543.68 2504.54"/>
<rect x="508.38" y="2486.26" width="4.73" height="23.95" stroke-width="1.2"/>
<rect x="514.68" y="2488.78" width="4.1" height="18.91" stroke-width="1.2" fill="#111"/>
<rect x="520.04" y="2485.0" width="5.04" height="26.47" stroke-width="1.2" fill="#111"/>
<rect x="525.08" y="2490.36" width="6.94" height="15.75" stroke-width="1.2"/>
<rect x="532.02" y="2493.19" width="11.66" height="10.09" stroke-width="1.2"/>
<path d="M507.44 2527.23L531.07 2527.23L531.07 2551.18L524.77 2551.18L517.52 2542.35L507.44 2542.35"/>
<path d="M517.52 2527.23L517.52 2542.35"/>
<text x="336.64" y="2584.89" text-anchor="middle" style="font-size:13px;letter-spacing:-0.5px;">199.5</text>
<path d="M293.78 2587.42L457.96 2587.42"/>
<path d="M457.96 2587.42L450.46 2589.62L450.46 2585.22Z" fill="#1f1f1f" stroke="none"/>
<text x="483.17" y="2584.89" text-anchor="middle" style="font-size:13px;letter-spacing:-0.5px;">41.0</text>
<path d="M457.96 2587.42L507.44 2587.42"/>
<path d="M457.96 2587.42L465.46 2585.22L465.46 2589.62Z" fill="#1f1f1f" stroke="none"/>
<path d="M507.44 2587.42L499.94 2589.62L499.94 2585.22Z" fill="#1f1f1f" stroke="none"/>
<text x="327.18" y="2601.6" text-anchor="middle" style="font-size:13px;letter-spacing:-0.5px;">200.0</text>
<path d="M293.78 2603.17L446.3 2603.17"/>
<path d="M446.3 2603.17L438.8 2605.37L438.8 2600.97Z" fill="#1f1f1f" stroke="none"/>
<text x="479.08" y="2601.6" text-anchor="middle" style="font-size:13px;letter-spacing:-0.5px;">50.5</text>
<path d="M446.3 2603.17L507.44 2603.17"/>
<path d="M446.3 2603.17L453.8 2600.97L453.8 2605.37Z" fill="#1f1f1f" stroke="none"/>
<path d="M507.44 2603.17L499.94 2605.37L499.94 2600.97Z" fill="#1f1f1f" stroke="none"/>
</g>
<g id="p10">
<text x="822.31" y="2200.48" text-anchor="middle" style="font-size:11px;">295</text>
<path d="M646.79 2203.63L992.48 2203.63"/>
<path d="M646.79 2203.63L654.29 2201.43L654.29 2205.83Z" fill="#1f1f1f" stroke="none"/>
<path d="M629.45 2208.36L996.26 2208.36"/>
<path d="M644.58 2198.28L644.58 2383.26"/>
<path d="M629.45 2383.26L996.26 2383.26"/>
<text x="632.61" y="2295.02" text-anchor="middle" style="font-size:11px;" transform="rotate(-90 632.61 2295.02)">138</text>
<path d="M636.39 2208.99L636.39 2382.31"/>
<path d="M636.39 2208.99L638.59 2216.49L634.19 2216.49Z" fill="#1f1f1f" stroke="none"/>
<path d="M636.39 2382.31L634.19 2374.81L638.59 2374.81Z" fill="#1f1f1f" stroke="none"/>
<circle cx="654.66" cy="2249.33" r="2.9" fill="#1f1f1f" stroke="none"/>
<path d="M650.38 2249.33L658.95 2249.33" stroke-width="1.2"/>
<path d="M654.66 2245.04L654.66 2253.61" stroke-width="1.2"/>
<text x="667.27" y="2269.18" style="font-size:11.5px;">4−M3</text>
<path d="M654.66 2250.9L666.32 2272.02L689.96 2272.02"/>
<text x="904.56" y="2412.25" text-anchor="middle" style="font-size:11px;">295</text>
<path d="M727.14 2414.77L1073.78 2414.77"/>
<path d="M727.14 2414.77L734.64 2412.57L734.64 2416.97Z" fill="#1f1f1f" stroke="none"/>
<path d="M727.14 2409.41L727.14 2420.13"/>
<path d="M993.91 2203.63L986.41 2205.83L986.41 2201.43Z" fill="#1f1f1f" stroke="none"/>
<path d="M996.11 2198.28L996.11 2383.26"/>
<circle cx="914.18" cy="2221.91" r="2.39" stroke-width="1.45"/>
<circle cx="914.18" cy="2228.62" r="2.39" stroke-width="1.45"/>
<circle cx="914.18" cy="2235.34" r="2.39" stroke-width="1.45"/>
<circle cx="914.18" cy="2242.05" r="2.39" stroke-width="1.45"/>
<circle cx="914.18" cy="2248.76" r="2.39" stroke-width="1.45"/>
<circle cx="914.18" cy="2255.47" r="2.39" stroke-width="1.45"/>
<circle cx="914.18" cy="2262.18" r="2.39" stroke-width="1.45"/>
<circle cx="914.18" cy="2268.9" r="2.39" stroke-width="1.45"/>
<circle cx="914.18" cy="2275.61" r="2.39" stroke-width="1.45"/>
<circle cx="914.18" cy="2282.32" r="2.39" stroke-width="1.45"/>
<circle cx="920.8" cy="2221.91" r="2.39" stroke-width="1.45"/>
<circle cx="920.8" cy="2228.62" r="2.39" stroke-width="1.45"/>
<circle cx="920.8" cy="2235.34" r="2.39" stroke-width="1.45"/>
<circle cx="920.8" cy="2242.05" r="2.39" stroke-width="1.45"/>
<circle cx="920.8" cy="2248.76" r="2.39" stroke-width="1.45"/>
<circle cx="920.8" cy="2255.47" r="2.39" stroke-width="1.45"/>
<circle cx="920.8" cy="2262.18" r="2.39" stroke-width="1.45"/>
<circle cx="920.8" cy="2268.9" r="2.39" stroke-width="1.45"/>
<circle cx="920.8" cy="2275.61" r="2.39" stroke-width="1.45"/>
<circle cx="920.8" cy="2282.32" r="2.39" stroke-width="1.45"/>
<circle cx="927.42" cy="2221.91" r="2.39" stroke-width="1.45"/>
<circle cx="927.42" cy="2228.62" r="2.39" stroke-width="1.45"/>
<circle cx="927.42" cy="2235.34" r="2.39" stroke-width="1.45"/>
<circle cx="927.42" cy="2242.05" r="2.39" stroke-width="1.45"/>
<circle cx="927.42" cy="2248.76" r="2.39" stroke-width="1.45"/>
<circle cx="927.42" cy="2255.47" r="2.39" stroke-width="1.45"/>
<circle cx="927.42" cy="2262.18" r="2.39" stroke-width="1.45"/>
<circle cx="927.42" cy="2268.9" r="2.39" stroke-width="1.45"/>
<circle cx="927.42" cy="2275.61" r="2.39" stroke-width="1.45"/>
<circle cx="927.42" cy="2282.32" r="2.39" stroke-width="1.45"/>
<circle cx="934.03" cy="2221.91" r="2.39" stroke-width="1.45"/>
<circle cx="934.03" cy="2228.62" r="2.39" stroke-width="1.45"/>
<circle cx="934.03" cy="2235.34" r="2.39" stroke-width="1.45"/>
<circle cx="934.03" cy="2242.05" r="2.39" stroke-width="1.45"/>
<circle cx="934.03" cy="2248.76" r="2.39" stroke-width="1.45"/>
<circle cx="934.03" cy="2255.47" r="2.39" stroke-width="1.45"/>
<circle cx="934.03" cy="2262.18" r="2.39" stroke-width="1.45"/>
<circle cx="934.03" cy="2268.9" r="2.39" stroke-width="1.45"/>
<circle cx="934.03" cy="2275.61" r="2.39" stroke-width="1.45"/>
<circle cx="934.03" cy="2282.32" r="2.39" stroke-width="1.45"/>
<circle cx="940.65" cy="2221.91" r="2.39" stroke-width="1.45"/>
<circle cx="940.65" cy="2228.62" r="2.39" stroke-width="1.45"/>
<circle cx="940.65" cy="2235.34" r="2.39" stroke-width="1.45"/>
<circle cx="940.65" cy="2242.05" r="2.39" stroke-width="1.45"/>
<circle cx="940.65" cy="2248.76" r="2.39" stroke-width="1.45"/>
<circle cx="940.65" cy="2255.47" r="2.39" stroke-width="1.45"/>
<circle cx="940.65" cy="2262.18" r="2.39" stroke-width="1.45"/>
<circle cx="940.65" cy="2268.9" r="2.39" stroke-width="1.45"/>
<circle cx="940.65" cy="2275.61" r="2.39" stroke-width="1.45"/>
<circle cx="940.65" cy="2282.32" r="2.39" stroke-width="1.45"/>
<circle cx="947.27" cy="2221.91" r="2.39" stroke-width="1.45"/>
<circle cx="947.27" cy="2228.62" r="2.39" stroke-width="1.45"/>
<circle cx="947.27" cy="2235.34" r="2.39" stroke-width="1.45"/>
<circle cx="947.27" cy="2242.05" r="2.39" stroke-width="1.45"/>
<circle cx="947.27" cy="2248.76" r="2.39" stroke-width="1.45"/>
<circle cx="947.27" cy="2255.47" r="2.39" stroke-width="1.45"/>
<circle cx="947.27" cy="2262.18" r="2.39" stroke-width="1.45"/>
<circle cx="947.27" cy="2268.9" r="2.39" stroke-width="1.45"/>
<circle cx="947.27" cy="2275.61" r="2.39" stroke-width="1.45"/>
<circle cx="947.27" cy="2282.32" r="2.39" stroke-width="1.45"/>
<circle cx="953.89" cy="2221.91" r="2.39" stroke-width="1.45"/>
<circle cx="953.89" cy="2228.62" r="2.39" stroke-width="1.45"/>
<circle cx="953.89" cy="2235.34" r="2.39" stroke-width="1.45"/>
<circle cx="953.89" cy="2242.05" r="2.39" stroke-width="1.45"/>
<circle cx="953.89" cy="2248.76" r="2.39" stroke-width="1.45"/>
<circle cx="953.89" cy="2255.47" r="2.39" stroke-width="1.45"/>
<circle cx="953.89" cy="2262.18" r="2.39" stroke-width="1.45"/>
<circle cx="953.89" cy="2268.9" r="2.39" stroke-width="1.45"/>
<circle cx="953.89" cy="2275.61" r="2.39" stroke-width="1.45"/>
<circle cx="953.89" cy="2282.32" r="2.39" stroke-width="1.45"/>
<circle cx="960.5" cy="2221.91" r="2.39" stroke-width="1.45"/>
<circle cx="960.5" cy="2228.62" r="2.39" stroke-width="1.45"/>
<circle cx="960.5" cy="2235.34" r="2.39" stroke-width="1.45"/>
<circle cx="960.5" cy="2242.05" r="2.39" stroke-width="1.45"/>
<circle cx="960.5" cy="2248.76" r="2.39" stroke-width="1.45"/>
<circle cx="960.5" cy="2255.47" r="2.39" stroke-width="1.45"/>
<circle cx="960.5" cy="2262.18" r="2.39" stroke-width="1.45"/>
<circle cx="960.5" cy="2268.9" r="2.39" stroke-width="1.45"/>
<circle cx="960.5" cy="2275.61" r="2.39" stroke-width="1.45"/>
<circle cx="960.5" cy="2282.32" r="2.39" stroke-width="1.45"/>
<circle cx="967.12" cy="2221.91" r="2.39" stroke-width="1.45"/>
<circle cx="967.12" cy="2228.62" r="2.39" stroke-width="1.45"/>
<circle cx="967.12" cy="2235.34" r="2.39" stroke-width="1.45"/>
<circle cx="967.12" cy="2242.05" r="2.39" stroke-width="1.45"/>
<circle cx="967.12" cy="2248.76" r="2.39" stroke-width="1.45"/>
<circle cx="967.12" cy="2255.47" r="2.39" stroke-width="1.45"/>
<circle cx="967.12" cy="2262.18" r="2.39" stroke-width="1.45"/>
<circle cx="967.12" cy="2268.9" r="2.39" stroke-width="1.45"/>
<circle cx="967.12" cy="2275.61" r="2.39" stroke-width="1.45"/>
<circle cx="967.12" cy="2282.32" r="2.39" stroke-width="1.45"/>
<circle cx="973.74" cy="2221.91" r="2.39" stroke-width="1.45"/>
<circle cx="973.74" cy="2228.62" r="2.39" stroke-width="1.45"/>
<circle cx="973.74" cy="2235.34" r="2.39" stroke-width="1.45"/>
<circle cx="973.74" cy="2242.05" r="2.39" stroke-width="1.45"/>
<circle cx="973.74" cy="2248.76" r="2.39" stroke-width="1.45"/>
<circle cx="973.74" cy="2255.47" r="2.39" stroke-width="1.45"/>
<circle cx="973.74" cy="2262.18" r="2.39" stroke-width="1.45"/>
<circle cx="973.74" cy="2268.9" r="2.39" stroke-width="1.45"/>
<circle cx="973.74" cy="2275.61" r="2.39" stroke-width="1.45"/>
<circle cx="973.74" cy="2282.32" r="2.39" stroke-width="1.45"/>
<circle cx="980.36" cy="2221.91" r="2.39" stroke-width="1.45"/>
<circle cx="980.36" cy="2228.62" r="2.39" stroke-width="1.45"/>
<circle cx="980.36" cy="2235.34" r="2.39" stroke-width="1.45"/>
<circle cx="980.36" cy="2242.05" r="2.39" stroke-width="1.45"/>
<circle cx="980.36" cy="2248.76" r="2.39" stroke-width="1.45"/>
<circle cx="980.36" cy="2255.47" r="2.39" stroke-width="1.45"/>
<circle cx="980.36" cy="2262.18" r="2.39" stroke-width="1.45"/>
<circle cx="980.36" cy="2268.9" r="2.39" stroke-width="1.45"/>
<circle cx="980.36" cy="2275.61" r="2.39" stroke-width="1.45"/>
<circle cx="980.36" cy="2282.32" r="2.39" stroke-width="1.45"/>
<circle cx="989.18" cy="2249.33" r="2.9" fill="#1f1f1f" stroke="none"/>
<path d="M984.89 2249.33L993.47 2249.33" stroke-width="1.2"/>
<path d="M989.18 2245.04L989.18 2253.61" stroke-width="1.2"/>
<text x="1108.61" y="2205.84" text-anchor="middle" style="font-size:11px;">145</text>
<path d="M1025.11 2208.99L1185.19 2208.99"/>
<path d="M1025.11 2208.99L1032.61 2206.79L1032.61 2211.19Z" fill="#1f1f1f" stroke="none"/>
<path d="M1185.19 2208.99L1177.69 2211.19L1177.69 2206.79Z" fill="#1f1f1f" stroke="none"/>
<path d="M1024.47 2202.06L1024.47 2377.9"/>
<path d="M1185.19 2202.06L1185.19 2377.9"/>
<path d="M1008.72 2212.46L1185.19 2212.46"/>
<path d="M1008.72 2377.9L1185.19 2377.9"/>
<text x="1011.55" y="2288.72" text-anchor="middle" style="font-size:11px;" transform="rotate(-90 1011.55 2288.72)">138</text>
<path d="M1015.65 2214.03L1015.65 2376.95"/>
<path d="M1015.65 2214.03L1017.85 2221.53L1013.45 2221.53Z" fill="#1f1f1f" stroke="none"/>
<path d="M1015.65 2376.95L1013.45 2369.45L1017.85 2369.45Z" fill="#1f1f1f" stroke="none"/>
<circle cx="1044.01" cy="2243.66" r="4.41"/>
<circle cx="1044.01" cy="2273.59" r="4.41"/>
<circle cx="1165.34" cy="2243.66" r="4.41"/>
<circle cx="1165.34" cy="2273.59" r="4.41"/>
<rect x="1056.93" y="2235.15" width="95.8" height="51.05" stroke-width="1.7"/>
<circle cx="1039.6" cy="2296.6" r="2.68" stroke-width="1.45"/>
<circle cx="1048.92" cy="2296.6" r="2.68" stroke-width="1.45"/>
<circle cx="1058.24" cy="2296.6" r="2.68" stroke-width="1.45"/>
<circle cx="1067.56" cy="2296.6" r="2.68" stroke-width="1.45"/>
<circle cx="1076.87" cy="2296.6" r="2.68" stroke-width="1.45"/>
<circle cx="1086.19" cy="2296.6" r="2.68" stroke-width="1.45"/>
<circle cx="1093.8" cy="2296.6" r="2.68" stroke-width="1.45"/>
<circle cx="1116.18" cy="2296.6" r="2.68" stroke-width="1.45"/>
<circle cx="1123.47" cy="2296.6" r="2.68" stroke-width="1.45"/>
<circle cx="1132.78" cy="2296.6" r="2.68" stroke-width="1.45"/>
<circle cx="1142.1" cy="2296.6" r="2.68" stroke-width="1.45"/>
<circle cx="1151.42" cy="2296.6" r="2.68" stroke-width="1.45"/>
<circle cx="1160.74" cy="2296.6" r="2.68" stroke-width="1.45"/>
<circle cx="1170.06" cy="2296.6" r="2.68" stroke-width="1.45"/>
<circle cx="1039.6" cy="2304.16" r="2.68" stroke-width="1.45"/>
<circle cx="1048.92" cy="2304.16" r="2.68" stroke-width="1.45"/>
<circle cx="1058.24" cy="2304.16" r="2.68" stroke-width="1.45"/>
<circle cx="1067.56" cy="2304.16" r="2.68" stroke-width="1.45"/>
<circle cx="1076.87" cy="2304.16" r="2.68" stroke-width="1.45"/>
<circle cx="1086.19" cy="2304.16" r="2.68" stroke-width="1.45"/>
<circle cx="1123.47" cy="2304.16" r="2.68" stroke-width="1.45"/>
<circle cx="1132.78" cy="2304.16" r="2.68" stroke-width="1.45"/>
<circle cx="1142.1" cy="2304.16" r="2.68" stroke-width="1.45"/>
<circle cx="1151.42" cy="2304.16" r="2.68" stroke-width="1.45"/>
<circle cx="1160.74" cy="2304.16" r="2.68" stroke-width="1.45"/>
<circle cx="1170.06" cy="2304.16" r="2.68" stroke-width="1.45"/>
<circle cx="1039.6" cy="2311.72" r="2.68" stroke-width="1.45"/>
<circle cx="1048.92" cy="2311.72" r="2.68" stroke-width="1.45"/>
<circle cx="1058.24" cy="2311.72" r="2.68" stroke-width="1.45"/>
<circle cx="1067.56" cy="2311.72" r="2.68" stroke-width="1.45"/>
<circle cx="1076.87" cy="2311.72" r="2.68" stroke-width="1.45"/>
<circle cx="1086.19" cy="2311.72" r="2.68" stroke-width="1.45"/>
<circle cx="1123.47" cy="2311.72" r="2.68" stroke-width="1.45"/>
<circle cx="1132.78" cy="2311.72" r="2.68" stroke-width="1.45"/>
<circle cx="1142.1" cy="2311.72" r="2.68" stroke-width="1.45"/>
<circle cx="1151.42" cy="2311.72" r="2.68" stroke-width="1.45"/>
<circle cx="1160.74" cy="2311.72" r="2.68" stroke-width="1.45"/>
<circle cx="1170.06" cy="2311.72" r="2.68" stroke-width="1.45"/>
<circle cx="1039.6" cy="2319.29" r="2.68" stroke-width="1.45"/>
<circle cx="1048.92" cy="2319.29" r="2.68" stroke-width="1.45"/>
<circle cx="1058.24" cy="2319.29" r="2.68" stroke-width="1.45"/>
<circle cx="1067.56" cy="2319.29" r="2.68" stroke-width="1.45"/>
<circle cx="1076.87" cy="2319.29" r="2.68" stroke-width="1.45"/>
<circle cx="1086.19" cy="2319.29" r="2.68" stroke-width="1.45"/>
<circle cx="1123.47" cy="2319.29" r="2.68" stroke-width="1.45"/>
<circle cx="1132.78" cy="2319.29" r="2.68" stroke-width="1.45"/>
<circle cx="1142.1" cy="2319.29" r="2.68" stroke-width="1.45"/>
<circle cx="1151.42" cy="2319.29" r="2.68" stroke-width="1.45"/>
<circle cx="1160.74" cy="2319.29" r="2.68" stroke-width="1.45"/>
<circle cx="1170.06" cy="2319.29" r="2.68" stroke-width="1.45"/>
<circle cx="1039.6" cy="2326.85" r="2.68" stroke-width="1.45"/>
<circle cx="1048.92" cy="2326.85" r="2.68" stroke-width="1.45"/>
<circle cx="1058.24" cy="2326.85" r="2.68" stroke-width="1.45"/>
<circle cx="1067.56" cy="2326.85" r="2.68" stroke-width="1.45"/>
<circle cx="1076.87" cy="2326.85" r="2.68" stroke-width="1.45"/>
<circle cx="1086.19" cy="2326.85" r="2.68" stroke-width="1.45"/>
<circle cx="1123.47" cy="2326.85" r="2.68" stroke-width="1.45"/>
<circle cx="1132.78" cy="2326.85" r="2.68" stroke-width="1.45"/>
<circle cx="1142.1" cy="2326.85" r="2.68" stroke-width="1.45"/>
<circle cx="1151.42" cy="2326.85" r="2.68" stroke-width="1.45"/>
<circle cx="1160.74" cy="2326.85" r="2.68" stroke-width="1.45"/>
<circle cx="1170.06" cy="2326.85" r="2.68" stroke-width="1.45"/>
<circle cx="1039.6" cy="2334.41" r="2.68" stroke-width="1.45"/>
<circle cx="1048.92" cy="2334.41" r="2.68" stroke-width="1.45"/>
<circle cx="1058.24" cy="2334.41" r="2.68" stroke-width="1.45"/>
<circle cx="1067.56" cy="2334.41" r="2.68" stroke-width="1.45"/>
<circle cx="1076.87" cy="2334.41" r="2.68" stroke-width="1.45"/>
<circle cx="1086.19" cy="2334.41" r="2.68" stroke-width="1.45"/>
<circle cx="1123.47" cy="2334.41" r="2.68" stroke-width="1.45"/>
<circle cx="1132.78" cy="2334.41" r="2.68" stroke-width="1.45"/>
<circle cx="1142.1" cy="2334.41" r="2.68" stroke-width="1.45"/>
<circle cx="1151.42" cy="2334.41" r="2.68" stroke-width="1.45"/>
<circle cx="1160.74" cy="2334.41" r="2.68" stroke-width="1.45"/>
<circle cx="1170.06" cy="2334.41" r="2.68" stroke-width="1.45"/>
<circle cx="1039.6" cy="2341.97" r="2.68" stroke-width="1.45"/>
<circle cx="1048.92" cy="2341.97" r="2.68" stroke-width="1.45"/>
<circle cx="1058.24" cy="2341.97" r="2.68" stroke-width="1.45"/>
<circle cx="1067.56" cy="2341.97" r="2.68" stroke-width="1.45"/>
<circle cx="1076.87" cy="2341.97" r="2.68" stroke-width="1.45"/>
<circle cx="1086.19" cy="2341.97" r="2.68" stroke-width="1.45"/>
<circle cx="1095.51" cy="2341.97" r="2.68" stroke-width="1.45"/>
<circle cx="1104.83" cy="2341.97" r="2.68" stroke-width="1.45"/>
<circle cx="1114.15" cy="2341.97" r="2.68" stroke-width="1.45"/>
<circle cx="1123.47" cy="2341.97" r="2.68" stroke-width="1.45"/>
<circle cx="1132.78" cy="2341.97" r="2.68" stroke-width="1.45"/>
<circle cx="1142.1" cy="2341.97" r="2.68" stroke-width="1.45"/>
<circle cx="1151.42" cy="2341.97" r="2.68" stroke-width="1.45"/>
<circle cx="1160.74" cy="2341.97" r="2.68" stroke-width="1.45"/>
<circle cx="1170.06" cy="2341.97" r="2.68" stroke-width="1.45"/>
<circle cx="1039.6" cy="2349.54" r="2.68" stroke-width="1.45"/>
<circle cx="1048.92" cy="2349.54" r="2.68" stroke-width="1.45"/>
<circle cx="1058.24" cy="2349.54" r="2.68" stroke-width="1.45"/>
<circle cx="1067.56" cy="2349.54" r="2.68" stroke-width="1.45"/>
<circle cx="1076.87" cy="2349.54" r="2.68" stroke-width="1.45"/>
<circle cx="1086.19" cy="2349.54" r="2.68" stroke-width="1.45"/>
<circle cx="1095.51" cy="2349.54" r="2.68" stroke-width="1.45"/>
<circle cx="1104.83" cy="2349.54" r="2.68" stroke-width="1.45"/>
<circle cx="1114.15" cy="2349.54" r="2.68" stroke-width="1.45"/>
<circle cx="1123.47" cy="2349.54" r="2.68" stroke-width="1.45"/>
<circle cx="1132.78" cy="2349.54" r="2.68" stroke-width="1.45"/>
<circle cx="1142.1" cy="2349.54" r="2.68" stroke-width="1.45"/>
<circle cx="1151.42" cy="2349.54" r="2.68" stroke-width="1.45"/>
<circle cx="1160.74" cy="2349.54" r="2.68" stroke-width="1.45"/>
<circle cx="1170.06" cy="2349.54" r="2.68" stroke-width="1.45"/>
<rect x="1097.9" y="2295.65" width="13.86" height="7.88"/>
<rect x="1092.23" y="2309.2" width="25.21" height="27.42"/>
<path d="M1075.84 2414.77L1068.34 2416.97L1068.34 2412.57Z" fill="#1f1f1f" stroke="none"/>
<path d="M1078.05 2409.41L1078.05 2420.13"/>
<path d="M710.88 2419.85L1078.38 2419.85"/>
<path d="M726.32 2407.94L726.32 2615.29"/>
<path d="M1078.38 2407.94L1078.38 2615.29"/>
<path d="M710.88 2615.29L1078.38 2615.29"/>
<text x="715.29" y="2516.03" text-anchor="middle" style="font-size:11px;" transform="rotate(-90 715.29 2516.03)">145</text>
<path d="M718.82 2421.18L718.82 2613.97"/>
<path d="M718.82 2421.18L720.52 2427.18L717.12 2427.18Z" fill="#1f1f1f" stroke="none"/>
<path d="M718.82 2613.97L717.12 2607.97L720.52 2607.97Z" fill="#1f1f1f" stroke="none"/>
<circle cx="804.85" cy="2460.0" r="3.04" fill="#1f1f1f" stroke="none"/>
<path d="M800.35 2460.0L809.35 2460.0" stroke-width="1.2"/>
<path d="M804.85 2455.5L804.85 2464.5" stroke-width="1.2"/>
<circle cx="804.85" cy="2576.91" r="3.04" fill="#1f1f1f" stroke="none"/>
<path d="M800.35 2576.91L809.35 2576.91" stroke-width="1.2"/>
<path d="M804.85 2572.41L804.85 2581.41" stroke-width="1.2"/>
<circle cx="968.09" cy="2517.35" r="3.04" fill="#1f1f1f" stroke="none"/>
<path d="M963.59 2517.35L972.59 2517.35" stroke-width="1.2"/>
<path d="M968.09 2512.85L968.09 2521.85" stroke-width="1.2"/>
<path d="M804.85 2421.18L804.85 2456.47"/>
<path d="M804.85 2421.18L806.35 2426.18L803.35 2426.18Z" fill="#1f1f1f" stroke="none"/>
<path d="M804.85 2456.47L803.35 2451.47L806.35 2451.47Z" fill="#1f1f1f" stroke="none"/>
<text x="802.21" y="2438.38" text-anchor="middle" style="font-size:11px;" transform="rotate(-90 802.21 2438.38)">36</text>
<path d="M727.65 2460.0L801.32 2460.0"/>
<path d="M727.65 2460.0L732.65 2458.5L732.65 2461.5Z" fill="#1f1f1f" stroke="none"/>
<path d="M801.32 2460.0L796.32 2461.5L796.32 2458.5Z" fill="#1f1f1f" stroke="none"/>
<text x="766.91" y="2458.24" text-anchor="middle" style="font-size:11px;">71</text>
<text x="817.65" y="2480.29" style="font-size:11.5px;">4−M3</text>
<path d="M804.85 2461.76L815.88 2482.94L841.03 2482.94"/>
<path d="M968.09 2421.18L968.09 2513.82"/>
<path d="M968.09 2421.18L969.59 2426.18L966.59 2426.18Z" fill="#1f1f1f" stroke="none"/>
<path d="M968.09 2513.82L966.59 2508.82L969.59 2508.82Z" fill="#1f1f1f" stroke="none"/>
<text x="966.32" y="2472.79" text-anchor="middle" style="font-size:11px;" transform="rotate(-90 966.32 2472.79)">71</text>
<path d="M972.06 2517.35L1076.18 2517.35"/>
<path d="M972.06 2517.35L977.06 2515.85L977.06 2518.85Z" fill="#1f1f1f" stroke="none"/>
<path d="M1076.18 2517.35L1071.18 2518.85L1071.18 2515.85Z" fill="#1f1f1f" stroke="none"/>
<text x="1026.32" y="2514.71" text-anchor="middle" style="font-size:11px;">71</text>
<path d="M727.65 2576.91L801.32 2576.91"/>
<path d="M727.65 2576.91L732.65 2575.41L732.65 2578.41Z" fill="#1f1f1f" stroke="none"/>
<path d="M801.32 2576.91L796.32 2578.41L796.32 2575.41Z" fill="#1f1f1f" stroke="none"/>
<text x="766.91" y="2575.15" text-anchor="middle" style="font-size:11px;">71</text>
<path d="M804.85 2580.88L804.85 2613.97"/>
<path d="M804.85 2580.88L806.35 2585.88L803.35 2585.88Z" fill="#1f1f1f" stroke="none"/>
<path d="M804.85 2613.97L803.35 2608.97L806.35 2608.97Z" fill="#1f1f1f" stroke="none"/>
<text x="802.21" y="2597.21" text-anchor="middle" style="font-size:11px;" transform="rotate(-90 802.21 2597.21)">36</text>
<text x="817.65" y="2596.76" style="font-size:11.5px;">4−M3</text>
<path d="M804.85 2578.68L815.88 2599.41L841.03 2599.41"/>
</g>
<g id="p11">
<text x="313.68" y="2707.63" text-anchor="middle" style="font-size:11px;">405</text>
<path d="M95.71 2711.84L528.49 2711.84"/>
<path d="M95.71 2711.84L103.21 2709.64L103.21 2714.04Z" fill="#1f1f1f" stroke="none"/>
<path d="M528.49 2711.84L520.99 2714.04L520.99 2709.64Z" fill="#1f1f1f" stroke="none"/>
<path d="M73.13 2719.19L530.06 2719.19"/>
<path d="M94.14 2703.96L94.14 2961.31"/>
<path d="M530.06 2703.96L530.06 2961.31"/>
<text x="81.01" y="2844.19" text-anchor="middle" style="font-size:11px;" transform="rotate(-90 81.01 2844.19)">223</text>
<circle cx="108.32" cy="2775.91" r="2.63" stroke-width="1.2"/>
<circle cx="108.32" cy="2775.91" r="1.58" fill="#1f1f1f" stroke="none"/>
<path d="M102.02 2775.91L114.62 2775.91" stroke-width="1.2"/>
<path d="M108.32 2769.61L108.32 2782.21" stroke-width="1.2"/>
<text x="126.7" y="2802.7" style="font-size:16px;letter-spacing:1px;">4−M3</text>
<path d="M108.32 2777.49L124.6 2806.9L158.74 2806.9"/>
<circle cx="401.91" cy="2748.08" r="3.31" stroke-width="1.4"/>
<circle cx="401.91" cy="2757.42" r="3.31" stroke-width="1.4"/>
<circle cx="401.91" cy="2766.77" r="3.31" stroke-width="1.4"/>
<circle cx="401.91" cy="2776.12" r="3.31" stroke-width="1.4"/>
<circle cx="401.91" cy="2785.47" r="3.31" stroke-width="1.4"/>
<circle cx="401.91" cy="2794.82" r="3.31" stroke-width="1.4"/>
<circle cx="401.91" cy="2804.17" r="3.31" stroke-width="1.4"/>
<circle cx="401.91" cy="2813.52" r="3.31" stroke-width="1.4"/>
<circle cx="401.91" cy="2822.87" r="3.31" stroke-width="1.4"/>
<circle cx="401.91" cy="2832.21" r="3.31" stroke-width="1.4"/>
<circle cx="411.1" cy="2748.08" r="3.31" stroke-width="1.4"/>
<circle cx="411.1" cy="2757.42" r="3.31" stroke-width="1.4"/>
<circle cx="411.1" cy="2766.77" r="3.31" stroke-width="1.4"/>
<circle cx="411.1" cy="2776.12" r="3.31" stroke-width="1.4"/>
<circle cx="411.1" cy="2785.47" r="3.31" stroke-width="1.4"/>
<circle cx="411.1" cy="2794.82" r="3.31" stroke-width="1.4"/>
<circle cx="411.1" cy="2804.17" r="3.31" stroke-width="1.4"/>
<circle cx="411.1" cy="2813.52" r="3.31" stroke-width="1.4"/>
<circle cx="411.1" cy="2822.87" r="3.31" stroke-width="1.4"/>
<circle cx="411.1" cy="2832.21" r="3.31" stroke-width="1.4"/>
<circle cx="420.29" cy="2748.08" r="3.31" stroke-width="1.4"/>
<circle cx="420.29" cy="2757.42" r="3.31" stroke-width="1.4"/>
<circle cx="420.29" cy="2766.77" r="3.31" stroke-width="1.4"/>
<circle cx="420.29" cy="2776.12" r="3.31" stroke-width="1.4"/>
<circle cx="420.29" cy="2785.47" r="3.31" stroke-width="1.4"/>
<circle cx="420.29" cy="2794.82" r="3.31" stroke-width="1.4"/>
<circle cx="420.29" cy="2804.17" r="3.31" stroke-width="1.4"/>
<circle cx="420.29" cy="2813.52" r="3.31" stroke-width="1.4"/>
<circle cx="420.29" cy="2822.87" r="3.31" stroke-width="1.4"/>
<circle cx="420.29" cy="2832.21" r="3.31" stroke-width="1.4"/>
<circle cx="429.49" cy="2748.08" r="3.31" stroke-width="1.4"/>
<circle cx="429.49" cy="2757.42" r="3.31" stroke-width="1.4"/>
<circle cx="429.49" cy="2766.77" r="3.31" stroke-width="1.4"/>
<circle cx="429.49" cy="2776.12" r="3.31" stroke-width="1.4"/>
<circle cx="429.49" cy="2785.47" r="3.31" stroke-width="1.4"/>
<circle cx="429.49" cy="2794.82" r="3.31" stroke-width="1.4"/>
<circle cx="429.49" cy="2804.17" r="3.31" stroke-width="1.4"/>
<circle cx="429.49" cy="2813.52" r="3.31" stroke-width="1.4"/>
<circle cx="429.49" cy="2822.87" r="3.31" stroke-width="1.4"/>
<circle cx="429.49" cy="2832.21" r="3.31" stroke-width="1.4"/>
<circle cx="438.68" cy="2748.08" r="3.31" stroke-width="1.4"/>
<circle cx="438.68" cy="2757.42" r="3.31" stroke-width="1.4"/>
<circle cx="438.68" cy="2766.77" r="3.31" stroke-width="1.4"/>
<circle cx="438.68" cy="2776.12" r="3.31" stroke-width="1.4"/>
<circle cx="438.68" cy="2785.47" r="3.31" stroke-width="1.4"/>
<circle cx="438.68" cy="2794.82" r="3.31" stroke-width="1.4"/>
<circle cx="438.68" cy="2804.17" r="3.31" stroke-width="1.4"/>
<circle cx="438.68" cy="2813.52" r="3.31" stroke-width="1.4"/>
<circle cx="438.68" cy="2822.87" r="3.31" stroke-width="1.4"/>
<circle cx="438.68" cy="2832.21" r="3.31" stroke-width="1.4"/>
<circle cx="447.87" cy="2748.08" r="3.31" stroke-width="1.4"/>
<circle cx="447.87" cy="2757.42" r="3.31" stroke-width="1.4"/>
<circle cx="447.87" cy="2766.77" r="3.31" stroke-width="1.4"/>
<circle cx="447.87" cy="2776.12" r="3.31" stroke-width="1.4"/>
<circle cx="447.87" cy="2785.47" r="3.31" stroke-width="1.4"/>
<circle cx="447.87" cy="2794.82" r="3.31" stroke-width="1.4"/>
<circle cx="447.87" cy="2804.17" r="3.31" stroke-width="1.4"/>
<circle cx="447.87" cy="2813.52" r="3.31" stroke-width="1.4"/>
<circle cx="447.87" cy="2822.87" r="3.31" stroke-width="1.4"/>
<circle cx="447.87" cy="2832.21" r="3.31" stroke-width="1.4"/>
<circle cx="457.06" cy="2748.08" r="3.31" stroke-width="1.4"/>
<circle cx="457.06" cy="2757.42" r="3.31" stroke-width="1.4"/>
<circle cx="457.06" cy="2766.77" r="3.31" stroke-width="1.4"/>
<circle cx="457.06" cy="2776.12" r="3.31" stroke-width="1.4"/>
<circle cx="457.06" cy="2785.47" r="3.31" stroke-width="1.4"/>
<circle cx="457.06" cy="2794.82" r="3.31" stroke-width="1.4"/>
<circle cx="457.06" cy="2804.17" r="3.31" stroke-width="1.4"/>
<circle cx="457.06" cy="2813.52" r="3.31" stroke-width="1.4"/>
<circle cx="457.06" cy="2822.87" r="3.31" stroke-width="1.4"/>
<circle cx="457.06" cy="2832.21" r="3.31" stroke-width="1.4"/>
<circle cx="466.25" cy="2748.08" r="3.31" stroke-width="1.4"/>
<circle cx="466.25" cy="2757.42" r="3.31" stroke-width="1.4"/>
<circle cx="466.25" cy="2766.77" r="3.31" stroke-width="1.4"/>
<circle cx="466.25" cy="2776.12" r="3.31" stroke-width="1.4"/>
<circle cx="466.25" cy="2785.47" r="3.31" stroke-width="1.4"/>
<circle cx="466.25" cy="2794.82" r="3.31" stroke-width="1.4"/>
<circle cx="466.25" cy="2804.17" r="3.31" stroke-width="1.4"/>
<circle cx="466.25" cy="2813.52" r="3.31" stroke-width="1.4"/>
<circle cx="466.25" cy="2822.87" r="3.31" stroke-width="1.4"/>
<circle cx="466.25" cy="2832.21" r="3.31" stroke-width="1.4"/>
<circle cx="475.44" cy="2748.08" r="3.31" stroke-width="1.4"/>
<circle cx="475.44" cy="2757.42" r="3.31" stroke-width="1.4"/>
<circle cx="475.44" cy="2766.77" r="3.31" stroke-width="1.4"/>
<circle cx="475.44" cy="2776.12" r="3.31" stroke-width="1.4"/>
<circle cx="475.44" cy="2785.47" r="3.31" stroke-width="1.4"/>
<circle cx="475.44" cy="2794.82" r="3.31" stroke-width="1.4"/>
<circle cx="475.44" cy="2804.17" r="3.31" stroke-width="1.4"/>
<circle cx="475.44" cy="2813.52" r="3.31" stroke-width="1.4"/>
<circle cx="475.44" cy="2822.87" r="3.31" stroke-width="1.4"/>
<circle cx="475.44" cy="2832.21" r="3.31" stroke-width="1.4"/>
<circle cx="484.63" cy="2748.08" r="3.31" stroke-width="1.4"/>
<circle cx="484.63" cy="2757.42" r="3.31" stroke-width="1.4"/>
<circle cx="484.63" cy="2766.77" r="3.31" stroke-width="1.4"/>
<circle cx="484.63" cy="2776.12" r="3.31" stroke-width="1.4"/>
<circle cx="484.63" cy="2785.47" r="3.31" stroke-width="1.4"/>
<circle cx="484.63" cy="2794.82" r="3.31" stroke-width="1.4"/>
<circle cx="484.63" cy="2804.17" r="3.31" stroke-width="1.4"/>
<circle cx="484.63" cy="2813.52" r="3.31" stroke-width="1.4"/>
<circle cx="484.63" cy="2822.87" r="3.31" stroke-width="1.4"/>
<circle cx="484.63" cy="2832.21" r="3.31" stroke-width="1.4"/>
<circle cx="493.82" cy="2748.08" r="3.31" stroke-width="1.4"/>
<circle cx="493.82" cy="2757.42" r="3.31" stroke-width="1.4"/>
<circle cx="493.82" cy="2766.77" r="3.31" stroke-width="1.4"/>
<circle cx="493.82" cy="2776.12" r="3.31" stroke-width="1.4"/>
<circle cx="493.82" cy="2785.47" r="3.31" stroke-width="1.4"/>
<circle cx="493.82" cy="2794.82" r="3.31" stroke-width="1.4"/>
<circle cx="493.82" cy="2804.17" r="3.31" stroke-width="1.4"/>
<circle cx="493.82" cy="2813.52" r="3.31" stroke-width="1.4"/>
<circle cx="493.82" cy="2822.87" r="3.31" stroke-width="1.4"/>
<circle cx="493.82" cy="2832.21" r="3.31" stroke-width="1.4"/>
<circle cx="506.43" cy="2785.37" r="2.63" stroke-width="1.2"/>
<circle cx="506.43" cy="2785.37" r="1.58" fill="#1f1f1f" stroke="none"/>
<path d="M500.13 2785.37L512.73 2785.37" stroke-width="1.2"/>
<path d="M506.43 2779.06L506.43 2791.67" stroke-width="1.2"/>
<path d="M73.13 2961.49L530.06 2961.49"/>
<path d="M83.63 2720.42L83.63 2959.39"/>
<path d="M83.63 2720.42L85.83 2727.92L81.43 2727.92Z" fill="#1f1f1f" stroke="none"/>
<path d="M83.63 2959.39L81.43 2951.89L85.83 2951.89Z" fill="#1f1f1f" stroke="none"/>
<text x="300.55" y="2977.77" text-anchor="middle" style="font-size:11px;">223</text>
<path d="M184.47 2981.97L417.14 2981.97"/>
<path d="M184.47 2981.97L191.97 2979.77L191.97 2984.17Z" fill="#1f1f1f" stroke="none"/>
<path d="M417.14 2981.97L409.64 2984.17L409.64 2979.77Z" fill="#1f1f1f" stroke="none"/>
<path d="M183.42 2972.52L183.42 3156.34"/>
<path d="M418.19 2972.52L418.19 3156.34"/>
<path d="M159.79 2988.28L418.19 2988.28"/>
<path d="M159.79 3156.34L418.19 3156.34"/>
<text x="166.62" y="3071.26" text-anchor="middle" style="font-size:11px;" transform="rotate(-90 166.62 3071.26)">155</text>
<path d="M170.29 2990.9L170.29 3154.77"/>
<path d="M170.29 2990.9L172.49 2998.4L168.09 2998.4Z" fill="#1f1f1f" stroke="none"/>
<path d="M170.29 3154.77L168.09 3147.27L172.49 3147.27Z" fill="#1f1f1f" stroke="none"/>
<rect x="200.23" y="2999.83" width="89.81" height="56.72" stroke-width="1.7"/>
<rect x="301.07" y="2999.83" width="89.81" height="56.72" stroke-width="1.7"/>
<circle cx="400.34" cy="3019.79" r="5.25"/>
<circle cx="202.86" cy="3069.16" r="3.05" stroke-width="0.9"/>
<circle cx="212.15" cy="3069.16" r="3.05" stroke-width="0.9"/>
<circle cx="221.45" cy="3069.16" r="3.05" stroke-width="0.9"/>
<circle cx="230.75" cy="3069.16" r="3.05" stroke-width="0.9"/>
<circle cx="240.04" cy="3069.16" r="3.05" stroke-width="0.9"/>
<circle cx="249.34" cy="3069.16" r="3.05" stroke-width="0.9"/>
<circle cx="258.63" cy="3069.16" r="3.05" stroke-width="0.9"/>
<circle cx="267.93" cy="3069.16" r="3.05" stroke-width="0.9"/>
<circle cx="277.23" cy="3069.16" r="3.05" stroke-width="0.9"/>
<circle cx="286.52" cy="3069.16" r="3.05" stroke-width="0.9"/>
<circle cx="295.82" cy="3069.16" r="3.05" stroke-width="0.9"/>
<circle cx="305.12" cy="3069.16" r="3.05" stroke-width="0.9"/>
<circle cx="314.41" cy="3069.16" r="3.05" stroke-width="0.9"/>
<circle cx="323.71" cy="3069.16" r="3.05" stroke-width="0.9"/>
<circle cx="333.0" cy="3069.16" r="3.05" stroke-width="0.9"/>
<circle cx="342.3" cy="3069.16" r="3.05" stroke-width="0.9"/>
<circle cx="351.6" cy="3069.16" r="3.05" stroke-width="0.9"/>
<circle cx="360.89" cy="3069.16" r="3.05" stroke-width="0.9"/>
<circle cx="370.19" cy="3069.16" r="3.05" stroke-width="0.9"/>
<circle cx="379.49" cy="3069.16" r="3.05" stroke-width="0.9"/>
<circle cx="388.78" cy="3069.16" r="3.05" stroke-width="0.9"/>
<circle cx="202.86" cy="3078.14" r="3.05" stroke-width="0.9"/>
<circle cx="212.15" cy="3078.14" r="3.05" stroke-width="0.9"/>
<circle cx="221.45" cy="3078.14" r="3.05" stroke-width="0.9"/>
<circle cx="230.75" cy="3078.14" r="3.05" stroke-width="0.9"/>
<circle cx="240.04" cy="3078.14" r="3.05" stroke-width="0.9"/>
<circle cx="249.34" cy="3078.14" r="3.05" stroke-width="0.9"/>
<circle cx="258.63" cy="3078.14" r="3.05" stroke-width="0.9"/>
<circle cx="267.93" cy="3078.14" r="3.05" stroke-width="0.9"/>
<circle cx="277.23" cy="3078.14" r="3.05" stroke-width="0.9"/>
<circle cx="314.41" cy="3078.14" r="3.05" stroke-width="0.9"/>
<circle cx="323.71" cy="3078.14" r="3.05" stroke-width="0.9"/>
<circle cx="333.0" cy="3078.14" r="3.05" stroke-width="0.9"/>
<circle cx="342.3" cy="3078.14" r="3.05" stroke-width="0.9"/>
<circle cx="351.6" cy="3078.14" r="3.05" stroke-width="0.9"/>
<circle cx="360.89" cy="3078.14" r="3.05" stroke-width="0.9"/>
<circle cx="370.19" cy="3078.14" r="3.05" stroke-width="0.9"/>
<circle cx="379.49" cy="3078.14" r="3.05" stroke-width="0.9"/>
<circle cx="388.78" cy="3078.14" r="3.05" stroke-width="0.9"/>
<circle cx="202.86" cy="3087.12" r="3.05" stroke-width="0.9"/>
<circle cx="212.15" cy="3087.12" r="3.05" stroke-width="0.9"/>
<circle cx="221.45" cy="3087.12" r="3.05" stroke-width="0.9"/>
<circle cx="230.75" cy="3087.12" r="3.05" stroke-width="0.9"/>
<circle cx="240.04" cy="3087.12" r="3.05" stroke-width="0.9"/>
<circle cx="249.34" cy="3087.12" r="3.05" stroke-width="0.9"/>
<circle cx="258.63" cy="3087.12" r="3.05" stroke-width="0.9"/>
<circle cx="267.93" cy="3087.12" r="3.05" stroke-width="0.9"/>
<circle cx="277.23" cy="3087.12" r="3.05" stroke-width="0.9"/>
<circle cx="314.41" cy="3087.12" r="3.05" stroke-width="0.9"/>
<circle cx="323.71" cy="3087.12" r="3.05" stroke-width="0.9"/>
<circle cx="333.0" cy="3087.12" r="3.05" stroke-width="0.9"/>
<circle cx="342.3" cy="3087.12" r="3.05" stroke-width="0.9"/>
<circle cx="351.6" cy="3087.12" r="3.05" stroke-width="0.9"/>
<circle cx="360.89" cy="3087.12" r="3.05" stroke-width="0.9"/>
<circle cx="370.19" cy="3087.12" r="3.05" stroke-width="0.9"/>
<circle cx="379.49" cy="3087.12" r="3.05" stroke-width="0.9"/>
<circle cx="388.78" cy="3087.12" r="3.05" stroke-width="0.9"/>
<circle cx="202.86" cy="3096.1" r="3.05" stroke-width="0.9"/>
<circle cx="212.15" cy="3096.1" r="3.05" stroke-width="0.9"/>
<circle cx="221.45" cy="3096.1" r="3.05" stroke-width="0.9"/>
<circle cx="230.75" cy="3096.1" r="3.05" stroke-width="0.9"/>
<circle cx="240.04" cy="3096.1" r="3.05" stroke-width="0.9"/>
<circle cx="249.34" cy="3096.1" r="3.05" stroke-width="0.9"/>
<circle cx="258.63" cy="3096.1" r="3.05" stroke-width="0.9"/>
<circle cx="267.93" cy="3096.1" r="3.05" stroke-width="0.9"/>
<circle cx="277.23" cy="3096.1" r="3.05" stroke-width="0.9"/>
<circle cx="314.41" cy="3096.1" r="3.05" stroke-width="0.9"/>
<circle cx="323.71" cy="3096.1" r="3.05" stroke-width="0.9"/>
<circle cx="333.0" cy="3096.1" r="3.05" stroke-width="0.9"/>
<circle cx="342.3" cy="3096.1" r="3.05" stroke-width="0.9"/>
<circle cx="351.6" cy="3096.1" r="3.05" stroke-width="0.9"/>
<circle cx="360.89" cy="3096.1" r="3.05" stroke-width="0.9"/>
<circle cx="370.19" cy="3096.1" r="3.05" stroke-width="0.9"/>
<circle cx="379.49" cy="3096.1" r="3.05" stroke-width="0.9"/>
<circle cx="388.78" cy="3096.1" r="3.05" stroke-width="0.9"/>
<circle cx="202.86" cy="3105.08" r="3.05" stroke-width="0.9"/>
<circle cx="212.15" cy="3105.08" r="3.05" stroke-width="0.9"/>
<circle cx="221.45" cy="3105.08" r="3.05" stroke-width="0.9"/>
<circle cx="230.75" cy="3105.08" r="3.05" stroke-width="0.9"/>
<circle cx="240.04" cy="3105.08" r="3.05" stroke-width="0.9"/>
<circle cx="249.34" cy="3105.08" r="3.05" stroke-width="0.9"/>
<circle cx="258.63" cy="3105.08" r="3.05" stroke-width="0.9"/>
<circle cx="267.93" cy="3105.08" r="3.05" stroke-width="0.9"/>
<circle cx="277.23" cy="3105.08" r="3.05" stroke-width="0.9"/>
<circle cx="314.41" cy="3105.08" r="3.05" stroke-width="0.9"/>
<circle cx="323.71" cy="3105.08" r="3.05" stroke-width="0.9"/>
<circle cx="333.0" cy="3105.08" r="3.05" stroke-width="0.9"/>
<circle cx="342.3" cy="3105.08" r="3.05" stroke-width="0.9"/>
<circle cx="351.6" cy="3105.08" r="3.05" stroke-width="0.9"/>
<circle cx="360.89" cy="3105.08" r="3.05" stroke-width="0.9"/>
<circle cx="370.19" cy="3105.08" r="3.05" stroke-width="0.9"/>
<circle cx="379.49" cy="3105.08" r="3.05" stroke-width="0.9"/>
<circle cx="388.78" cy="3105.08" r="3.05" stroke-width="0.9"/>
<circle cx="202.86" cy="3114.07" r="3.05" stroke-width="0.9"/>
<circle cx="212.15" cy="3114.07" r="3.05" stroke-width="0.9"/>
<circle cx="221.45" cy="3114.07" r="3.05" stroke-width="0.9"/>
<circle cx="230.75" cy="3114.07" r="3.05" stroke-width="0.9"/>
<circle cx="240.04" cy="3114.07" r="3.05" stroke-width="0.9"/>
<circle cx="249.34" cy="3114.07" r="3.05" stroke-width="0.9"/>
<circle cx="258.63" cy="3114.07" r="3.05" stroke-width="0.9"/>
<circle cx="267.93" cy="3114.07" r="3.05" stroke-width="0.9"/>
<circle cx="277.23" cy="3114.07" r="3.05" stroke-width="0.9"/>
<circle cx="314.41" cy="3114.07" r="3.05" stroke-width="0.9"/>
<circle cx="323.71" cy="3114.07" r="3.05" stroke-width="0.9"/>
<circle cx="333.0" cy="3114.07" r="3.05" stroke-width="0.9"/>
<circle cx="342.3" cy="3114.07" r="3.05" stroke-width="0.9"/>
<circle cx="351.6" cy="3114.07" r="3.05" stroke-width="0.9"/>
<circle cx="360.89" cy="3114.07" r="3.05" stroke-width="0.9"/>
<circle cx="370.19" cy="3114.07" r="3.05" stroke-width="0.9"/>
<circle cx="379.49" cy="3114.07" r="3.05" stroke-width="0.9"/>
<circle cx="388.78" cy="3114.07" r="3.05" stroke-width="0.9"/>
<circle cx="202.86" cy="3123.05" r="3.05" stroke-width="0.9"/>
<circle cx="212.15" cy="3123.05" r="3.05" stroke-width="0.9"/>
<circle cx="221.45" cy="3123.05" r="3.05" stroke-width="0.9"/>
<circle cx="230.75" cy="3123.05" r="3.05" stroke-width="0.9"/>
<circle cx="240.04" cy="3123.05" r="3.05" stroke-width="0.9"/>
<circle cx="249.34" cy="3123.05" r="3.05" stroke-width="0.9"/>
<circle cx="258.63" cy="3123.05" r="3.05" stroke-width="0.9"/>
<circle cx="267.93" cy="3123.05" r="3.05" stroke-width="0.9"/>
<circle cx="277.23" cy="3123.05" r="3.05" stroke-width="0.9"/>
<circle cx="314.41" cy="3123.05" r="3.05" stroke-width="0.9"/>
<circle cx="323.71" cy="3123.05" r="3.05" stroke-width="0.9"/>
<circle cx="333.0" cy="3123.05" r="3.05" stroke-width="0.9"/>
<circle cx="342.3" cy="3123.05" r="3.05" stroke-width="0.9"/>
<circle cx="351.6" cy="3123.05" r="3.05" stroke-width="0.9"/>
<circle cx="360.89" cy="3123.05" r="3.05" stroke-width="0.9"/>
<circle cx="370.19" cy="3123.05" r="3.05" stroke-width="0.9"/>
<circle cx="379.49" cy="3123.05" r="3.05" stroke-width="0.9"/>
<circle cx="388.78" cy="3123.05" r="3.05" stroke-width="0.9"/>
<circle cx="202.86" cy="3132.03" r="3.05" stroke-width="0.9"/>
<circle cx="212.15" cy="3132.03" r="3.05" stroke-width="0.9"/>
<circle cx="221.45" cy="3132.03" r="3.05" stroke-width="0.9"/>
<circle cx="230.75" cy="3132.03" r="3.05" stroke-width="0.9"/>
<circle cx="240.04" cy="3132.03" r="3.05" stroke-width="0.9"/>
<circle cx="249.34" cy="3132.03" r="3.05" stroke-width="0.9"/>
<circle cx="258.63" cy="3132.03" r="3.05" stroke-width="0.9"/>
<circle cx="267.93" cy="3132.03" r="3.05" stroke-width="0.9"/>
<circle cx="277.23" cy="3132.03" r="3.05" stroke-width="0.9"/>
<circle cx="286.52" cy="3132.03" r="3.05" stroke-width="0.9"/>
<circle cx="295.82" cy="3132.03" r="3.05" stroke-width="0.9"/>
<circle cx="305.12" cy="3132.03" r="3.05" stroke-width="0.9"/>
<circle cx="314.41" cy="3132.03" r="3.05" stroke-width="0.9"/>
<circle cx="323.71" cy="3132.03" r="3.05" stroke-width="0.9"/>
<circle cx="333.0" cy="3132.03" r="3.05" stroke-width="0.9"/>
<circle cx="342.3" cy="3132.03" r="3.05" stroke-width="0.9"/>
<circle cx="351.6" cy="3132.03" r="3.05" stroke-width="0.9"/>
<circle cx="360.89" cy="3132.03" r="3.05" stroke-width="0.9"/>
<circle cx="370.19" cy="3132.03" r="3.05" stroke-width="0.9"/>
<circle cx="379.49" cy="3132.03" r="3.05" stroke-width="0.9"/>
<circle cx="388.78" cy="3132.03" r="3.05" stroke-width="0.9"/>
<circle cx="202.86" cy="3141.01" r="3.05" stroke-width="0.9"/>
<circle cx="212.15" cy="3141.01" r="3.05" stroke-width="0.9"/>
<circle cx="221.45" cy="3141.01" r="3.05" stroke-width="0.9"/>
<circle cx="230.75" cy="3141.01" r="3.05" stroke-width="0.9"/>
<circle cx="240.04" cy="3141.01" r="3.05" stroke-width="0.9"/>
<circle cx="249.34" cy="3141.01" r="3.05" stroke-width="0.9"/>
<circle cx="258.63" cy="3141.01" r="3.05" stroke-width="0.9"/>
<circle cx="267.93" cy="3141.01" r="3.05" stroke-width="0.9"/>
<circle cx="277.23" cy="3141.01" r="3.05" stroke-width="0.9"/>
<circle cx="286.52" cy="3141.01" r="3.05" stroke-width="0.9"/>
<circle cx="295.82" cy="3141.01" r="3.05" stroke-width="0.9"/>
<circle cx="305.12" cy="3141.01" r="3.05" stroke-width="0.9"/>
<circle cx="314.41" cy="3141.01" r="3.05" stroke-width="0.9"/>
<circle cx="323.71" cy="3141.01" r="3.05" stroke-width="0.9"/>
<circle cx="333.0" cy="3141.01" r="3.05" stroke-width="0.9"/>
<circle cx="342.3" cy="3141.01" r="3.05" stroke-width="0.9"/>
<circle cx="351.6" cy="3141.01" r="3.05" stroke-width="0.9"/>
<circle cx="360.89" cy="3141.01" r="3.05" stroke-width="0.9"/>
<circle cx="370.19" cy="3141.01" r="3.05" stroke-width="0.9"/>
<circle cx="379.49" cy="3141.01" r="3.05" stroke-width="0.9"/>
<circle cx="388.78" cy="3141.01" r="3.05" stroke-width="0.9"/>
<circle cx="202.86" cy="3149.99" r="3.05" stroke-width="0.9"/>
<circle cx="212.15" cy="3149.99" r="3.05" stroke-width="0.9"/>
<circle cx="221.45" cy="3149.99" r="3.05" stroke-width="0.9"/>
<circle cx="230.75" cy="3149.99" r="3.05" stroke-width="0.9"/>
<circle cx="240.04" cy="3149.99" r="3.05" stroke-width="0.9"/>
<circle cx="249.34" cy="3149.99" r="3.05" stroke-width="0.9"/>
<circle cx="258.63" cy="3149.99" r="3.05" stroke-width="0.9"/>
<circle cx="267.93" cy="3149.99" r="3.05" stroke-width="0.9"/>
<circle cx="277.23" cy="3149.99" r="3.05" stroke-width="0.9"/>
<circle cx="286.52" cy="3149.99" r="3.05" stroke-width="0.9"/>
<circle cx="295.82" cy="3149.99" r="3.05" stroke-width="0.9"/>
<circle cx="305.12" cy="3149.99" r="3.05" stroke-width="0.9"/>
<circle cx="314.41" cy="3149.99" r="3.05" stroke-width="0.9"/>
<circle cx="323.71" cy="3149.99" r="3.05" stroke-width="0.9"/>
<circle cx="333.0" cy="3149.99" r="3.05" stroke-width="0.9"/>
<circle cx="342.3" cy="3149.99" r="3.05" stroke-width="0.9"/>
<circle cx="351.6" cy="3149.99" r="3.05" stroke-width="0.9"/>
<circle cx="360.89" cy="3149.99" r="3.05" stroke-width="0.9"/>
<circle cx="370.19" cy="3149.99" r="3.05" stroke-width="0.9"/>
<circle cx="379.49" cy="3149.99" r="3.05" stroke-width="0.9"/>
<circle cx="388.78" cy="3149.99" r="3.05" stroke-width="0.9"/>
<rect x="288.47" y="3075.99" width="14.18" height="47.79" stroke-width="1.6"/>
</g>
</svg></body></html>
